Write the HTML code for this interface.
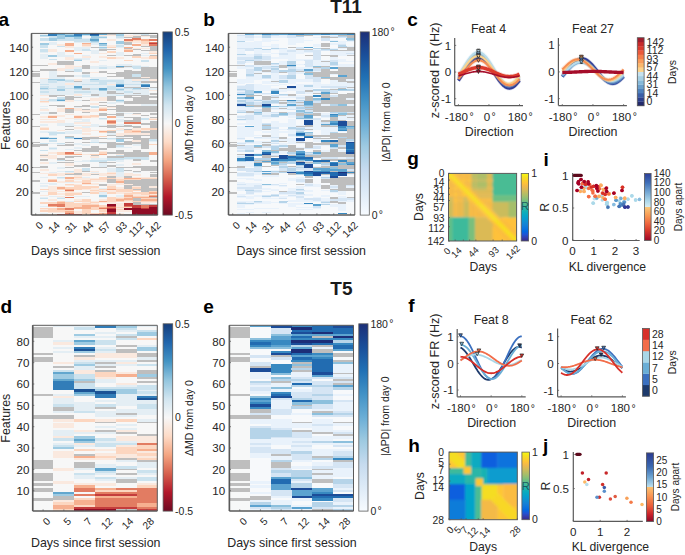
<!DOCTYPE html><html><head><meta charset="utf-8"><style>html,body{margin:0;padding:0;background:#fff;overflow:hidden}svg{display:block}text{font-family:"Liberation Sans",sans-serif}</style></head><body><svg width="685" height="555" viewBox="0 0 685 555" font-family="Liberation Sans, sans-serif">
<rect width="685" height="555" fill="#fff"/>
<text x="-1.60" y="25.60" font-size="19" text-anchor="start" font-weight="bold" fill="#000">a</text>
<text x="203.20" y="25.60" font-size="19" text-anchor="start" font-weight="bold" fill="#000">b</text>
<text x="407.20" y="26.30" font-size="19" text-anchor="start" font-weight="bold" fill="#000">c</text>
<text x="346.00" y="13.10" font-size="19" text-anchor="middle" font-weight="bold" fill="#1a1a1a">T11</text>
<text x="0.40" y="313.20" font-size="19" text-anchor="start" font-weight="bold" fill="#000">d</text>
<text x="203.20" y="313.20" font-size="19" text-anchor="start" font-weight="bold" fill="#000">e</text>
<text x="408.30" y="311.80" font-size="19" text-anchor="start" font-weight="bold" fill="#000">f</text>
<text x="341.40" y="294.80" font-size="19" text-anchor="middle" font-weight="bold" fill="#1a1a1a">T5</text>
<text x="407.20" y="165.30" font-size="19" text-anchor="start" font-weight="bold" fill="#000">g</text>
<text x="408.30" y="451.60" font-size="19" text-anchor="start" font-weight="bold" fill="#000">h</text>
<text x="543.40" y="165.80" font-size="19" text-anchor="start" font-weight="bold" fill="#000">i</text>
<text x="543.00" y="451.60" font-size="19" text-anchor="start" font-weight="bold" fill="#000">j</text>
<defs><clipPath id="hmc1"><rect x="31.5" y="33.4" width="126.2" height="181.6"/></clipPath><filter id="hmf1" x="-2%" y="-2%" width="104%" height="104%"><feGaussianBlur stdDeviation="0.25 0.45"/></filter></defs>
<g clip-path="url(#hmc1)"><g filter="url(#hmf1)" shape-rendering="crispEdges">
<path fill="#f7f8f8" d="M31.5 33.4h8.66v31.52h-8.66zM31.5 65.87h8.66v5.06h-8.66zM31.5 71.88h8.66v1.45h-8.66zM31.5 76.7h8.66v5.06h-8.66zM31.5 82.71h8.66v31.52h-8.66zM31.5 115.18h8.66v11.07h-8.66zM31.5 127.21h8.66v14.68h-8.66zM31.5 142.84h8.66v1.45h-8.66zM31.5 146.45h8.66v20.7h-8.66zM31.5 168.1h8.66v3.86h-8.66zM31.5 172.91h8.66v7.47h-8.66zM31.5 181.33h8.66v11.07h-8.66zM31.5 193.35h8.66v21.9h-8.66z"/>
<path fill="#bebebe" d="M31.5 64.67h8.66v1.45h-8.66zM31.5 70.68h8.66v1.45h-8.66zM31.5 73.09h8.66v3.86h-8.66zM31.5 81.51h8.66v1.45h-8.66zM31.5 113.98h8.66v1.45h-8.66zM31.5 126h8.66v1.45h-8.66zM31.5 141.64h8.66v1.45h-8.66zM31.5 144.04h8.66v2.66h-8.66zM31.5 166.89h8.66v1.45h-8.66zM31.5 171.7h8.66v1.45h-8.66zM31.5 180.12h8.66v1.45h-8.66zM31.5 192.15h8.66v1.45h-8.66zM39.91 64.67h8.66v1.45h-8.66zM39.91 68.28h8.66v2.66h-8.66zM39.91 144.04h8.66v2.66h-8.66zM39.91 154.87h8.66v1.45h-8.66zM39.91 158.48h8.66v2.66h-8.66zM39.91 165.69h8.66v2.66h-8.66zM48.33 68.28h8.66v2.66h-8.66zM48.33 94.74h8.66v2.66h-8.66zM48.33 104.36h8.66v1.45h-8.66zM48.33 111.57h8.66v2.66h-8.66zM56.74 61.06h8.66v3.86h-8.66zM56.74 74.29h8.66v2.66h-8.66zM56.74 94.74h8.66v1.45h-8.66zM56.74 104.36h8.66v2.66h-8.66zM56.74 145.25h8.66v1.45h-8.66zM56.74 157.27h8.66v2.66h-8.66zM56.74 162.08h8.66v1.45h-8.66zM65.15 61.06h8.66v3.86h-8.66zM65.15 70.68h8.66v1.45h-8.66zM65.15 74.29h8.66v2.66h-8.66zM65.15 95.94h8.66v3.86h-8.66zM65.15 109.17h8.66v3.86h-8.66zM65.15 126h8.66v1.45h-8.66zM65.15 128.41h8.66v1.45h-8.66zM65.15 135.63h8.66v1.45h-8.66zM65.15 141.64h8.66v1.45h-8.66zM65.15 144.04h8.66v2.66h-8.66zM65.15 156.07h8.66v2.66h-8.66zM65.15 159.68h8.66v1.45h-8.66zM65.15 162.08h8.66v1.45h-8.66zM65.15 166.89h8.66v1.45h-8.66zM65.15 174.11h8.66v1.45h-8.66zM73.57 80.3h8.66v1.45h-8.66zM73.57 97.14h8.66v1.45h-8.66zM73.57 105.56h8.66v1.45h-8.66zM73.57 150.06h8.66v1.45h-8.66zM73.57 156.07h8.66v1.45h-8.66zM73.57 164.49h8.66v2.66h-8.66zM73.57 172.91h8.66v2.66h-8.66zM81.98 64.67h8.66v5.06h-8.66zM81.98 71.88h8.66v2.66h-8.66zM81.98 87.52h8.66v2.66h-8.66zM81.98 99.55h8.66v1.45h-8.66zM81.98 104.36h8.66v2.66h-8.66zM81.98 109.17h8.66v1.45h-8.66zM81.98 111.57h8.66v1.45h-8.66zM81.98 136.83h8.66v3.86h-8.66zM81.98 141.64h8.66v1.45h-8.66zM81.98 147.65h8.66v5.06h-8.66zM81.98 163.29h8.66v3.86h-8.66zM81.98 170.5h8.66v1.45h-8.66zM81.98 192.15h8.66v1.45h-8.66zM90.39 46.63h8.66v1.45h-8.66zM90.39 93.53h8.66v2.66h-8.66zM90.39 136.83h8.66v2.66h-8.66zM90.39 145.25h8.66v7.47h-8.66zM90.39 154.87h8.66v1.45h-8.66zM90.39 166.89h8.66v1.45h-8.66zM90.39 174.11h8.66v1.45h-8.66zM98.81 49.03h8.66v2.66h-8.66zM98.81 70.68h8.66v2.66h-8.66zM98.81 101.95h8.66v1.45h-8.66zM98.81 104.36h8.66v1.45h-8.66zM98.81 112.77h8.66v3.86h-8.66zM98.81 126h8.66v1.45h-8.66zM98.81 138.03h8.66v1.45h-8.66zM98.81 141.64h8.66v1.45h-8.66zM98.81 147.65h8.66v2.66h-8.66zM98.81 162.08h8.66v1.45h-8.66zM98.81 166.89h8.66v1.45h-8.66zM98.81 183.73h8.66v2.66h-8.66zM107.22 33.4h8.66v1.45h-8.66zM107.22 49.03h8.66v1.45h-8.66zM107.22 55.05h8.66v1.45h-8.66zM107.22 68.28h8.66v1.45h-8.66zM107.22 73.09h8.66v1.45h-8.66zM107.22 75.49h8.66v1.45h-8.66zM107.22 91.13h8.66v2.66h-8.66zM107.22 95.94h8.66v5.06h-8.66zM107.22 105.56h8.66v1.45h-8.66zM107.22 109.17h8.66v1.45h-8.66zM107.22 113.98h8.66v1.45h-8.66zM107.22 124.8h8.66v3.86h-8.66zM107.22 130.81h8.66v2.66h-8.66zM107.22 134.42h8.66v1.45h-8.66zM107.22 141.64h8.66v6.26h-8.66zM107.22 151.26h8.66v2.66h-8.66zM107.22 156.07h8.66v2.66h-8.66zM107.22 162.08h8.66v1.45h-8.66zM107.22 164.49h8.66v2.66h-8.66zM107.22 175.31h8.66v2.66h-8.66zM107.22 178.92h8.66v3.86h-8.66zM115.63 67.07h8.66v1.45h-8.66zM115.63 71.88h8.66v5.06h-8.66zM115.63 92.33h8.66v1.45h-8.66zM115.63 104.36h8.66v7.47h-8.66zM115.63 112.77h8.66v3.86h-8.66zM115.63 126h8.66v1.45h-8.66zM115.63 135.63h8.66v1.45h-8.66zM115.63 138.03h8.66v1.45h-8.66zM115.63 142.84h8.66v2.66h-8.66zM115.63 150.06h8.66v3.86h-8.66zM115.63 156.07h8.66v2.66h-8.66zM115.63 166.89h8.66v1.45h-8.66zM124.05 37.01h8.66v1.45h-8.66zM124.05 41.82h8.66v3.86h-8.66zM124.05 47.83h8.66v1.45h-8.66zM124.05 55.05h8.66v1.45h-8.66zM124.05 65.87h8.66v1.45h-8.66zM124.05 69.48h8.66v9.87h-8.66zM124.05 86.32h8.66v1.45h-8.66zM124.05 94.74h8.66v3.86h-8.66zM124.05 100.75h8.66v3.86h-8.66zM124.05 105.56h8.66v6.26h-8.66zM124.05 116.38h8.66v1.45h-8.66zM124.05 119.99h8.66v2.66h-8.66zM124.05 124.8h8.66v2.66h-8.66zM124.05 128.41h8.66v1.45h-8.66zM124.05 134.42h8.66v2.66h-8.66zM124.05 138.03h8.66v1.45h-8.66zM124.05 140.44h8.66v5.06h-8.66zM124.05 151.26h8.66v6.26h-8.66zM124.05 163.29h8.66v1.45h-8.66zM124.05 166.89h8.66v1.45h-8.66zM124.05 169.3h8.66v1.45h-8.66zM124.05 175.31h8.66v2.66h-8.66zM124.05 180.12h8.66v3.86h-8.66zM124.05 184.93h8.66v3.86h-8.66zM124.05 213.8h8.66v1.45h-8.66zM132.46 35.81h8.66v2.66h-8.66zM132.46 49.03h8.66v1.45h-8.66zM132.46 53.85h8.66v2.66h-8.66zM132.46 70.68h8.66v3.86h-8.66zM132.46 76.7h8.66v2.66h-8.66zM132.46 86.32h8.66v1.45h-8.66zM132.46 92.33h8.66v1.45h-8.66zM132.46 94.74h8.66v1.45h-8.66zM132.46 97.14h8.66v7.47h-8.66zM132.46 105.56h8.66v6.26h-8.66zM132.46 112.77h8.66v1.45h-8.66zM132.46 116.38h8.66v6.26h-8.66zM132.46 126h8.66v2.66h-8.66zM132.46 134.42h8.66v6.26h-8.66zM132.46 141.64h8.66v2.66h-8.66zM132.46 150.06h8.66v7.47h-8.66zM132.46 158.48h8.66v2.66h-8.66zM132.46 165.69h8.66v2.66h-8.66zM132.46 170.5h8.66v1.45h-8.66zM132.46 180.12h8.66v6.26h-8.66zM132.46 188.54h8.66v1.45h-8.66zM132.46 198.16h8.66v2.66h-8.66zM132.46 201.77h8.66v3.86h-8.66zM140.87 34.6h8.66v1.45h-8.66zM140.87 45.43h8.66v1.45h-8.66zM140.87 50.24h8.66v1.45h-8.66zM140.87 67.07h8.66v9.87h-8.66zM140.87 77.9h8.66v1.45h-8.66zM140.87 80.3h8.66v2.66h-8.66zM140.87 87.52h8.66v1.45h-8.66zM140.87 94.74h8.66v9.87h-8.66zM140.87 105.56h8.66v6.26h-8.66zM140.87 115.18h8.66v1.45h-8.66zM140.87 122.4h8.66v2.66h-8.66zM140.87 130.81h8.66v2.66h-8.66zM140.87 134.42h8.66v1.45h-8.66zM140.87 138.03h8.66v11.07h-8.66zM140.87 151.26h8.66v6.26h-8.66zM140.87 163.29h8.66v1.45h-8.66zM140.87 165.69h8.66v5.06h-8.66zM140.87 178.92h8.66v13.48h-8.66zM140.87 204.18h8.66v1.45h-8.66zM149.29 34.6h8.66v3.86h-8.66zM149.29 45.43h8.66v6.26h-8.66zM149.29 55.05h8.66v1.45h-8.66zM149.29 67.07h8.66v12.28h-8.66zM149.29 80.3h8.66v2.66h-8.66zM149.29 86.32h8.66v1.45h-8.66zM149.29 92.33h8.66v2.66h-8.66zM149.29 95.94h8.66v2.66h-8.66zM149.29 99.55h8.66v5.06h-8.66zM149.29 105.56h8.66v6.26h-8.66zM149.29 112.77h8.66v2.66h-8.66zM149.29 116.38h8.66v1.45h-8.66zM149.29 121.19h8.66v7.47h-8.66zM149.29 129.61h8.66v9.87h-8.66zM149.29 159.68h8.66v2.66h-8.66zM149.29 165.69h8.66v5.06h-8.66zM149.29 171.7h8.66v1.45h-8.66zM149.29 174.11h8.66v2.66h-8.66zM149.29 178.92h8.66v7.47h-8.66zM149.29 187.34h8.66v3.86h-8.66zM149.29 196.96h8.66v1.45h-8.66zM149.29 204.18h8.66v1.45h-8.66z"/>
<path fill="#e4eef4" d="M39.91 33.4h8.66v1.45h-8.66zM39.91 51.44h8.66v1.45h-8.66zM39.91 53.85h8.66v5.06h-8.66zM39.91 79.1h8.66v5.06h-8.66zM39.91 85.11h8.66v1.45h-8.66zM39.91 89.92h8.66v1.45h-8.66zM39.91 92.33h8.66v2.66h-8.66zM39.91 99.55h8.66v1.45h-8.66zM39.91 105.56h8.66v1.45h-8.66zM39.91 107.96h8.66v1.45h-8.66zM39.91 111.57h8.66v2.66h-8.66zM39.91 123.6h8.66v2.66h-8.66zM39.91 130.81h8.66v2.66h-8.66zM39.91 176.52h8.66v1.45h-8.66zM39.91 182.53h8.66v1.45h-8.66zM39.91 184.93h8.66v2.66h-8.66zM39.91 190.95h8.66v1.45h-8.66zM39.91 196.96h8.66v1.45h-8.66zM39.91 205.38h8.66v1.45h-8.66zM39.91 212.59h8.66v1.45h-8.66zM48.33 41.82h8.66v3.86h-8.66zM48.33 70.68h8.66v8.67h-8.66zM48.33 82.71h8.66v5.06h-8.66zM48.33 88.72h8.66v6.26h-8.66zM48.33 100.75h8.66v1.45h-8.66zM48.33 130.81h8.66v1.45h-8.66zM48.33 134.42h8.66v1.45h-8.66zM48.33 136.83h8.66v1.45h-8.66zM48.33 139.23h8.66v1.45h-8.66zM48.33 142.84h8.66v1.45h-8.66zM48.33 146.45h8.66v1.45h-8.66zM48.33 148.85h8.66v1.45h-8.66zM48.33 162.08h8.66v2.66h-8.66zM48.33 171.7h8.66v1.45h-8.66zM48.33 182.53h8.66v2.66h-8.66zM48.33 195.76h8.66v1.45h-8.66zM56.74 51.44h8.66v6.26h-8.66zM56.74 76.7h8.66v2.66h-8.66zM56.74 80.3h8.66v6.26h-8.66zM56.74 91.13h8.66v3.86h-8.66zM56.74 100.75h8.66v1.45h-8.66zM56.74 122.4h8.66v3.86h-8.66zM56.74 144.04h8.66v1.45h-8.66zM56.74 166.89h8.66v2.66h-8.66zM56.74 170.5h8.66v1.45h-8.66zM56.74 177.72h8.66v1.45h-8.66zM56.74 196.96h8.66v1.45h-8.66zM65.15 55.05h8.66v2.66h-8.66zM65.15 68.28h8.66v2.66h-8.66zM65.15 79.1h8.66v1.45h-8.66zM65.15 81.51h8.66v1.45h-8.66zM65.15 85.11h8.66v2.66h-8.66zM65.15 88.72h8.66v6.26h-8.66zM65.15 122.4h8.66v3.86h-8.66zM65.15 130.81h8.66v3.86h-8.66zM65.15 148.85h8.66v1.45h-8.66zM65.15 171.7h8.66v1.45h-8.66zM65.15 181.33h8.66v1.45h-8.66zM65.15 200.57h8.66v1.45h-8.66zM73.57 41.82h8.66v1.45h-8.66zM73.57 46.63h8.66v5.06h-8.66zM73.57 57.45h8.66v1.45h-8.66zM73.57 67.07h8.66v2.66h-8.66zM73.57 74.29h8.66v2.66h-8.66zM73.57 81.51h8.66v5.06h-8.66zM73.57 89.92h8.66v1.45h-8.66zM73.57 92.33h8.66v1.45h-8.66zM73.57 95.94h8.66v1.45h-8.66zM73.57 99.55h8.66v1.45h-8.66zM73.57 106.76h8.66v1.45h-8.66zM73.57 118.79h8.66v1.45h-8.66zM73.57 121.19h8.66v1.45h-8.66zM73.57 124.8h8.66v1.45h-8.66zM73.57 129.61h8.66v5.06h-8.66zM73.57 136.83h8.66v1.45h-8.66zM73.57 139.23h8.66v1.45h-8.66zM73.57 142.84h8.66v2.66h-8.66zM73.57 146.45h8.66v2.66h-8.66zM73.57 160.88h8.66v1.45h-8.66zM73.57 195.76h8.66v1.45h-8.66zM81.98 38.21h8.66v1.45h-8.66zM81.98 41.82h8.66v1.45h-8.66zM81.98 46.63h8.66v2.66h-8.66zM81.98 55.05h8.66v1.45h-8.66zM81.98 57.45h8.66v2.66h-8.66zM81.98 74.29h8.66v1.45h-8.66zM81.98 76.7h8.66v1.45h-8.66zM81.98 79.1h8.66v5.06h-8.66zM81.98 85.11h8.66v2.66h-8.66zM81.98 89.92h8.66v1.45h-8.66zM81.98 92.33h8.66v2.66h-8.66zM81.98 95.94h8.66v1.45h-8.66zM81.98 118.79h8.66v3.86h-8.66zM81.98 126h8.66v2.66h-8.66zM81.98 144.04h8.66v2.66h-8.66zM81.98 159.68h8.66v2.66h-8.66zM81.98 176.52h8.66v1.45h-8.66zM81.98 195.76h8.66v1.45h-8.66zM90.39 43.02h8.66v2.66h-8.66zM90.39 50.24h8.66v3.86h-8.66zM90.39 65.87h8.66v3.86h-8.66zM90.39 76.7h8.66v2.66h-8.66zM90.39 81.51h8.66v2.66h-8.66zM90.39 85.11h8.66v2.66h-8.66zM90.39 89.92h8.66v3.86h-8.66zM90.39 95.94h8.66v1.45h-8.66zM90.39 123.6h8.66v3.86h-8.66zM90.39 139.23h8.66v2.66h-8.66zM90.39 157.27h8.66v2.66h-8.66zM90.39 171.7h8.66v1.45h-8.66zM98.81 38.21h8.66v1.45h-8.66zM98.81 45.43h8.66v1.45h-8.66zM98.81 59.86h8.66v1.45h-8.66zM98.81 64.67h8.66v2.66h-8.66zM98.81 76.7h8.66v3.86h-8.66zM98.81 85.11h8.66v2.66h-8.66zM98.81 91.13h8.66v6.26h-8.66zM98.81 118.79h8.66v1.45h-8.66zM98.81 124.8h8.66v1.45h-8.66zM98.81 142.84h8.66v1.45h-8.66zM98.81 157.27h8.66v2.66h-8.66zM98.81 163.29h8.66v3.86h-8.66zM98.81 187.34h8.66v1.45h-8.66zM98.81 192.15h8.66v2.66h-8.66zM98.81 196.96h8.66v1.45h-8.66zM107.22 65.87h8.66v2.66h-8.66zM107.22 79.1h8.66v1.45h-8.66zM107.22 81.51h8.66v2.66h-8.66zM107.22 85.11h8.66v1.45h-8.66zM107.22 89.92h8.66v1.45h-8.66zM107.22 93.53h8.66v2.66h-8.66zM107.22 101.95h8.66v2.66h-8.66zM107.22 133.22h8.66v1.45h-8.66zM107.22 139.23h8.66v1.45h-8.66zM107.22 168.1h8.66v3.86h-8.66zM115.63 38.21h8.66v1.45h-8.66zM115.63 44.22h8.66v1.45h-8.66zM115.63 46.63h8.66v1.45h-8.66zM115.63 51.44h8.66v5.06h-8.66zM115.63 63.47h8.66v2.66h-8.66zM115.63 79.1h8.66v1.45h-8.66zM115.63 86.32h8.66v1.45h-8.66zM115.63 91.13h8.66v1.45h-8.66zM115.63 93.53h8.66v1.45h-8.66zM115.63 98.34h8.66v1.45h-8.66zM115.63 101.95h8.66v1.45h-8.66zM115.63 111.57h8.66v1.45h-8.66zM115.63 116.38h8.66v1.45h-8.66zM115.63 118.79h8.66v3.86h-8.66zM115.63 123.6h8.66v2.66h-8.66zM115.63 129.61h8.66v1.45h-8.66zM115.63 136.83h8.66v1.45h-8.66zM115.63 146.45h8.66v1.45h-8.66zM115.63 159.68h8.66v2.66h-8.66zM115.63 163.29h8.66v2.66h-8.66zM115.63 171.7h8.66v5.06h-8.66zM115.63 194.55h8.66v2.66h-8.66zM124.05 63.47h8.66v2.66h-8.66zM124.05 67.07h8.66v1.45h-8.66zM124.05 79.1h8.66v5.06h-8.66zM124.05 85.11h8.66v1.45h-8.66zM124.05 88.72h8.66v2.66h-8.66zM124.05 92.33h8.66v2.66h-8.66zM124.05 112.77h8.66v1.45h-8.66zM124.05 146.45h8.66v1.45h-8.66zM124.05 158.48h8.66v1.45h-8.66zM132.46 33.4h8.66v1.45h-8.66zM132.46 64.67h8.66v1.45h-8.66zM132.46 68.28h8.66v1.45h-8.66zM132.46 81.51h8.66v2.66h-8.66zM132.46 85.11h8.66v1.45h-8.66zM132.46 89.92h8.66v2.66h-8.66zM132.46 93.53h8.66v1.45h-8.66zM132.46 144.04h8.66v2.66h-8.66zM132.46 171.7h8.66v1.45h-8.66zM140.87 52.64h8.66v1.45h-8.66zM140.87 55.05h8.66v1.45h-8.66zM140.87 65.87h8.66v1.45h-8.66zM140.87 79.1h8.66v1.45h-8.66zM140.87 82.71h8.66v1.45h-8.66zM140.87 86.32h8.66v1.45h-8.66zM140.87 88.72h8.66v6.26h-8.66zM140.87 104.36h8.66v1.45h-8.66zM149.29 87.52h8.66v2.66h-8.66zM149.29 104.36h8.66v1.45h-8.66zM149.29 140.44h8.66v1.45h-8.66z"/>
<path fill="#9fcbe2" d="M39.91 34.6h8.66v1.45h-8.66zM39.91 43.02h8.66v2.66h-8.66zM39.91 87.52h8.66v1.45h-8.66zM39.91 136.83h8.66v1.45h-8.66zM48.33 38.21h8.66v2.66h-8.66zM48.33 55.05h8.66v2.66h-8.66zM48.33 79.1h8.66v1.45h-8.66zM56.74 34.6h8.66v5.06h-8.66zM56.74 79.1h8.66v1.45h-8.66zM56.74 88.72h8.66v2.66h-8.66zM56.74 98.34h8.66v1.45h-8.66zM65.15 33.4h8.66v1.45h-8.66zM65.15 136.83h8.66v1.45h-8.66zM73.57 37.01h8.66v2.66h-8.66zM73.57 59.86h8.66v1.45h-8.66zM73.57 87.52h8.66v1.45h-8.66zM90.39 35.81h8.66v3.86h-8.66zM90.39 40.62h8.66v1.45h-8.66zM90.39 79.1h8.66v1.45h-8.66zM98.81 37.01h8.66v1.45h-8.66zM98.81 44.22h8.66v1.45h-8.66zM98.81 46.63h8.66v1.45h-8.66zM98.81 89.92h8.66v1.45h-8.66zM98.81 194.55h8.66v2.66h-8.66zM115.63 33.4h8.66v2.66h-8.66zM115.63 40.62h8.66v3.86h-8.66zM115.63 88.72h8.66v1.45h-8.66zM115.63 99.55h8.66v1.45h-8.66zM115.63 139.23h8.66v2.66h-8.66zM132.46 87.52h8.66v1.45h-8.66z"/>
<path fill="#cbe2ee" d="M39.91 35.81h8.66v1.45h-8.66zM39.91 38.21h8.66v2.66h-8.66zM39.91 45.43h8.66v2.66h-8.66zM39.91 49.03h8.66v2.66h-8.66zM39.91 83.91h8.66v1.45h-8.66zM39.91 86.32h8.66v1.45h-8.66zM39.91 88.72h8.66v1.45h-8.66zM39.91 91.13h8.66v1.45h-8.66zM39.91 142.84h8.66v1.45h-8.66zM39.91 150.06h8.66v1.45h-8.66zM39.91 198.16h8.66v1.45h-8.66zM48.33 35.81h8.66v2.66h-8.66zM48.33 58.66h8.66v1.45h-8.66zM48.33 80.3h8.66v2.66h-8.66zM48.33 87.52h8.66v1.45h-8.66zM48.33 98.34h8.66v2.66h-8.66zM48.33 132.02h8.66v2.66h-8.66zM48.33 140.44h8.66v1.45h-8.66zM48.33 147.65h8.66v1.45h-8.66zM56.74 39.41h8.66v1.45h-8.66zM56.74 45.43h8.66v1.45h-8.66zM56.74 86.32h8.66v2.66h-8.66zM56.74 97.14h8.66v1.45h-8.66zM56.74 132.02h8.66v2.66h-8.66zM56.74 142.84h8.66v1.45h-8.66zM56.74 159.68h8.66v1.45h-8.66zM56.74 176.52h8.66v1.45h-8.66zM56.74 198.16h8.66v1.45h-8.66zM65.15 37.01h8.66v3.86h-8.66zM65.15 80.3h8.66v1.45h-8.66zM65.15 87.52h8.66v1.45h-8.66zM65.15 138.03h8.66v1.45h-8.66zM65.15 170.5h8.66v1.45h-8.66zM73.57 39.41h8.66v2.66h-8.66zM73.57 58.66h8.66v1.45h-8.66zM73.57 69.48h8.66v2.66h-8.66zM73.57 88.72h8.66v1.45h-8.66zM73.57 91.13h8.66v1.45h-8.66zM81.98 34.6h8.66v1.45h-8.66zM81.98 39.41h8.66v2.66h-8.66zM81.98 49.03h8.66v2.66h-8.66zM81.98 75.49h8.66v1.45h-8.66zM81.98 83.91h8.66v1.45h-8.66zM81.98 91.13h8.66v1.45h-8.66zM81.98 168.1h8.66v2.66h-8.66zM90.39 41.82h8.66v1.45h-8.66zM90.39 80.3h8.66v1.45h-8.66zM90.39 83.91h8.66v1.45h-8.66zM90.39 87.52h8.66v2.66h-8.66zM90.39 105.56h8.66v2.66h-8.66zM90.39 141.64h8.66v1.45h-8.66zM90.39 159.68h8.66v2.66h-8.66zM98.81 35.81h8.66v1.45h-8.66zM98.81 47.83h8.66v1.45h-8.66zM98.81 67.07h8.66v2.66h-8.66zM98.81 80.3h8.66v5.06h-8.66zM98.81 117.59h8.66v1.45h-8.66zM98.81 159.68h8.66v2.66h-8.66zM107.22 80.3h8.66v1.45h-8.66zM107.22 86.32h8.66v3.86h-8.66zM107.22 138.03h8.66v1.45h-8.66zM107.22 158.48h8.66v2.66h-8.66zM115.63 35.81h8.66v2.66h-8.66zM115.63 45.43h8.66v1.45h-8.66zM115.63 80.3h8.66v3.86h-8.66zM115.63 87.52h8.66v1.45h-8.66zM115.63 89.92h8.66v1.45h-8.66zM115.63 94.74h8.66v1.45h-8.66zM115.63 100.75h8.66v1.45h-8.66zM115.63 145.25h8.66v1.45h-8.66zM115.63 154.87h8.66v1.45h-8.66zM115.63 158.48h8.66v1.45h-8.66zM115.63 168.1h8.66v3.86h-8.66zM124.05 83.91h8.66v1.45h-8.66zM124.05 87.52h8.66v1.45h-8.66zM124.05 91.13h8.66v1.45h-8.66zM124.05 157.27h8.66v1.45h-8.66zM132.46 65.87h8.66v2.66h-8.66zM132.46 74.29h8.66v2.66h-8.66zM132.46 80.3h8.66v1.45h-8.66zM132.46 83.91h8.66v1.45h-8.66zM132.46 88.72h8.66v1.45h-8.66zM132.46 157.27h8.66v1.45h-8.66zM140.87 33.4h8.66v1.45h-8.66zM140.87 59.86h8.66v2.66h-8.66zM140.87 117.59h8.66v2.66h-8.66zM140.87 157.27h8.66v2.66h-8.66zM149.29 139.23h8.66v1.45h-8.66z"/>
<path fill="#f7f7f7" d="M39.91 37.01h8.66v1.45h-8.66zM39.91 40.62h8.66v2.66h-8.66zM39.91 47.83h8.66v1.45h-8.66zM39.91 52.64h8.66v1.45h-8.66zM39.91 58.66h8.66v6.26h-8.66zM39.91 65.87h8.66v2.66h-8.66zM39.91 70.68h8.66v7.47h-8.66zM39.91 95.94h8.66v2.66h-8.66zM39.91 103.15h8.66v2.66h-8.66zM39.91 106.76h8.66v1.45h-8.66zM39.91 110.37h8.66v1.45h-8.66zM39.91 113.98h8.66v2.66h-8.66zM39.91 117.59h8.66v1.45h-8.66zM39.91 119.99h8.66v1.45h-8.66zM39.91 122.4h8.66v1.45h-8.66zM39.91 126h8.66v1.45h-8.66zM39.91 129.61h8.66v1.45h-8.66zM39.91 133.22h8.66v3.86h-8.66zM39.91 139.23h8.66v3.86h-8.66zM39.91 146.45h8.66v3.86h-8.66zM39.91 151.26h8.66v2.66h-8.66zM39.91 157.27h8.66v1.45h-8.66zM39.91 160.88h8.66v1.45h-8.66zM39.91 163.29h8.66v2.66h-8.66zM39.91 168.1h8.66v1.45h-8.66zM39.91 170.5h8.66v2.66h-8.66zM39.91 174.11h8.66v2.66h-8.66zM39.91 177.72h8.66v5.06h-8.66zM39.91 183.73h8.66v1.45h-8.66zM39.91 187.34h8.66v1.45h-8.66zM39.91 189.74h8.66v1.45h-8.66zM39.91 192.15h8.66v2.66h-8.66zM39.91 195.76h8.66v1.45h-8.66zM39.91 199.37h8.66v2.66h-8.66zM39.91 204.18h8.66v1.45h-8.66zM39.91 206.58h8.66v1.45h-8.66zM39.91 211.39h8.66v1.45h-8.66zM48.33 40.62h8.66v1.45h-8.66zM48.33 45.43h8.66v3.86h-8.66zM48.33 51.44h8.66v3.86h-8.66zM48.33 57.45h8.66v1.45h-8.66zM48.33 59.86h8.66v3.86h-8.66zM48.33 64.67h8.66v3.86h-8.66zM48.33 97.14h8.66v1.45h-8.66zM48.33 101.95h8.66v2.66h-8.66zM48.33 105.56h8.66v6.26h-8.66zM48.33 113.98h8.66v1.45h-8.66zM48.33 117.59h8.66v1.45h-8.66zM48.33 119.99h8.66v1.45h-8.66zM48.33 122.4h8.66v8.67h-8.66zM48.33 135.63h8.66v1.45h-8.66zM48.33 141.64h8.66v1.45h-8.66zM48.33 144.04h8.66v2.66h-8.66zM48.33 150.06h8.66v2.66h-8.66zM48.33 153.66h8.66v1.45h-8.66zM48.33 158.48h8.66v3.86h-8.66zM48.33 164.49h8.66v7.47h-8.66zM48.33 175.31h8.66v3.86h-8.66zM48.33 181.33h8.66v1.45h-8.66zM48.33 184.93h8.66v1.45h-8.66zM48.33 194.55h8.66v1.45h-8.66zM48.33 196.96h8.66v2.66h-8.66zM48.33 200.57h8.66v1.45h-8.66zM48.33 206.58h8.66v1.45h-8.66zM48.33 212.59h8.66v1.45h-8.66zM56.74 40.62h8.66v3.86h-8.66zM56.74 46.63h8.66v5.06h-8.66zM56.74 57.45h8.66v3.86h-8.66zM56.74 64.67h8.66v3.86h-8.66zM56.74 70.68h8.66v3.86h-8.66zM56.74 95.94h8.66v1.45h-8.66zM56.74 101.95h8.66v2.66h-8.66zM56.74 106.76h8.66v1.45h-8.66zM56.74 111.57h8.66v3.86h-8.66zM56.74 116.38h8.66v3.86h-8.66zM56.74 126h8.66v3.86h-8.66zM56.74 130.81h8.66v1.45h-8.66zM56.74 134.42h8.66v8.67h-8.66zM56.74 146.45h8.66v6.26h-8.66zM56.74 154.87h8.66v2.66h-8.66zM56.74 160.88h8.66v1.45h-8.66zM56.74 163.29h8.66v3.86h-8.66zM56.74 169.3h8.66v1.45h-8.66zM56.74 171.7h8.66v1.45h-8.66zM56.74 175.31h8.66v1.45h-8.66zM56.74 178.92h8.66v2.66h-8.66zM56.74 182.53h8.66v3.86h-8.66zM56.74 189.74h8.66v1.45h-8.66zM56.74 192.15h8.66v1.45h-8.66zM56.74 194.55h8.66v1.45h-8.66zM56.74 199.37h8.66v1.45h-8.66zM56.74 212.59h8.66v1.45h-8.66zM65.15 40.62h8.66v2.66h-8.66zM65.15 47.83h8.66v2.66h-8.66zM65.15 51.44h8.66v3.86h-8.66zM65.15 59.86h8.66v1.45h-8.66zM65.15 71.88h8.66v2.66h-8.66zM65.15 76.7h8.66v2.66h-8.66zM65.15 94.74h8.66v1.45h-8.66zM65.15 101.95h8.66v6.26h-8.66zM65.15 112.77h8.66v1.45h-8.66zM65.15 115.18h8.66v2.66h-8.66zM65.15 118.79h8.66v3.86h-8.66zM65.15 127.21h8.66v1.45h-8.66zM65.15 129.61h8.66v1.45h-8.66zM65.15 134.42h8.66v1.45h-8.66zM65.15 139.23h8.66v2.66h-8.66zM65.15 142.84h8.66v1.45h-8.66zM65.15 146.45h8.66v2.66h-8.66zM65.15 150.06h8.66v2.66h-8.66zM65.15 154.87h8.66v1.45h-8.66zM65.15 158.48h8.66v1.45h-8.66zM65.15 160.88h8.66v1.45h-8.66zM65.15 165.69h8.66v1.45h-8.66zM65.15 168.1h8.66v2.66h-8.66zM65.15 175.31h8.66v1.45h-8.66zM65.15 182.53h8.66v1.45h-8.66zM65.15 186.14h8.66v1.45h-8.66zM65.15 195.76h8.66v1.45h-8.66zM65.15 198.16h8.66v2.66h-8.66zM73.57 43.02h8.66v3.86h-8.66zM73.57 51.44h8.66v1.45h-8.66zM73.57 53.85h8.66v3.86h-8.66zM73.57 61.06h8.66v5.06h-8.66zM73.57 71.88h8.66v2.66h-8.66zM73.57 76.7h8.66v2.66h-8.66zM73.57 98.34h8.66v1.45h-8.66zM73.57 100.75h8.66v5.06h-8.66zM73.57 110.37h8.66v5.06h-8.66zM73.57 119.99h8.66v1.45h-8.66zM73.57 123.6h8.66v1.45h-8.66zM73.57 126h8.66v1.45h-8.66zM73.57 128.41h8.66v1.45h-8.66zM73.57 134.42h8.66v2.66h-8.66zM73.57 140.44h8.66v2.66h-8.66zM73.57 145.25h8.66v1.45h-8.66zM73.57 148.85h8.66v1.45h-8.66zM73.57 151.26h8.66v1.45h-8.66zM73.57 154.87h8.66v1.45h-8.66zM73.57 157.27h8.66v3.86h-8.66zM73.57 162.08h8.66v2.66h-8.66zM73.57 166.89h8.66v2.66h-8.66zM73.57 180.12h8.66v1.45h-8.66zM73.57 182.53h8.66v1.45h-8.66zM73.57 189.74h8.66v2.66h-8.66zM73.57 194.55h8.66v1.45h-8.66zM73.57 196.96h8.66v2.66h-8.66zM73.57 201.77h8.66v1.45h-8.66zM73.57 208.99h8.66v2.66h-8.66zM81.98 35.81h8.66v2.66h-8.66zM81.98 51.44h8.66v3.86h-8.66zM81.98 59.86h8.66v5.06h-8.66zM81.98 69.48h8.66v2.66h-8.66zM81.98 77.9h8.66v1.45h-8.66zM81.98 94.74h8.66v1.45h-8.66zM81.98 97.14h8.66v2.66h-8.66zM81.98 100.75h8.66v3.86h-8.66zM81.98 106.76h8.66v2.66h-8.66zM81.98 112.77h8.66v2.66h-8.66zM81.98 117.59h8.66v1.45h-8.66zM81.98 123.6h8.66v1.45h-8.66zM81.98 132.02h8.66v1.45h-8.66zM81.98 134.42h8.66v2.66h-8.66zM81.98 140.44h8.66v1.45h-8.66zM81.98 142.84h8.66v1.45h-8.66zM81.98 146.45h8.66v1.45h-8.66zM81.98 152.46h8.66v1.45h-8.66zM81.98 154.87h8.66v5.06h-8.66zM81.98 162.08h8.66v1.45h-8.66zM81.98 166.89h8.66v1.45h-8.66zM81.98 171.7h8.66v1.45h-8.66zM81.98 175.31h8.66v1.45h-8.66zM81.98 184.93h8.66v1.45h-8.66zM81.98 189.74h8.66v2.66h-8.66zM81.98 193.35h8.66v2.66h-8.66zM81.98 196.96h8.66v2.66h-8.66zM90.39 45.43h8.66v1.45h-8.66zM90.39 47.83h8.66v2.66h-8.66zM90.39 53.85h8.66v7.47h-8.66zM90.39 62.26h8.66v3.86h-8.66zM90.39 69.48h8.66v2.66h-8.66zM90.39 73.09h8.66v3.86h-8.66zM90.39 97.14h8.66v1.45h-8.66zM90.39 100.75h8.66v2.66h-8.66zM90.39 104.36h8.66v1.45h-8.66zM90.39 107.96h8.66v1.45h-8.66zM90.39 111.57h8.66v3.86h-8.66zM90.39 117.59h8.66v6.26h-8.66zM90.39 127.21h8.66v2.66h-8.66zM90.39 130.81h8.66v5.06h-8.66zM90.39 142.84h8.66v2.66h-8.66zM90.39 152.46h8.66v1.45h-8.66zM90.39 162.08h8.66v5.06h-8.66zM90.39 168.1h8.66v2.66h-8.66zM90.39 175.31h8.66v2.66h-8.66zM90.39 181.33h8.66v1.45h-8.66zM90.39 184.93h8.66v1.45h-8.66zM90.39 193.35h8.66v7.47h-8.66zM90.39 210.19h8.66v2.66h-8.66zM98.81 39.41h8.66v3.86h-8.66zM98.81 51.44h8.66v1.45h-8.66zM98.81 53.85h8.66v2.66h-8.66zM98.81 57.45h8.66v2.66h-8.66zM98.81 61.06h8.66v3.86h-8.66zM98.81 69.48h8.66v1.45h-8.66zM98.81 73.09h8.66v3.86h-8.66zM98.81 100.75h8.66v1.45h-8.66zM98.81 103.15h8.66v1.45h-8.66zM98.81 105.56h8.66v1.45h-8.66zM98.81 110.37h8.66v2.66h-8.66zM98.81 116.38h8.66v1.45h-8.66zM98.81 119.99h8.66v5.06h-8.66zM98.81 127.21h8.66v2.66h-8.66zM98.81 133.22h8.66v2.66h-8.66zM98.81 136.83h8.66v1.45h-8.66zM98.81 139.23h8.66v2.66h-8.66zM98.81 144.04h8.66v3.86h-8.66zM98.81 150.06h8.66v1.45h-8.66zM98.81 154.87h8.66v2.66h-8.66zM98.81 168.1h8.66v5.06h-8.66zM98.81 175.31h8.66v1.45h-8.66zM98.81 181.33h8.66v2.66h-8.66zM98.81 186.14h8.66v1.45h-8.66zM98.81 198.16h8.66v1.45h-8.66zM98.81 202.97h8.66v2.66h-8.66zM107.22 35.81h8.66v3.86h-8.66zM107.22 40.62h8.66v5.06h-8.66zM107.22 47.83h8.66v1.45h-8.66zM107.22 50.24h8.66v1.45h-8.66zM107.22 52.64h8.66v2.66h-8.66zM107.22 56.25h8.66v1.45h-8.66zM107.22 58.66h8.66v7.47h-8.66zM107.22 69.48h8.66v3.86h-8.66zM107.22 74.29h8.66v1.45h-8.66zM107.22 76.7h8.66v2.66h-8.66zM107.22 100.75h8.66v1.45h-8.66zM107.22 104.36h8.66v1.45h-8.66zM107.22 107.96h8.66v1.45h-8.66zM107.22 110.37h8.66v3.86h-8.66zM107.22 115.18h8.66v1.45h-8.66zM107.22 117.59h8.66v2.66h-8.66zM107.22 128.41h8.66v1.45h-8.66zM107.22 135.63h8.66v2.66h-8.66zM107.22 140.44h8.66v1.45h-8.66zM107.22 147.65h8.66v3.86h-8.66zM107.22 153.66h8.66v2.66h-8.66zM107.22 160.88h8.66v1.45h-8.66zM107.22 163.29h8.66v1.45h-8.66zM107.22 166.89h8.66v1.45h-8.66zM107.22 182.53h8.66v1.45h-8.66zM107.22 193.35h8.66v3.86h-8.66zM115.63 39.41h8.66v1.45h-8.66zM115.63 47.83h8.66v3.86h-8.66zM115.63 56.25h8.66v1.45h-8.66zM115.63 58.66h8.66v5.06h-8.66zM115.63 68.28h8.66v3.86h-8.66zM115.63 76.7h8.66v2.66h-8.66zM115.63 95.94h8.66v2.66h-8.66zM115.63 103.15h8.66v1.45h-8.66zM115.63 117.59h8.66v1.45h-8.66zM115.63 122.4h8.66v1.45h-8.66zM115.63 127.21h8.66v1.45h-8.66zM115.63 130.81h8.66v2.66h-8.66zM115.63 141.64h8.66v1.45h-8.66zM115.63 147.65h8.66v2.66h-8.66zM115.63 162.08h8.66v1.45h-8.66zM115.63 165.69h8.66v1.45h-8.66zM115.63 184.93h8.66v2.66h-8.66zM115.63 193.35h8.66v1.45h-8.66zM115.63 201.77h8.66v1.45h-8.66zM115.63 211.39h8.66v1.45h-8.66zM124.05 33.4h8.66v1.45h-8.66zM124.05 38.21h8.66v1.45h-8.66zM124.05 45.43h8.66v1.45h-8.66zM124.05 51.44h8.66v3.86h-8.66zM124.05 56.25h8.66v3.86h-8.66zM124.05 61.06h8.66v2.66h-8.66zM124.05 68.28h8.66v1.45h-8.66zM124.05 98.34h8.66v2.66h-8.66zM124.05 104.36h8.66v1.45h-8.66zM124.05 111.57h8.66v1.45h-8.66zM124.05 113.98h8.66v2.66h-8.66zM124.05 117.59h8.66v2.66h-8.66zM124.05 123.6h8.66v1.45h-8.66zM124.05 127.21h8.66v1.45h-8.66zM124.05 136.83h8.66v1.45h-8.66zM124.05 139.23h8.66v1.45h-8.66zM124.05 145.25h8.66v1.45h-8.66zM124.05 147.65h8.66v3.86h-8.66zM124.05 159.68h8.66v3.86h-8.66zM124.05 164.49h8.66v2.66h-8.66zM124.05 168.1h8.66v1.45h-8.66zM124.05 170.5h8.66v2.66h-8.66zM124.05 211.39h8.66v2.66h-8.66zM132.46 43.02h8.66v1.45h-8.66zM132.46 45.43h8.66v2.66h-8.66zM132.46 50.24h8.66v3.86h-8.66zM132.46 57.45h8.66v7.47h-8.66zM132.46 69.48h8.66v1.45h-8.66zM132.46 95.94h8.66v1.45h-8.66zM132.46 104.36h8.66v1.45h-8.66zM132.46 111.57h8.66v1.45h-8.66zM132.46 115.18h8.66v1.45h-8.66zM132.46 123.6h8.66v2.66h-8.66zM132.46 146.45h8.66v3.86h-8.66zM132.46 160.88h8.66v2.66h-8.66zM132.46 164.49h8.66v1.45h-8.66zM132.46 168.1h8.66v2.66h-8.66zM132.46 172.91h8.66v1.45h-8.66zM132.46 175.31h8.66v1.45h-8.66zM132.46 190.95h8.66v1.45h-8.66zM140.87 37.01h8.66v2.66h-8.66zM140.87 46.63h8.66v1.45h-8.66zM140.87 49.03h8.66v1.45h-8.66zM140.87 51.44h8.66v1.45h-8.66zM140.87 53.85h8.66v1.45h-8.66zM140.87 56.25h8.66v1.45h-8.66zM140.87 58.66h8.66v1.45h-8.66zM140.87 62.26h8.66v3.86h-8.66zM140.87 111.57h8.66v3.86h-8.66zM140.87 116.38h8.66v1.45h-8.66zM140.87 119.99h8.66v2.66h-8.66zM140.87 124.8h8.66v3.86h-8.66zM140.87 135.63h8.66v2.66h-8.66zM140.87 148.85h8.66v2.66h-8.66zM140.87 159.68h8.66v3.86h-8.66zM140.87 164.49h8.66v1.45h-8.66zM140.87 170.5h8.66v6.26h-8.66zM149.29 33.4h8.66v1.45h-8.66zM149.29 38.21h8.66v1.45h-8.66zM149.29 40.62h8.66v1.45h-8.66zM149.29 53.85h8.66v1.45h-8.66zM149.29 58.66h8.66v8.67h-8.66zM149.29 82.71h8.66v3.86h-8.66zM149.29 91.13h8.66v1.45h-8.66zM149.29 94.74h8.66v1.45h-8.66zM149.29 98.34h8.66v1.45h-8.66zM149.29 111.57h8.66v1.45h-8.66zM149.29 115.18h8.66v1.45h-8.66zM149.29 119.99h8.66v1.45h-8.66zM149.29 141.64h8.66v2.66h-8.66zM149.29 145.25h8.66v7.47h-8.66zM149.29 154.87h8.66v5.06h-8.66zM149.29 162.08h8.66v3.86h-8.66zM149.29 170.5h8.66v1.45h-8.66zM149.29 172.91h8.66v1.45h-8.66zM149.29 202.97h8.66v1.45h-8.66z"/>
<path fill="#fae9df" d="M39.91 77.9h8.66v1.45h-8.66zM39.91 94.74h8.66v1.45h-8.66zM39.91 98.34h8.66v1.45h-8.66zM39.91 101.95h8.66v1.45h-8.66zM39.91 109.17h8.66v1.45h-8.66zM39.91 116.38h8.66v1.45h-8.66zM39.91 118.79h8.66v1.45h-8.66zM39.91 121.19h8.66v1.45h-8.66zM39.91 127.21h8.66v1.45h-8.66zM39.91 153.66h8.66v1.45h-8.66zM39.91 156.07h8.66v1.45h-8.66zM39.91 162.08h8.66v1.45h-8.66zM39.91 169.3h8.66v1.45h-8.66zM39.91 172.91h8.66v1.45h-8.66zM39.91 194.55h8.66v1.45h-8.66zM39.91 208.99h8.66v1.45h-8.66zM48.33 49.03h8.66v2.66h-8.66zM48.33 63.47h8.66v1.45h-8.66zM48.33 115.18h8.66v1.45h-8.66zM48.33 118.79h8.66v1.45h-8.66zM48.33 121.19h8.66v1.45h-8.66zM48.33 152.46h8.66v1.45h-8.66zM48.33 154.87h8.66v3.86h-8.66zM48.33 172.91h8.66v1.45h-8.66zM48.33 186.14h8.66v6.26h-8.66zM48.33 199.37h8.66v1.45h-8.66zM48.33 211.39h8.66v1.45h-8.66zM56.74 44.22h8.66v1.45h-8.66zM56.74 68.28h8.66v2.66h-8.66zM56.74 107.96h8.66v3.86h-8.66zM56.74 115.18h8.66v1.45h-8.66zM56.74 119.99h8.66v2.66h-8.66zM56.74 129.61h8.66v1.45h-8.66zM56.74 172.91h8.66v2.66h-8.66zM56.74 181.33h8.66v1.45h-8.66zM56.74 186.14h8.66v1.45h-8.66zM56.74 190.95h8.66v1.45h-8.66zM56.74 193.35h8.66v1.45h-8.66zM56.74 195.76h8.66v1.45h-8.66zM56.74 206.58h8.66v1.45h-8.66zM56.74 211.39h8.66v1.45h-8.66zM65.15 45.43h8.66v2.66h-8.66zM65.15 57.45h8.66v2.66h-8.66zM65.15 64.67h8.66v3.86h-8.66zM65.15 82.71h8.66v2.66h-8.66zM65.15 99.55h8.66v2.66h-8.66zM65.15 113.98h8.66v1.45h-8.66zM65.15 117.59h8.66v1.45h-8.66zM65.15 163.29h8.66v2.66h-8.66zM65.15 178.92h8.66v1.45h-8.66zM65.15 184.93h8.66v1.45h-8.66zM65.15 192.15h8.66v1.45h-8.66zM73.57 65.87h8.66v1.45h-8.66zM73.57 79.1h8.66v1.45h-8.66zM73.57 93.53h8.66v2.66h-8.66zM73.57 107.96h8.66v2.66h-8.66zM73.57 115.18h8.66v1.45h-8.66zM73.57 117.59h8.66v1.45h-8.66zM73.57 122.4h8.66v1.45h-8.66zM73.57 127.21h8.66v1.45h-8.66zM73.57 152.46h8.66v1.45h-8.66zM73.57 169.3h8.66v3.86h-8.66zM73.57 175.31h8.66v1.45h-8.66zM73.57 177.72h8.66v2.66h-8.66zM73.57 181.33h8.66v1.45h-8.66zM73.57 183.73h8.66v1.45h-8.66zM73.57 192.15h8.66v1.45h-8.66zM73.57 199.37h8.66v1.45h-8.66zM73.57 211.39h8.66v2.66h-8.66zM81.98 45.43h8.66v1.45h-8.66zM81.98 56.25h8.66v1.45h-8.66zM81.98 110.37h8.66v1.45h-8.66zM81.98 115.18h8.66v1.45h-8.66zM81.98 122.4h8.66v1.45h-8.66zM81.98 124.8h8.66v1.45h-8.66zM81.98 128.41h8.66v3.86h-8.66zM81.98 133.22h8.66v1.45h-8.66zM81.98 153.66h8.66v1.45h-8.66zM81.98 172.91h8.66v2.66h-8.66zM81.98 177.72h8.66v2.66h-8.66zM81.98 183.73h8.66v1.45h-8.66zM81.98 188.54h8.66v1.45h-8.66zM81.98 201.77h8.66v1.45h-8.66zM90.39 61.06h8.66v1.45h-8.66zM90.39 71.88h8.66v1.45h-8.66zM90.39 98.34h8.66v2.66h-8.66zM90.39 103.15h8.66v1.45h-8.66zM90.39 109.17h8.66v2.66h-8.66zM90.39 116.38h8.66v1.45h-8.66zM90.39 129.61h8.66v1.45h-8.66zM90.39 135.63h8.66v1.45h-8.66zM90.39 156.07h8.66v1.45h-8.66zM90.39 170.5h8.66v1.45h-8.66zM90.39 172.91h8.66v1.45h-8.66zM90.39 177.72h8.66v1.45h-8.66zM90.39 180.12h8.66v1.45h-8.66zM90.39 182.53h8.66v2.66h-8.66zM90.39 187.34h8.66v2.66h-8.66zM90.39 190.95h8.66v1.45h-8.66zM90.39 200.57h8.66v1.45h-8.66zM90.39 202.97h8.66v1.45h-8.66zM98.81 34.6h8.66v1.45h-8.66zM98.81 52.64h8.66v1.45h-8.66zM98.81 56.25h8.66v1.45h-8.66zM98.81 97.14h8.66v3.86h-8.66zM98.81 106.76h8.66v1.45h-8.66zM98.81 129.61h8.66v1.45h-8.66zM98.81 151.26h8.66v1.45h-8.66zM98.81 172.91h8.66v2.66h-8.66zM98.81 180.12h8.66v1.45h-8.66zM98.81 189.74h8.66v1.45h-8.66zM98.81 199.37h8.66v1.45h-8.66zM98.81 201.77h8.66v1.45h-8.66zM98.81 211.39h8.66v1.45h-8.66zM107.22 34.6h8.66v1.45h-8.66zM107.22 39.41h8.66v1.45h-8.66zM107.22 45.43h8.66v1.45h-8.66zM107.22 83.91h8.66v1.45h-8.66zM107.22 106.76h8.66v1.45h-8.66zM107.22 123.6h8.66v1.45h-8.66zM107.22 171.7h8.66v1.45h-8.66zM107.22 174.11h8.66v1.45h-8.66zM107.22 183.73h8.66v2.66h-8.66zM107.22 189.74h8.66v2.66h-8.66zM107.22 201.77h8.66v2.66h-8.66zM115.63 57.45h8.66v1.45h-8.66zM115.63 128.41h8.66v1.45h-8.66zM115.63 133.22h8.66v2.66h-8.66zM115.63 153.66h8.66v1.45h-8.66zM115.63 176.52h8.66v2.66h-8.66zM115.63 182.53h8.66v2.66h-8.66zM115.63 187.34h8.66v1.45h-8.66zM115.63 192.15h8.66v1.45h-8.66zM115.63 196.96h8.66v1.45h-8.66zM115.63 202.97h8.66v3.86h-8.66zM115.63 207.78h8.66v1.45h-8.66zM115.63 210.19h8.66v1.45h-8.66zM115.63 212.59h8.66v1.45h-8.66zM124.05 34.6h8.66v2.66h-8.66zM124.05 133.22h8.66v1.45h-8.66zM124.05 172.91h8.66v2.66h-8.66zM124.05 183.73h8.66v1.45h-8.66zM124.05 192.15h8.66v1.45h-8.66zM124.05 200.57h8.66v2.66h-8.66zM124.05 210.19h8.66v1.45h-8.66zM132.46 34.6h8.66v1.45h-8.66zM132.46 40.62h8.66v2.66h-8.66zM132.46 47.83h8.66v1.45h-8.66zM132.46 79.1h8.66v1.45h-8.66zM132.46 113.98h8.66v1.45h-8.66zM132.46 128.41h8.66v1.45h-8.66zM132.46 133.22h8.66v1.45h-8.66zM132.46 140.44h8.66v1.45h-8.66zM132.46 163.29h8.66v1.45h-8.66zM132.46 174.11h8.66v1.45h-8.66zM132.46 176.52h8.66v1.45h-8.66zM132.46 186.14h8.66v1.45h-8.66zM132.46 193.35h8.66v2.66h-8.66zM140.87 35.81h8.66v1.45h-8.66zM140.87 44.22h8.66v1.45h-8.66zM140.87 47.83h8.66v1.45h-8.66zM140.87 57.45h8.66v1.45h-8.66zM140.87 76.7h8.66v1.45h-8.66zM140.87 129.61h8.66v1.45h-8.66zM140.87 133.22h8.66v1.45h-8.66zM140.87 176.52h8.66v1.45h-8.66zM140.87 194.55h8.66v1.45h-8.66zM140.87 201.77h8.66v2.66h-8.66zM149.29 51.44h8.66v1.45h-8.66zM149.29 79.1h8.66v1.45h-8.66zM149.29 89.92h8.66v1.45h-8.66zM149.29 117.59h8.66v1.45h-8.66zM149.29 176.52h8.66v1.45h-8.66zM149.29 186.14h8.66v1.45h-8.66zM149.29 193.35h8.66v1.45h-8.66zM149.29 201.77h8.66v1.45h-8.66z"/>
<path fill="#fcd6c0" d="M39.91 100.75h8.66v1.45h-8.66zM39.91 128.41h8.66v1.45h-8.66zM39.91 188.54h8.66v1.45h-8.66zM39.91 201.77h8.66v2.66h-8.66zM39.91 207.78h8.66v1.45h-8.66zM39.91 210.19h8.66v1.45h-8.66zM39.91 213.8h8.66v1.45h-8.66zM48.33 174.11h8.66v1.45h-8.66zM48.33 178.92h8.66v1.45h-8.66zM48.33 192.15h8.66v2.66h-8.66zM48.33 201.77h8.66v2.66h-8.66zM48.33 207.78h8.66v3.86h-8.66zM48.33 213.8h8.66v1.45h-8.66zM56.74 152.46h8.66v2.66h-8.66zM56.74 188.54h8.66v1.45h-8.66zM56.74 200.57h8.66v1.45h-8.66zM56.74 210.19h8.66v1.45h-8.66zM65.15 172.91h8.66v1.45h-8.66zM65.15 180.12h8.66v1.45h-8.66zM65.15 183.73h8.66v1.45h-8.66zM65.15 187.34h8.66v1.45h-8.66zM65.15 190.95h8.66v1.45h-8.66zM65.15 193.35h8.66v2.66h-8.66zM65.15 201.77h8.66v6.26h-8.66zM65.15 210.19h8.66v1.45h-8.66zM73.57 176.52h8.66v1.45h-8.66zM73.57 184.93h8.66v5.06h-8.66zM73.57 193.35h8.66v1.45h-8.66zM73.57 200.57h8.66v1.45h-8.66zM73.57 202.97h8.66v3.86h-8.66zM81.98 44.22h8.66v1.45h-8.66zM81.98 116.38h8.66v1.45h-8.66zM81.98 180.12h8.66v2.66h-8.66zM81.98 186.14h8.66v2.66h-8.66zM81.98 199.37h8.66v2.66h-8.66zM81.98 202.97h8.66v2.66h-8.66zM81.98 208.99h8.66v6.26h-8.66zM90.39 115.18h8.66v1.45h-8.66zM90.39 153.66h8.66v1.45h-8.66zM90.39 178.92h8.66v1.45h-8.66zM90.39 186.14h8.66v1.45h-8.66zM90.39 189.74h8.66v1.45h-8.66zM90.39 192.15h8.66v1.45h-8.66zM90.39 201.77h8.66v1.45h-8.66zM90.39 204.18h8.66v1.45h-8.66zM90.39 206.58h8.66v3.86h-8.66zM90.39 212.59h8.66v1.45h-8.66zM98.81 107.96h8.66v1.45h-8.66zM98.81 132.02h8.66v1.45h-8.66zM98.81 135.63h8.66v1.45h-8.66zM98.81 152.46h8.66v1.45h-8.66zM98.81 176.52h8.66v3.86h-8.66zM98.81 188.54h8.66v1.45h-8.66zM98.81 190.95h8.66v1.45h-8.66zM98.81 205.38h8.66v1.45h-8.66zM98.81 208.99h8.66v2.66h-8.66zM107.22 46.63h8.66v1.45h-8.66zM107.22 51.44h8.66v1.45h-8.66zM107.22 57.45h8.66v1.45h-8.66zM107.22 129.61h8.66v1.45h-8.66zM107.22 172.91h8.66v1.45h-8.66zM107.22 177.72h8.66v1.45h-8.66zM107.22 186.14h8.66v2.66h-8.66zM107.22 192.15h8.66v1.45h-8.66zM107.22 196.96h8.66v5.06h-8.66zM115.63 178.92h8.66v2.66h-8.66zM115.63 188.54h8.66v3.86h-8.66zM115.63 198.16h8.66v1.45h-8.66zM115.63 200.57h8.66v1.45h-8.66zM115.63 206.58h8.66v1.45h-8.66zM115.63 208.99h8.66v1.45h-8.66zM115.63 213.8h8.66v1.45h-8.66zM124.05 40.62h8.66v1.45h-8.66zM124.05 49.03h8.66v1.45h-8.66zM124.05 59.86h8.66v1.45h-8.66zM124.05 129.61h8.66v3.86h-8.66zM124.05 178.92h8.66v1.45h-8.66zM124.05 188.54h8.66v3.86h-8.66zM124.05 193.35h8.66v1.45h-8.66zM124.05 196.96h8.66v1.45h-8.66zM124.05 199.37h8.66v1.45h-8.66zM124.05 206.58h8.66v1.45h-8.66zM132.46 39.41h8.66v1.45h-8.66zM132.46 56.25h8.66v1.45h-8.66zM132.46 129.61h8.66v1.45h-8.66zM132.46 132.02h8.66v1.45h-8.66zM132.46 178.92h8.66v1.45h-8.66zM132.46 187.34h8.66v1.45h-8.66zM132.46 189.74h8.66v1.45h-8.66zM132.46 192.15h8.66v1.45h-8.66zM132.46 195.76h8.66v1.45h-8.66zM132.46 200.57h8.66v1.45h-8.66zM140.87 40.62h8.66v3.86h-8.66zM140.87 128.41h8.66v1.45h-8.66zM140.87 177.72h8.66v1.45h-8.66zM140.87 192.15h8.66v2.66h-8.66zM140.87 195.76h8.66v1.45h-8.66zM140.87 198.16h8.66v1.45h-8.66zM140.87 200.57h8.66v1.45h-8.66zM149.29 52.64h8.66v1.45h-8.66zM149.29 56.25h8.66v2.66h-8.66zM149.29 118.79h8.66v1.45h-8.66zM149.29 128.41h8.66v1.45h-8.66zM149.29 144.04h8.66v1.45h-8.66zM149.29 177.72h8.66v1.45h-8.66zM149.29 190.95h8.66v1.45h-8.66zM149.29 198.16h8.66v1.45h-8.66zM149.29 200.57h8.66v1.45h-8.66z"/>
<path fill="#327db8" d="M39.91 138.03h8.66v1.45h-8.66zM48.33 33.4h8.66v2.66h-8.66zM73.57 33.4h8.66v2.66h-8.66zM73.57 138.03h8.66v1.45h-8.66zM90.39 34.6h8.66v1.45h-8.66zM115.63 85.11h8.66v1.45h-8.66zM140.87 85.11h8.66v1.45h-8.66z"/>
<path fill="#f6b090" d="M48.33 116.38h8.66v1.45h-8.66zM48.33 180.12h8.66v1.45h-8.66zM48.33 205.38h8.66v1.45h-8.66zM56.74 187.34h8.66v1.45h-8.66zM56.74 201.77h8.66v2.66h-8.66zM56.74 207.78h8.66v2.66h-8.66zM65.15 43.02h8.66v2.66h-8.66zM65.15 50.24h8.66v1.45h-8.66zM65.15 107.96h8.66v1.45h-8.66zM65.15 153.66h8.66v1.45h-8.66zM65.15 176.52h8.66v2.66h-8.66zM65.15 188.54h8.66v1.45h-8.66zM65.15 211.39h8.66v1.45h-8.66zM73.57 52.64h8.66v1.45h-8.66zM73.57 116.38h8.66v1.45h-8.66zM73.57 153.66h8.66v1.45h-8.66zM73.57 206.58h8.66v2.66h-8.66zM81.98 43.02h8.66v1.45h-8.66zM81.98 182.53h8.66v1.45h-8.66zM81.98 205.38h8.66v3.86h-8.66zM90.39 205.38h8.66v1.45h-8.66zM98.81 109.17h8.66v1.45h-8.66zM98.81 130.81h8.66v1.45h-8.66zM98.81 153.66h8.66v1.45h-8.66zM98.81 200.57h8.66v1.45h-8.66zM98.81 206.58h8.66v1.45h-8.66zM98.81 212.59h8.66v1.45h-8.66zM107.22 116.38h8.66v1.45h-8.66zM107.22 119.99h8.66v1.45h-8.66zM107.22 122.4h8.66v1.45h-8.66zM107.22 188.54h8.66v1.45h-8.66zM115.63 181.33h8.66v1.45h-8.66zM115.63 199.37h8.66v1.45h-8.66zM124.05 46.63h8.66v1.45h-8.66zM124.05 50.24h8.66v1.45h-8.66zM124.05 177.72h8.66v1.45h-8.66zM124.05 194.55h8.66v2.66h-8.66zM124.05 198.16h8.66v1.45h-8.66zM132.46 44.22h8.66v1.45h-8.66zM132.46 130.81h8.66v1.45h-8.66zM132.46 177.72h8.66v1.45h-8.66zM132.46 196.96h8.66v1.45h-8.66zM140.87 39.41h8.66v1.45h-8.66zM140.87 196.96h8.66v1.45h-8.66zM140.87 199.37h8.66v1.45h-8.66zM149.29 152.46h8.66v2.66h-8.66zM149.29 192.15h8.66v1.45h-8.66zM149.29 194.55h8.66v1.45h-8.66zM149.29 199.37h8.66v1.45h-8.66z"/>
<path fill="#63a7ce" d="M48.33 138.03h8.66v1.45h-8.66zM56.74 33.4h8.66v1.45h-8.66zM56.74 99.55h8.66v1.45h-8.66zM65.15 34.6h8.66v2.66h-8.66zM73.57 35.81h8.66v1.45h-8.66zM73.57 86.32h8.66v1.45h-8.66zM81.98 33.4h8.66v1.45h-8.66zM90.39 39.41h8.66v1.45h-8.66zM98.81 33.4h8.66v1.45h-8.66zM98.81 43.02h8.66v1.45h-8.66zM98.81 87.52h8.66v2.66h-8.66zM115.63 65.87h8.66v1.45h-8.66zM115.63 83.91h8.66v1.45h-8.66zM140.87 83.91h8.66v1.45h-8.66z"/>
<path fill="#e27c62" d="M48.33 204.18h8.66v1.45h-8.66zM56.74 204.18h8.66v2.66h-8.66zM65.15 152.46h8.66v1.45h-8.66zM65.15 189.74h8.66v1.45h-8.66zM65.15 196.96h8.66v1.45h-8.66zM65.15 207.78h8.66v2.66h-8.66zM65.15 212.59h8.66v1.45h-8.66zM98.81 207.78h8.66v1.45h-8.66zM98.81 213.8h8.66v1.45h-8.66zM107.22 121.19h8.66v1.45h-8.66zM107.22 206.58h8.66v1.45h-8.66zM124.05 39.41h8.66v1.45h-8.66zM124.05 122.4h8.66v1.45h-8.66zM124.05 205.38h8.66v1.45h-8.66zM132.46 38.21h8.66v1.45h-8.66zM132.46 122.4h8.66v1.45h-8.66zM140.87 205.38h8.66v2.66h-8.66zM149.29 39.41h8.66v1.45h-8.66zM149.29 41.82h8.66v1.45h-8.66zM149.29 44.22h8.66v1.45h-8.66zM149.29 195.76h8.66v1.45h-8.66z"/>
<path fill="#c43c3c" d="M56.74 213.8h8.66v1.45h-8.66zM65.15 213.8h8.66v1.45h-8.66zM73.57 213.8h8.66v1.45h-8.66zM90.39 213.8h8.66v1.45h-8.66zM107.22 205.38h8.66v1.45h-8.66zM107.22 207.78h8.66v1.45h-8.66zM107.22 211.39h8.66v2.66h-8.66zM124.05 202.97h8.66v2.66h-8.66zM132.46 205.38h8.66v2.66h-8.66zM140.87 207.78h8.66v1.45h-8.66zM149.29 43.02h8.66v1.45h-8.66zM149.29 205.38h8.66v1.45h-8.66z"/>
<path fill="#1c5395" d="M90.39 33.4h8.66v1.45h-8.66z"/>
<path fill="#901126" d="M107.22 204.18h8.66v1.45h-8.66zM107.22 208.99h8.66v2.66h-8.66zM107.22 213.8h8.66v1.45h-8.66zM124.05 207.78h8.66v2.66h-8.66zM132.46 207.78h8.66v7.47h-8.66zM140.87 208.99h8.66v6.26h-8.66zM149.29 206.58h8.66v8.67h-8.66z"/>
</g></g>
<path d="M31.50 33.40 H157.70 V215.00 H31.50 Z" fill="none" stroke="#5a5a5a" stroke-width="1"/>
<line x1="31.50" y1="33.40" x2="31.50" y2="215.00" stroke="#5a5a5a" stroke-width="1.6"/>
<line x1="31.50" y1="215.00" x2="157.70" y2="215.00" stroke="#5a5a5a" stroke-width="1.2"/>
<line x1="31.50" y1="191.55" x2="33.10" y2="191.55" stroke="#5a5a5a" stroke-width="0.8"/>
<text x="28.60" y="195.85" font-size="11.6" text-anchor="end" font-weight="normal" fill="#262626">20</text>
<line x1="31.50" y1="167.50" x2="33.10" y2="167.50" stroke="#5a5a5a" stroke-width="0.8"/>
<text x="28.60" y="171.80" font-size="11.6" text-anchor="end" font-weight="normal" fill="#262626">40</text>
<line x1="31.50" y1="143.44" x2="33.10" y2="143.44" stroke="#5a5a5a" stroke-width="0.8"/>
<text x="28.60" y="147.74" font-size="11.6" text-anchor="end" font-weight="normal" fill="#262626">60</text>
<line x1="31.50" y1="119.39" x2="33.10" y2="119.39" stroke="#5a5a5a" stroke-width="0.8"/>
<text x="28.60" y="123.69" font-size="11.6" text-anchor="end" font-weight="normal" fill="#262626">80</text>
<line x1="31.50" y1="95.34" x2="33.10" y2="95.34" stroke="#5a5a5a" stroke-width="0.8"/>
<text x="28.60" y="99.64" font-size="11.6" text-anchor="end" font-weight="normal" fill="#262626">100</text>
<line x1="31.50" y1="71.28" x2="33.10" y2="71.28" stroke="#5a5a5a" stroke-width="0.8"/>
<text x="28.60" y="75.58" font-size="11.6" text-anchor="end" font-weight="normal" fill="#262626">120</text>
<line x1="31.50" y1="47.23" x2="33.10" y2="47.23" stroke="#5a5a5a" stroke-width="0.8"/>
<text x="28.60" y="51.53" font-size="11.6" text-anchor="end" font-weight="normal" fill="#262626">140</text>
<line x1="35.71" y1="215.00" x2="35.71" y2="213.40" stroke="#5a5a5a" stroke-width="0.8"/>
<text x="43.71" y="226.00" font-size="10.3" text-anchor="end" font-weight="normal" fill="#262626" transform="rotate(-45 43.71 226.00)">0</text>
<line x1="52.53" y1="215.00" x2="52.53" y2="213.40" stroke="#5a5a5a" stroke-width="0.8"/>
<text x="60.53" y="226.00" font-size="10.3" text-anchor="end" font-weight="normal" fill="#262626" transform="rotate(-45 60.53 226.00)">14</text>
<line x1="69.36" y1="215.00" x2="69.36" y2="213.40" stroke="#5a5a5a" stroke-width="0.8"/>
<text x="77.36" y="226.00" font-size="10.3" text-anchor="end" font-weight="normal" fill="#262626" transform="rotate(-45 77.36 226.00)">31</text>
<line x1="86.19" y1="215.00" x2="86.19" y2="213.40" stroke="#5a5a5a" stroke-width="0.8"/>
<text x="94.19" y="226.00" font-size="10.3" text-anchor="end" font-weight="normal" fill="#262626" transform="rotate(-45 94.19 226.00)">44</text>
<line x1="103.01" y1="215.00" x2="103.01" y2="213.40" stroke="#5a5a5a" stroke-width="0.8"/>
<text x="111.01" y="226.00" font-size="10.3" text-anchor="end" font-weight="normal" fill="#262626" transform="rotate(-45 111.01 226.00)">57</text>
<line x1="119.84" y1="215.00" x2="119.84" y2="213.40" stroke="#5a5a5a" stroke-width="0.8"/>
<text x="127.84" y="226.00" font-size="10.3" text-anchor="end" font-weight="normal" fill="#262626" transform="rotate(-45 127.84 226.00)">93</text>
<line x1="136.67" y1="215.00" x2="136.67" y2="213.40" stroke="#5a5a5a" stroke-width="0.8"/>
<text x="144.67" y="226.00" font-size="10.3" text-anchor="end" font-weight="normal" fill="#262626" transform="rotate(-45 144.67 226.00)">112</text>
<line x1="153.49" y1="215.00" x2="153.49" y2="213.40" stroke="#5a5a5a" stroke-width="0.8"/>
<text x="161.49" y="226.00" font-size="10.3" text-anchor="end" font-weight="normal" fill="#262626" transform="rotate(-45 161.49 226.00)">142</text>
<defs><linearGradient id="g_rdbu" x1="0" y1="1" x2="0" y2="0"><stop offset="0" stop-color="#6d0a22"/><stop offset="0.1" stop-color="#b2182b"/><stop offset="0.2" stop-color="#d6604d"/><stop offset="0.3" stop-color="#f4a582"/><stop offset="0.4" stop-color="#fddbc7"/><stop offset="0.5" stop-color="#f7f7f7"/><stop offset="0.6" stop-color="#d1e5f0"/><stop offset="0.7" stop-color="#92c5de"/><stop offset="0.8" stop-color="#4393c3"/><stop offset="0.9" stop-color="#2166ac"/><stop offset="1.0" stop-color="#163f7d"/></linearGradient></defs>
<rect x="162.90" y="31.90" width="9.40" height="183.20" fill="url(#g_rdbu)"/>
<rect x="162.90" y="31.90" width="9.40" height="183.20" fill="none" stroke="#5a5a5a" stroke-width="0.8"/>
<text x="174.80" y="35.70" font-size="10.5" text-anchor="start" font-weight="normal" fill="#262626">0.5</text>
<text x="174.80" y="127.20" font-size="10.5" text-anchor="start" font-weight="normal" fill="#262626">0</text>
<text x="174.80" y="218.70" font-size="10.5" text-anchor="start" font-weight="normal" fill="#262626">-0.5</text>
<text x="192.60" y="124.20" font-size="10.5" text-anchor="middle" font-weight="normal" fill="#262626" transform="rotate(-90 192.60 124.20)">ΔMD from day 0</text>
<text x="10.20" y="125.60" font-size="12.4" text-anchor="middle" font-weight="normal" fill="#262626" transform="rotate(-90 10.20 125.60)">Features</text>
<text x="95.70" y="254.70" font-size="12.4" text-anchor="middle" font-weight="normal" fill="#262626">Days since first session</text>
<defs><clipPath id="hmc2"><rect x="228.5" y="33.4" width="126.3" height="181.6"/></clipPath><filter id="hmf2" x="-2%" y="-2%" width="104%" height="104%"><feGaussianBlur stdDeviation="0.25 0.45"/></filter></defs>
<g clip-path="url(#hmc2)"><g filter="url(#hmf2)" shape-rendering="crispEdges">
<path fill="#f7f8f8" d="M228.5 33.4h8.67v31.52h-8.67zM228.5 65.87h8.67v5.06h-8.67zM228.5 71.88h8.67v1.45h-8.67zM228.5 76.7h8.67v5.06h-8.67zM228.5 82.71h8.67v31.52h-8.67zM228.5 115.18h8.67v11.07h-8.67zM228.5 127.21h8.67v14.68h-8.67zM228.5 142.84h8.67v1.45h-8.67zM228.5 146.45h8.67v20.7h-8.67zM228.5 168.1h8.67v3.86h-8.67zM228.5 172.91h8.67v7.47h-8.67zM228.5 181.33h8.67v11.07h-8.67zM228.5 193.35h8.67v21.9h-8.67z"/>
<path fill="#bebebe" d="M228.5 64.67h8.67v1.45h-8.67zM228.5 70.68h8.67v1.45h-8.67zM228.5 73.09h8.67v3.86h-8.67zM228.5 81.51h8.67v1.45h-8.67zM228.5 113.98h8.67v1.45h-8.67zM228.5 126h8.67v1.45h-8.67zM228.5 141.64h8.67v1.45h-8.67zM228.5 144.04h8.67v2.66h-8.67zM228.5 166.89h8.67v1.45h-8.67zM228.5 171.7h8.67v1.45h-8.67zM228.5 180.12h8.67v1.45h-8.67zM228.5 192.15h8.67v1.45h-8.67zM236.92 64.67h8.67v1.45h-8.67zM236.92 68.28h8.67v1.45h-8.67zM236.92 145.25h8.67v1.45h-8.67zM236.92 153.66h8.67v1.45h-8.67zM236.92 157.27h8.67v1.45h-8.67zM236.92 165.69h8.67v2.66h-8.67zM245.34 68.28h8.67v1.45h-8.67zM245.34 94.74h8.67v2.66h-8.67zM245.34 104.36h8.67v1.45h-8.67zM245.34 110.37h8.67v2.66h-8.67zM253.76 61.06h8.67v3.86h-8.67zM253.76 73.09h8.67v1.45h-8.67zM253.76 94.74h8.67v1.45h-8.67zM253.76 104.36h8.67v2.66h-8.67zM253.76 146.45h8.67v1.45h-8.67zM253.76 157.27h8.67v1.45h-8.67zM253.76 159.68h8.67v1.45h-8.67zM253.76 162.08h8.67v1.45h-8.67zM262.18 61.06h8.67v3.86h-8.67zM262.18 69.48h8.67v2.66h-8.67zM262.18 74.29h8.67v1.45h-8.67zM262.18 95.94h8.67v3.86h-8.67zM262.18 107.96h8.67v3.86h-8.67zM262.18 124.8h8.67v1.45h-8.67zM262.18 128.41h8.67v1.45h-8.67zM262.18 134.42h8.67v2.66h-8.67zM262.18 141.64h8.67v1.45h-8.67zM262.18 144.04h8.67v2.66h-8.67zM262.18 154.87h8.67v3.86h-8.67zM262.18 159.68h8.67v1.45h-8.67zM262.18 162.08h8.67v1.45h-8.67zM262.18 165.69h8.67v1.45h-8.67zM262.18 174.11h8.67v1.45h-8.67zM270.6 80.3h8.67v1.45h-8.67zM270.6 97.14h8.67v1.45h-8.67zM270.6 150.06h8.67v1.45h-8.67zM270.6 156.07h8.67v1.45h-8.67zM270.6 164.49h8.67v1.45h-8.67zM270.6 172.91h8.67v2.66h-8.67zM279.02 64.67h8.67v3.86h-8.67zM279.02 71.88h8.67v1.45h-8.67zM279.02 87.52h8.67v1.45h-8.67zM279.02 99.55h8.67v1.45h-8.67zM279.02 101.95h8.67v2.66h-8.67zM279.02 107.96h8.67v1.45h-8.67zM279.02 111.57h8.67v1.45h-8.67zM279.02 136.83h8.67v2.66h-8.67zM279.02 140.44h8.67v1.45h-8.67zM279.02 147.65h8.67v3.86h-8.67zM279.02 162.08h8.67v1.45h-8.67zM279.02 170.5h8.67v1.45h-8.67zM279.02 190.95h8.67v1.45h-8.67zM287.44 46.63h8.67v1.45h-8.67zM287.44 93.53h8.67v2.66h-8.67zM287.44 145.25h8.67v7.47h-8.67zM287.44 154.87h8.67v1.45h-8.67zM287.44 165.69h8.67v1.45h-8.67zM287.44 172.91h8.67v2.66h-8.67zM295.86 34.6h8.67v1.45h-8.67zM295.86 49.03h8.67v1.45h-8.67zM295.86 70.68h8.67v1.45h-8.67zM295.86 101.95h8.67v1.45h-8.67zM295.86 104.36h8.67v1.45h-8.67zM295.86 112.77h8.67v3.86h-8.67zM295.86 126h8.67v1.45h-8.67zM295.86 141.64h8.67v1.45h-8.67zM295.86 147.65h8.67v2.66h-8.67zM295.86 160.88h8.67v1.45h-8.67zM295.86 183.73h8.67v1.45h-8.67zM304.28 34.6h8.67v1.45h-8.67zM304.28 49.03h8.67v1.45h-8.67zM304.28 55.05h8.67v1.45h-8.67zM304.28 68.28h8.67v1.45h-8.67zM304.28 71.88h8.67v1.45h-8.67zM304.28 74.29h8.67v1.45h-8.67zM304.28 89.92h8.67v2.66h-8.67zM304.28 95.94h8.67v5.06h-8.67zM304.28 106.76h8.67v1.45h-8.67zM304.28 109.17h8.67v1.45h-8.67zM304.28 113.98h8.67v1.45h-8.67zM304.28 124.8h8.67v2.66h-8.67zM304.28 128.41h8.67v1.45h-8.67zM304.28 134.42h8.67v1.45h-8.67zM304.28 141.64h8.67v6.26h-8.67zM304.28 154.87h8.67v2.66h-8.67zM304.28 162.08h8.67v1.45h-8.67zM304.28 175.31h8.67v2.66h-8.67zM304.28 178.92h8.67v3.86h-8.67zM312.7 67.07h8.67v1.45h-8.67zM312.7 71.88h8.67v5.06h-8.67zM312.7 92.33h8.67v1.45h-8.67zM312.7 103.15h8.67v8.67h-8.67zM312.7 112.77h8.67v3.86h-8.67zM312.7 134.42h8.67v2.66h-8.67zM312.7 138.03h8.67v1.45h-8.67zM312.7 142.84h8.67v2.66h-8.67zM312.7 150.06h8.67v2.66h-8.67zM312.7 154.87h8.67v3.86h-8.67zM312.7 166.89h8.67v1.45h-8.67zM321.12 35.81h8.67v2.66h-8.67zM321.12 43.02h8.67v3.86h-8.67zM321.12 47.83h8.67v1.45h-8.67zM321.12 55.05h8.67v1.45h-8.67zM321.12 61.06h8.67v1.45h-8.67zM321.12 65.87h8.67v1.45h-8.67zM321.12 68.28h8.67v8.67h-8.67zM321.12 77.9h8.67v1.45h-8.67zM321.12 93.53h8.67v5.06h-8.67zM321.12 99.55h8.67v5.06h-8.67zM321.12 105.56h8.67v6.26h-8.67zM321.12 119.99h8.67v2.66h-8.67zM321.12 124.8h8.67v2.66h-8.67zM321.12 134.42h8.67v2.66h-8.67zM321.12 138.03h8.67v1.45h-8.67zM321.12 141.64h8.67v3.86h-8.67zM321.12 151.26h8.67v6.26h-8.67zM321.12 158.48h8.67v1.45h-8.67zM321.12 162.08h8.67v1.45h-8.67zM321.12 165.69h8.67v2.66h-8.67zM321.12 174.11h8.67v1.45h-8.67zM321.12 178.92h8.67v3.86h-8.67zM321.12 184.93h8.67v3.86h-8.67zM321.12 213.8h8.67v1.45h-8.67zM329.54 37.01h8.67v1.45h-8.67zM329.54 50.24h8.67v1.45h-8.67zM329.54 55.05h8.67v2.66h-8.67zM329.54 70.68h8.67v3.86h-8.67zM329.54 76.7h8.67v3.86h-8.67zM329.54 88.72h8.67v1.45h-8.67zM329.54 92.33h8.67v1.45h-8.67zM329.54 97.14h8.67v7.47h-8.67zM329.54 105.56h8.67v6.26h-8.67zM329.54 116.38h8.67v5.06h-8.67zM329.54 126h8.67v1.45h-8.67zM329.54 133.22h8.67v6.26h-8.67zM329.54 141.64h8.67v2.66h-8.67zM329.54 148.85h8.67v8.67h-8.67zM329.54 158.48h8.67v2.66h-8.67zM329.54 165.69h8.67v1.45h-8.67zM329.54 170.5h8.67v1.45h-8.67zM329.54 177.72h8.67v7.47h-8.67zM329.54 188.54h8.67v1.45h-8.67zM329.54 196.96h8.67v2.66h-8.67zM329.54 200.57h8.67v2.66h-8.67zM337.96 34.6h8.67v1.45h-8.67zM337.96 46.63h8.67v1.45h-8.67zM337.96 50.24h8.67v1.45h-8.67zM337.96 67.07h8.67v8.67h-8.67zM337.96 76.7h8.67v5.06h-8.67zM337.96 87.52h8.67v1.45h-8.67zM337.96 93.53h8.67v11.07h-8.67zM337.96 105.56h8.67v6.26h-8.67zM337.96 115.18h8.67v1.45h-8.67zM337.96 119.99h8.67v1.45h-8.67zM337.96 133.22h8.67v3.86h-8.67zM337.96 138.03h8.67v7.47h-8.67zM337.96 146.45h8.67v2.66h-8.67zM337.96 151.26h8.67v6.26h-8.67zM337.96 158.48h8.67v1.45h-8.67zM337.96 162.08h8.67v1.45h-8.67zM337.96 164.49h8.67v5.06h-8.67zM337.96 176.52h8.67v14.68h-8.67zM337.96 201.77h8.67v2.66h-8.67zM346.38 34.6h8.67v3.86h-8.67zM346.38 46.63h8.67v5.06h-8.67zM346.38 55.05h8.67v1.45h-8.67zM346.38 67.07h8.67v12.28h-8.67zM346.38 80.3h8.67v2.66h-8.67zM346.38 86.32h8.67v1.45h-8.67zM346.38 92.33h8.67v6.26h-8.67zM346.38 99.55h8.67v5.06h-8.67zM346.38 105.56h8.67v6.26h-8.67zM346.38 112.77h8.67v2.66h-8.67zM346.38 116.38h8.67v1.45h-8.67zM346.38 121.19h8.67v5.06h-8.67zM346.38 128.41h8.67v11.07h-8.67zM346.38 153.66h8.67v3.86h-8.67zM346.38 158.48h8.67v3.86h-8.67zM346.38 164.49h8.67v5.06h-8.67zM346.38 170.5h8.67v1.45h-8.67zM346.38 172.91h8.67v1.45h-8.67zM346.38 176.52h8.67v8.67h-8.67zM346.38 187.34h8.67v3.86h-8.67zM346.38 196.96h8.67v1.45h-8.67z"/>
<path fill="#e9f2fb" d="M236.92 33.4h8.67v1.45h-8.67zM236.92 35.81h8.67v5.06h-8.67zM236.92 41.82h8.67v6.26h-8.67zM236.92 49.03h8.67v5.06h-8.67zM236.92 55.05h8.67v2.66h-8.67zM236.92 59.86h8.67v1.45h-8.67zM236.92 63.47h8.67v1.45h-8.67zM236.92 65.87h8.67v2.66h-8.67zM236.92 79.1h8.67v5.06h-8.67zM236.92 85.11h8.67v1.45h-8.67zM236.92 91.13h8.67v1.45h-8.67zM236.92 95.94h8.67v1.45h-8.67zM236.92 98.34h8.67v1.45h-8.67zM236.92 106.76h8.67v3.86h-8.67zM236.92 115.18h8.67v1.45h-8.67zM236.92 117.59h8.67v1.45h-8.67zM236.92 119.99h8.67v1.45h-8.67zM236.92 122.4h8.67v2.66h-8.67zM236.92 126h8.67v12.28h-8.67zM236.92 139.23h8.67v1.45h-8.67zM236.92 141.64h8.67v1.45h-8.67zM236.92 144.04h8.67v1.45h-8.67zM236.92 148.85h8.67v1.45h-8.67zM236.92 151.26h8.67v1.45h-8.67zM236.92 154.87h8.67v1.45h-8.67zM236.92 162.08h8.67v3.86h-8.67zM236.92 171.7h8.67v1.45h-8.67zM236.92 175.31h8.67v1.45h-8.67zM236.92 177.72h8.67v1.45h-8.67zM236.92 181.33h8.67v2.66h-8.67zM236.92 184.93h8.67v2.66h-8.67zM236.92 188.54h8.67v2.66h-8.67zM236.92 193.35h8.67v2.66h-8.67zM236.92 196.96h8.67v1.45h-8.67zM236.92 200.57h8.67v1.45h-8.67zM236.92 204.18h8.67v3.86h-8.67zM236.92 208.99h8.67v1.45h-8.67zM236.92 212.59h8.67v1.45h-8.67zM245.34 38.21h8.67v2.66h-8.67zM245.34 41.82h8.67v6.26h-8.67zM245.34 53.85h8.67v3.86h-8.67zM245.34 61.06h8.67v2.66h-8.67zM245.34 67.07h8.67v1.45h-8.67zM245.34 76.7h8.67v6.26h-8.67zM245.34 106.76h8.67v3.86h-8.67zM245.34 112.77h8.67v2.66h-8.67zM245.34 119.99h8.67v5.06h-8.67zM245.34 127.21h8.67v9.87h-8.67zM245.34 142.84h8.67v1.45h-8.67zM245.34 151.26h8.67v1.45h-8.67zM245.34 162.08h8.67v5.06h-8.67zM245.34 171.7h8.67v1.45h-8.67zM245.34 175.31h8.67v1.45h-8.67zM245.34 177.72h8.67v2.66h-8.67zM245.34 182.53h8.67v5.06h-8.67zM245.34 193.35h8.67v1.45h-8.67zM245.34 195.76h8.67v3.86h-8.67zM245.34 200.57h8.67v2.66h-8.67zM245.34 204.18h8.67v1.45h-8.67zM245.34 208.99h8.67v1.45h-8.67zM245.34 211.39h8.67v1.45h-8.67zM245.34 213.8h8.67v1.45h-8.67zM253.76 35.81h8.67v2.66h-8.67zM253.76 40.62h8.67v7.47h-8.67zM253.76 49.03h8.67v5.06h-8.67zM253.76 64.67h8.67v2.66h-8.67zM253.76 70.68h8.67v2.66h-8.67zM253.76 74.29h8.67v6.26h-8.67zM253.76 83.91h8.67v7.47h-8.67zM253.76 98.34h8.67v1.45h-8.67zM253.76 100.75h8.67v1.45h-8.67zM253.76 106.76h8.67v1.45h-8.67zM253.76 115.18h8.67v15.88h-8.67zM253.76 134.42h8.67v1.45h-8.67zM253.76 138.03h8.67v1.45h-8.67zM253.76 140.44h8.67v3.86h-8.67zM253.76 147.65h8.67v2.66h-8.67zM253.76 152.46h8.67v1.45h-8.67zM253.76 171.7h8.67v3.86h-8.67zM253.76 178.92h8.67v2.66h-8.67zM253.76 182.53h8.67v2.66h-8.67zM253.76 188.54h8.67v1.45h-8.67zM253.76 192.15h8.67v1.45h-8.67zM253.76 194.55h8.67v2.66h-8.67zM253.76 202.97h8.67v1.45h-8.67zM253.76 207.78h8.67v1.45h-8.67zM262.18 38.21h8.67v3.86h-8.67zM262.18 45.43h8.67v1.45h-8.67zM262.18 50.24h8.67v2.66h-8.67zM262.18 53.85h8.67v2.66h-8.67zM262.18 59.86h8.67v1.45h-8.67zM262.18 64.67h8.67v1.45h-8.67zM262.18 68.28h8.67v1.45h-8.67zM262.18 71.88h8.67v1.45h-8.67zM262.18 80.3h8.67v3.86h-8.67zM262.18 85.11h8.67v6.26h-8.67zM262.18 93.53h8.67v1.45h-8.67zM262.18 111.57h8.67v3.86h-8.67zM262.18 116.38h8.67v2.66h-8.67zM262.18 130.81h8.67v2.66h-8.67zM262.18 136.83h8.67v2.66h-8.67zM262.18 140.44h8.67v1.45h-8.67zM262.18 142.84h8.67v1.45h-8.67zM262.18 171.7h8.67v1.45h-8.67zM262.18 175.31h8.67v1.45h-8.67zM262.18 184.93h8.67v1.45h-8.67zM262.18 187.34h8.67v2.66h-8.67zM262.18 190.95h8.67v1.45h-8.67zM262.18 196.96h8.67v2.66h-8.67zM262.18 200.57h8.67v3.86h-8.67zM262.18 207.78h8.67v1.45h-8.67zM262.18 211.39h8.67v1.45h-8.67zM270.6 35.81h8.67v2.66h-8.67zM270.6 39.41h8.67v1.45h-8.67zM270.6 44.22h8.67v3.86h-8.67zM270.6 49.03h8.67v1.45h-8.67zM270.6 52.64h8.67v1.45h-8.67zM270.6 56.25h8.67v2.66h-8.67zM270.6 64.67h8.67v1.45h-8.67zM270.6 73.09h8.67v7.47h-8.67zM270.6 81.51h8.67v2.66h-8.67zM270.6 85.11h8.67v1.45h-8.67zM270.6 87.52h8.67v1.45h-8.67zM270.6 98.34h8.67v1.45h-8.67zM270.6 106.76h8.67v1.45h-8.67zM270.6 109.17h8.67v1.45h-8.67zM270.6 112.77h8.67v1.45h-8.67zM270.6 116.38h8.67v1.45h-8.67zM270.6 121.19h8.67v6.26h-8.67zM270.6 128.41h8.67v8.67h-8.67zM270.6 138.03h8.67v2.66h-8.67zM270.6 141.64h8.67v1.45h-8.67zM270.6 153.66h8.67v1.45h-8.67zM270.6 166.89h8.67v1.45h-8.67zM270.6 169.3h8.67v1.45h-8.67zM270.6 175.31h8.67v1.45h-8.67zM270.6 184.93h8.67v1.45h-8.67zM270.6 188.54h8.67v2.66h-8.67zM270.6 198.16h8.67v1.45h-8.67zM270.6 201.77h8.67v1.45h-8.67zM270.6 207.78h8.67v1.45h-8.67zM279.02 34.6h8.67v3.86h-8.67zM279.02 49.03h8.67v3.86h-8.67zM279.02 55.05h8.67v3.86h-8.67zM279.02 61.06h8.67v3.86h-8.67zM279.02 74.29h8.67v1.45h-8.67zM279.02 79.1h8.67v1.45h-8.67zM279.02 83.91h8.67v1.45h-8.67zM279.02 88.72h8.67v3.86h-8.67zM279.02 97.14h8.67v1.45h-8.67zM279.02 100.75h8.67v1.45h-8.67zM279.02 104.36h8.67v1.45h-8.67zM279.02 106.76h8.67v1.45h-8.67zM279.02 109.17h8.67v1.45h-8.67zM279.02 122.4h8.67v5.06h-8.67zM279.02 128.41h8.67v1.45h-8.67zM279.02 130.81h8.67v2.66h-8.67zM279.02 139.23h8.67v1.45h-8.67zM279.02 142.84h8.67v2.66h-8.67zM279.02 146.45h8.67v1.45h-8.67zM279.02 151.26h8.67v2.66h-8.67zM279.02 182.53h8.67v1.45h-8.67zM279.02 186.14h8.67v1.45h-8.67zM279.02 193.35h8.67v1.45h-8.67zM279.02 195.76h8.67v2.66h-8.67zM279.02 202.97h8.67v1.45h-8.67zM287.44 38.21h8.67v7.47h-8.67zM287.44 49.03h8.67v1.45h-8.67zM287.44 51.44h8.67v9.87h-8.67zM287.44 79.1h8.67v5.06h-8.67zM287.44 88.72h8.67v2.66h-8.67zM287.44 95.94h8.67v2.66h-8.67zM287.44 106.76h8.67v2.66h-8.67zM287.44 115.18h8.67v2.66h-8.67zM287.44 118.79h8.67v8.67h-8.67zM287.44 129.61h8.67v5.06h-8.67zM287.44 135.63h8.67v1.45h-8.67zM287.44 138.03h8.67v6.26h-8.67zM287.44 163.29h8.67v1.45h-8.67zM287.44 177.72h8.67v3.86h-8.67zM287.44 187.34h8.67v3.86h-8.67zM287.44 193.35h8.67v1.45h-8.67zM287.44 195.76h8.67v1.45h-8.67zM287.44 199.37h8.67v2.66h-8.67zM287.44 202.97h8.67v3.86h-8.67zM295.86 37.01h8.67v6.26h-8.67zM295.86 50.24h8.67v3.86h-8.67zM295.86 58.66h8.67v2.66h-8.67zM295.86 63.47h8.67v1.45h-8.67zM295.86 67.07h8.67v2.66h-8.67zM295.86 71.88h8.67v2.66h-8.67zM295.86 79.1h8.67v2.66h-8.67zM295.86 83.91h8.67v7.47h-8.67zM295.86 94.74h8.67v2.66h-8.67zM295.86 98.34h8.67v1.45h-8.67zM295.86 118.79h8.67v1.45h-8.67zM295.86 124.8h8.67v1.45h-8.67zM295.86 142.84h8.67v1.45h-8.67zM295.86 146.45h8.67v1.45h-8.67zM295.86 169.3h8.67v1.45h-8.67zM295.86 176.52h8.67v2.66h-8.67zM295.86 181.33h8.67v1.45h-8.67zM295.86 186.14h8.67v2.66h-8.67zM295.86 190.95h8.67v1.45h-8.67zM295.86 194.55h8.67v1.45h-8.67zM295.86 198.16h8.67v3.86h-8.67zM295.86 202.97h8.67v2.66h-8.67zM295.86 206.58h8.67v1.45h-8.67zM295.86 208.99h8.67v1.45h-8.67zM304.28 39.41h8.67v1.45h-8.67zM304.28 51.44h8.67v1.45h-8.67zM304.28 58.66h8.67v1.45h-8.67zM304.28 67.07h8.67v1.45h-8.67zM304.28 79.1h8.67v2.66h-8.67zM304.28 83.91h8.67v1.45h-8.67zM304.28 86.32h8.67v3.86h-8.67zM304.28 92.33h8.67v1.45h-8.67zM304.28 94.74h8.67v1.45h-8.67zM304.28 127.21h8.67v1.45h-8.67zM304.28 129.61h8.67v1.45h-8.67zM304.28 182.53h8.67v1.45h-8.67zM304.28 186.14h8.67v1.45h-8.67zM304.28 189.74h8.67v2.66h-8.67zM304.28 193.35h8.67v2.66h-8.67zM304.28 199.37h8.67v2.66h-8.67zM304.28 204.18h8.67v1.45h-8.67zM304.28 206.58h8.67v1.45h-8.67zM304.28 208.99h8.67v1.45h-8.67zM312.7 34.6h8.67v1.45h-8.67zM312.7 37.01h8.67v1.45h-8.67zM312.7 44.22h8.67v2.66h-8.67zM312.7 49.03h8.67v1.45h-8.67zM312.7 59.86h8.67v6.26h-8.67zM312.7 70.68h8.67v1.45h-8.67zM312.7 81.51h8.67v6.26h-8.67zM312.7 91.13h8.67v1.45h-8.67zM312.7 111.57h8.67v1.45h-8.67zM312.7 119.99h8.67v9.87h-8.67zM312.7 139.23h8.67v2.66h-8.67zM312.7 145.25h8.67v1.45h-8.67zM312.7 165.69h8.67v1.45h-8.67zM312.7 175.31h8.67v1.45h-8.67zM312.7 183.73h8.67v3.86h-8.67zM312.7 196.96h8.67v1.45h-8.67zM312.7 200.57h8.67v1.45h-8.67zM312.7 207.78h8.67v1.45h-8.67zM321.12 34.6h8.67v1.45h-8.67zM321.12 59.86h8.67v1.45h-8.67zM321.12 62.26h8.67v3.86h-8.67zM321.12 83.91h8.67v2.66h-8.67zM321.12 104.36h8.67v1.45h-8.67zM321.12 112.77h8.67v2.66h-8.67zM321.12 116.38h8.67v1.45h-8.67zM321.12 127.21h8.67v7.47h-8.67zM321.12 139.23h8.67v1.45h-8.67zM321.12 145.25h8.67v1.45h-8.67zM321.12 150.06h8.67v1.45h-8.67zM321.12 175.31h8.67v1.45h-8.67zM321.12 189.74h8.67v1.45h-8.67zM321.12 194.55h8.67v2.66h-8.67zM321.12 198.16h8.67v2.66h-8.67zM321.12 202.97h8.67v1.45h-8.67zM329.54 34.6h8.67v1.45h-8.67zM329.54 39.41h8.67v1.45h-8.67zM329.54 43.02h8.67v2.66h-8.67zM329.54 47.83h8.67v1.45h-8.67zM329.54 51.44h8.67v3.86h-8.67zM329.54 57.45h8.67v2.66h-8.67zM329.54 74.29h8.67v1.45h-8.67zM329.54 80.3h8.67v6.26h-8.67zM329.54 87.52h8.67v1.45h-8.67zM329.54 127.21h8.67v5.06h-8.67zM329.54 184.93h8.67v1.45h-8.67zM329.54 187.34h8.67v1.45h-8.67zM329.54 192.15h8.67v1.45h-8.67zM329.54 204.18h8.67v2.66h-8.67zM337.96 40.62h8.67v3.86h-8.67zM337.96 47.83h8.67v1.45h-8.67zM337.96 51.44h8.67v5.06h-8.67zM337.96 58.66h8.67v3.86h-8.67zM337.96 63.47h8.67v3.86h-8.67zM337.96 81.51h8.67v5.06h-8.67zM337.96 116.38h8.67v3.86h-8.67zM337.96 130.81h8.67v1.45h-8.67zM337.96 150.06h8.67v1.45h-8.67zM337.96 157.27h8.67v1.45h-8.67zM337.96 190.95h8.67v3.86h-8.67zM337.96 195.76h8.67v2.66h-8.67zM337.96 200.57h8.67v1.45h-8.67zM337.96 204.18h8.67v7.47h-8.67zM346.38 40.62h8.67v1.45h-8.67zM346.38 45.43h8.67v1.45h-8.67zM346.38 51.44h8.67v1.45h-8.67zM346.38 53.85h8.67v1.45h-8.67zM346.38 61.06h8.67v1.45h-8.67zM346.38 63.47h8.67v3.86h-8.67zM346.38 79.1h8.67v1.45h-8.67zM346.38 82.71h8.67v3.86h-8.67zM346.38 87.52h8.67v1.45h-8.67zM346.38 98.34h8.67v1.45h-8.67zM346.38 104.36h8.67v1.45h-8.67zM346.38 115.18h8.67v1.45h-8.67zM346.38 117.59h8.67v2.66h-8.67zM346.38 174.11h8.67v1.45h-8.67zM346.38 186.14h8.67v1.45h-8.67zM346.38 199.37h8.67v2.66h-8.67z"/>
<path fill="#d5e5f4" d="M236.92 34.6h8.67v1.45h-8.67zM236.92 47.83h8.67v1.45h-8.67zM236.92 57.45h8.67v2.66h-8.67zM236.92 61.06h8.67v2.66h-8.67zM236.92 86.32h8.67v2.66h-8.67zM236.92 89.92h8.67v1.45h-8.67zM236.92 92.33h8.67v1.45h-8.67zM236.92 94.74h8.67v1.45h-8.67zM236.92 101.95h8.67v1.45h-8.67zM236.92 105.56h8.67v1.45h-8.67zM236.92 110.37h8.67v1.45h-8.67zM236.92 116.38h8.67v1.45h-8.67zM236.92 138.03h8.67v1.45h-8.67zM236.92 142.84h8.67v1.45h-8.67zM236.92 146.45h8.67v2.66h-8.67zM236.92 150.06h8.67v1.45h-8.67zM236.92 156.07h8.67v1.45h-8.67zM236.92 168.1h8.67v2.66h-8.67zM236.92 172.91h8.67v2.66h-8.67zM236.92 183.73h8.67v1.45h-8.67zM236.92 187.34h8.67v1.45h-8.67zM236.92 195.76h8.67v1.45h-8.67zM236.92 201.77h8.67v1.45h-8.67zM245.34 34.6h8.67v3.86h-8.67zM245.34 47.83h8.67v3.86h-8.67zM245.34 57.45h8.67v2.66h-8.67zM245.34 64.67h8.67v2.66h-8.67zM245.34 69.48h8.67v5.06h-8.67zM245.34 75.49h8.67v1.45h-8.67zM245.34 83.91h8.67v6.26h-8.67zM245.34 98.34h8.67v3.86h-8.67zM245.34 115.18h8.67v5.06h-8.67zM245.34 141.64h8.67v1.45h-8.67zM245.34 145.25h8.67v5.06h-8.67zM245.34 160.88h8.67v1.45h-8.67zM245.34 168.1h8.67v3.86h-8.67zM245.34 172.91h8.67v2.66h-8.67zM245.34 187.34h8.67v2.66h-8.67zM245.34 190.95h8.67v2.66h-8.67zM253.76 53.85h8.67v2.66h-8.67zM253.76 58.66h8.67v2.66h-8.67zM253.76 92.33h8.67v1.45h-8.67zM253.76 101.95h8.67v2.66h-8.67zM253.76 109.17h8.67v2.66h-8.67zM253.76 136.83h8.67v1.45h-8.67zM253.76 166.89h8.67v3.86h-8.67zM253.76 184.93h8.67v3.86h-8.67zM253.76 189.74h8.67v2.66h-8.67zM253.76 201.77h8.67v1.45h-8.67zM262.18 56.25h8.67v3.86h-8.67zM262.18 65.87h8.67v2.66h-8.67zM262.18 77.9h8.67v1.45h-8.67zM262.18 92.33h8.67v1.45h-8.67zM262.18 99.55h8.67v1.45h-8.67zM262.18 115.18h8.67v1.45h-8.67zM262.18 122.4h8.67v1.45h-8.67zM262.18 146.45h8.67v1.45h-8.67zM262.18 194.55h8.67v1.45h-8.67zM270.6 34.6h8.67v1.45h-8.67zM270.6 63.47h8.67v1.45h-8.67zM270.6 67.07h8.67v1.45h-8.67zM270.6 69.48h8.67v3.86h-8.67zM270.6 88.72h8.67v1.45h-8.67zM270.6 94.74h8.67v2.66h-8.67zM270.6 103.15h8.67v1.45h-8.67zM270.6 107.96h8.67v1.45h-8.67zM270.6 111.57h8.67v1.45h-8.67zM270.6 127.21h8.67v1.45h-8.67zM270.6 136.83h8.67v1.45h-8.67zM270.6 142.84h8.67v1.45h-8.67zM270.6 145.25h8.67v1.45h-8.67zM270.6 152.46h8.67v1.45h-8.67zM270.6 154.87h8.67v1.45h-8.67zM270.6 171.7h8.67v1.45h-8.67zM270.6 183.73h8.67v1.45h-8.67zM270.6 193.35h8.67v1.45h-8.67zM270.6 195.76h8.67v1.45h-8.67zM279.02 47.83h8.67v1.45h-8.67zM279.02 52.64h8.67v2.66h-8.67zM279.02 75.49h8.67v3.86h-8.67zM279.02 94.74h8.67v1.45h-8.67zM279.02 164.49h8.67v1.45h-8.67zM279.02 168.1h8.67v2.66h-8.67zM279.02 184.93h8.67v1.45h-8.67zM279.02 192.15h8.67v1.45h-8.67zM279.02 198.16h8.67v1.45h-8.67zM287.44 34.6h8.67v3.86h-8.67zM287.44 50.24h8.67v1.45h-8.67zM287.44 67.07h8.67v2.66h-8.67zM287.44 71.88h8.67v3.86h-8.67zM287.44 87.52h8.67v1.45h-8.67zM287.44 103.15h8.67v1.45h-8.67zM287.44 105.56h8.67v1.45h-8.67zM287.44 109.17h8.67v1.45h-8.67zM287.44 111.57h8.67v3.86h-8.67zM287.44 128.41h8.67v1.45h-8.67zM287.44 134.42h8.67v1.45h-8.67zM287.44 153.66h8.67v1.45h-8.67zM287.44 166.89h8.67v1.45h-8.67zM287.44 190.95h8.67v2.66h-8.67zM287.44 194.55h8.67v1.45h-8.67zM295.86 46.63h8.67v2.66h-8.67zM295.86 69.48h8.67v1.45h-8.67zM295.86 91.13h8.67v2.66h-8.67zM295.86 97.14h8.67v1.45h-8.67zM295.86 100.75h8.67v1.45h-8.67zM295.86 103.15h8.67v1.45h-8.67zM295.86 105.56h8.67v1.45h-8.67zM295.86 109.17h8.67v1.45h-8.67zM295.86 127.21h8.67v1.45h-8.67zM295.86 129.61h8.67v1.45h-8.67zM295.86 135.63h8.67v1.45h-8.67zM295.86 140.44h8.67v1.45h-8.67zM295.86 150.06h8.67v1.45h-8.67zM295.86 165.69h8.67v1.45h-8.67zM295.86 168.1h8.67v1.45h-8.67zM295.86 178.92h8.67v2.66h-8.67zM295.86 189.74h8.67v1.45h-8.67zM295.86 193.35h8.67v1.45h-8.67zM295.86 195.76h8.67v2.66h-8.67zM304.28 50.24h8.67v1.45h-8.67zM304.28 59.86h8.67v7.47h-8.67zM304.28 75.49h8.67v3.86h-8.67zM304.28 110.37h8.67v1.45h-8.67zM304.28 118.79h8.67v1.45h-8.67zM304.28 147.65h8.67v1.45h-8.67zM304.28 152.46h8.67v1.45h-8.67zM304.28 160.88h8.67v1.45h-8.67zM304.28 168.1h8.67v2.66h-8.67zM304.28 183.73h8.67v2.66h-8.67zM304.28 198.16h8.67v1.45h-8.67zM312.7 50.24h8.67v9.87h-8.67zM312.7 68.28h8.67v2.66h-8.67zM312.7 76.7h8.67v5.06h-8.67zM312.7 100.75h8.67v2.66h-8.67zM312.7 117.59h8.67v2.66h-8.67zM312.7 136.83h8.67v1.45h-8.67zM312.7 146.45h8.67v2.66h-8.67zM312.7 198.16h8.67v2.66h-8.67zM312.7 205.38h8.67v2.66h-8.67zM321.12 38.21h8.67v2.66h-8.67zM321.12 50.24h8.67v1.45h-8.67zM321.12 86.32h8.67v1.45h-8.67zM321.12 115.18h8.67v1.45h-8.67zM321.12 122.4h8.67v1.45h-8.67zM321.12 157.27h8.67v1.45h-8.67zM321.12 164.49h8.67v1.45h-8.67zM321.12 177.72h8.67v1.45h-8.67zM321.12 200.57h8.67v1.45h-8.67zM329.54 35.81h8.67v1.45h-8.67zM329.54 59.86h8.67v2.66h-8.67zM329.54 64.67h8.67v1.45h-8.67zM329.54 86.32h8.67v1.45h-8.67zM329.54 89.92h8.67v2.66h-8.67zM329.54 94.74h8.67v2.66h-8.67zM329.54 112.77h8.67v1.45h-8.67zM329.54 147.65h8.67v1.45h-8.67zM329.54 157.27h8.67v1.45h-8.67zM329.54 186.14h8.67v1.45h-8.67zM329.54 199.37h8.67v1.45h-8.67zM337.96 37.01h8.67v1.45h-8.67zM337.96 44.22h8.67v1.45h-8.67zM337.96 86.32h8.67v1.45h-8.67zM337.96 145.25h8.67v1.45h-8.67zM337.96 198.16h8.67v2.66h-8.67zM346.38 52.64h8.67v1.45h-8.67zM346.38 111.57h8.67v1.45h-8.67zM346.38 140.44h8.67v1.45h-8.67zM346.38 157.27h8.67v1.45h-8.67zM346.38 169.3h8.67v1.45h-8.67zM346.38 184.93h8.67v1.45h-8.67zM346.38 198.16h8.67v1.45h-8.67z"/>
<path fill="#b6d4e9" d="M236.92 40.62h8.67v1.45h-8.67zM236.92 53.85h8.67v1.45h-8.67zM236.92 88.72h8.67v1.45h-8.67zM236.92 99.55h8.67v2.66h-8.67zM236.92 103.15h8.67v1.45h-8.67zM236.92 111.57h8.67v1.45h-8.67zM236.92 118.79h8.67v1.45h-8.67zM236.92 160.88h8.67v1.45h-8.67zM236.92 202.97h8.67v1.45h-8.67zM245.34 59.86h8.67v1.45h-8.67zM245.34 74.29h8.67v1.45h-8.67zM245.34 89.92h8.67v3.86h-8.67zM245.34 101.95h8.67v2.66h-8.67zM245.34 150.06h8.67v1.45h-8.67zM245.34 189.74h8.67v1.45h-8.67zM245.34 202.97h8.67v1.45h-8.67zM253.76 47.83h8.67v1.45h-8.67zM253.76 56.25h8.67v2.66h-8.67zM253.76 67.07h8.67v3.86h-8.67zM253.76 99.55h8.67v1.45h-8.67zM253.76 112.77h8.67v2.66h-8.67zM253.76 158.48h8.67v1.45h-8.67zM253.76 160.88h8.67v1.45h-8.67zM253.76 165.69h8.67v1.45h-8.67zM253.76 170.5h8.67v1.45h-8.67zM253.76 200.57h8.67v1.45h-8.67zM262.18 34.6h8.67v3.86h-8.67zM262.18 49.03h8.67v1.45h-8.67zM262.18 75.49h8.67v2.66h-8.67zM262.18 100.75h8.67v3.86h-8.67zM262.18 123.6h8.67v1.45h-8.67zM262.18 126h8.67v2.66h-8.67zM262.18 158.48h8.67v1.45h-8.67zM262.18 195.76h8.67v1.45h-8.67zM270.6 47.83h8.67v1.45h-8.67zM270.6 62.26h8.67v1.45h-8.67zM270.6 65.87h8.67v1.45h-8.67zM270.6 68.28h8.67v1.45h-8.67zM270.6 89.92h8.67v1.45h-8.67zM270.6 99.55h8.67v3.86h-8.67zM270.6 113.98h8.67v2.66h-8.67zM270.6 140.44h8.67v1.45h-8.67zM270.6 146.45h8.67v3.86h-8.67zM270.6 170.5h8.67v1.45h-8.67zM270.6 194.55h8.67v1.45h-8.67zM279.02 69.48h8.67v2.66h-8.67zM279.02 80.3h8.67v2.66h-8.67zM279.02 93.53h8.67v1.45h-8.67zM279.02 105.56h8.67v1.45h-8.67zM279.02 115.18h8.67v1.45h-8.67zM279.02 145.25h8.67v1.45h-8.67zM279.02 163.29h8.67v1.45h-8.67zM279.02 165.69h8.67v2.66h-8.67zM279.02 171.7h8.67v1.45h-8.67zM279.02 200.57h8.67v2.66h-8.67zM287.44 61.06h8.67v3.86h-8.67zM287.44 65.87h8.67v1.45h-8.67zM287.44 69.48h8.67v2.66h-8.67zM287.44 75.49h8.67v3.86h-8.67zM287.44 100.75h8.67v2.66h-8.67zM287.44 127.21h8.67v1.45h-8.67zM287.44 152.46h8.67v1.45h-8.67zM287.44 160.88h8.67v2.66h-8.67zM287.44 168.1h8.67v3.86h-8.67zM295.86 35.81h8.67v1.45h-8.67zM295.86 99.55h8.67v1.45h-8.67zM295.86 106.76h8.67v2.66h-8.67zM295.86 111.57h8.67v1.45h-8.67zM295.86 116.38h8.67v1.45h-8.67zM295.86 128.41h8.67v1.45h-8.67zM295.86 130.81h8.67v1.45h-8.67zM295.86 164.49h8.67v1.45h-8.67zM295.86 166.89h8.67v1.45h-8.67zM295.86 174.11h8.67v1.45h-8.67zM295.86 188.54h8.67v1.45h-8.67zM295.86 192.15h8.67v1.45h-8.67zM304.28 70.68h8.67v1.45h-8.67zM304.28 85.11h8.67v1.45h-8.67zM304.28 105.56h8.67v1.45h-8.67zM304.28 107.96h8.67v1.45h-8.67zM304.28 112.77h8.67v1.45h-8.67zM304.28 133.22h8.67v1.45h-8.67zM304.28 151.26h8.67v1.45h-8.67zM304.28 153.66h8.67v1.45h-8.67zM304.28 163.29h8.67v1.45h-8.67zM312.7 47.83h8.67v1.45h-8.67zM312.7 88.72h8.67v2.66h-8.67zM312.7 99.55h8.67v1.45h-8.67zM312.7 153.66h8.67v1.45h-8.67zM312.7 163.29h8.67v1.45h-8.67zM321.12 49.03h8.67v1.45h-8.67zM321.12 67.07h8.67v1.45h-8.67zM321.12 88.72h8.67v3.86h-8.67zM321.12 163.29h8.67v1.45h-8.67zM321.12 176.52h8.67v1.45h-8.67zM321.12 201.77h8.67v1.45h-8.67zM321.12 204.18h8.67v1.45h-8.67zM329.54 49.03h8.67v1.45h-8.67zM329.54 62.26h8.67v2.66h-8.67zM329.54 68.28h8.67v1.45h-8.67zM329.54 104.36h8.67v1.45h-8.67zM329.54 111.57h8.67v1.45h-8.67zM329.54 124.8h8.67v1.45h-8.67zM329.54 132.02h8.67v1.45h-8.67zM329.54 146.45h8.67v1.45h-8.67zM329.54 189.74h8.67v2.66h-8.67zM337.96 35.81h8.67v1.45h-8.67zM337.96 45.43h8.67v1.45h-8.67zM337.96 89.92h8.67v1.45h-8.67zM337.96 111.57h8.67v1.45h-8.67zM337.96 136.83h8.67v1.45h-8.67zM346.38 39.41h8.67v1.45h-8.67zM346.38 88.72h8.67v2.66h-8.67zM346.38 139.23h8.67v1.45h-8.67z"/>
<path fill="#f7f9fb" d="M236.92 69.48h8.67v9.87h-8.67zM236.92 83.91h8.67v1.45h-8.67zM236.92 112.77h8.67v2.66h-8.67zM236.92 121.19h8.67v1.45h-8.67zM236.92 124.8h8.67v1.45h-8.67zM236.92 140.44h8.67v1.45h-8.67zM236.92 152.46h8.67v1.45h-8.67zM236.92 170.5h8.67v1.45h-8.67zM236.92 176.52h8.67v1.45h-8.67zM236.92 178.92h8.67v2.66h-8.67zM236.92 190.95h8.67v2.66h-8.67zM236.92 198.16h8.67v2.66h-8.67zM236.92 207.78h8.67v1.45h-8.67zM236.92 210.19h8.67v2.66h-8.67zM236.92 213.8h8.67v1.45h-8.67zM245.34 40.62h8.67v1.45h-8.67zM245.34 51.44h8.67v2.66h-8.67zM245.34 63.47h8.67v1.45h-8.67zM245.34 82.71h8.67v1.45h-8.67zM245.34 124.8h8.67v1.45h-8.67zM245.34 136.83h8.67v3.86h-8.67zM245.34 144.04h8.67v1.45h-8.67zM245.34 152.46h8.67v1.45h-8.67zM245.34 166.89h8.67v1.45h-8.67zM245.34 176.52h8.67v1.45h-8.67zM245.34 180.12h8.67v2.66h-8.67zM245.34 194.55h8.67v1.45h-8.67zM245.34 199.37h8.67v1.45h-8.67zM245.34 205.38h8.67v3.86h-8.67zM245.34 210.19h8.67v1.45h-8.67zM245.34 212.59h8.67v1.45h-8.67zM253.76 34.6h8.67v1.45h-8.67zM253.76 38.21h8.67v2.66h-8.67zM253.76 80.3h8.67v3.86h-8.67zM253.76 93.53h8.67v1.45h-8.67zM253.76 95.94h8.67v2.66h-8.67zM253.76 107.96h8.67v1.45h-8.67zM253.76 130.81h8.67v3.86h-8.67zM253.76 135.63h8.67v1.45h-8.67zM253.76 139.23h8.67v1.45h-8.67zM253.76 144.04h8.67v1.45h-8.67zM253.76 150.06h8.67v2.66h-8.67zM253.76 156.07h8.67v1.45h-8.67zM253.76 175.31h8.67v3.86h-8.67zM253.76 181.33h8.67v1.45h-8.67zM253.76 193.35h8.67v1.45h-8.67zM253.76 196.96h8.67v3.86h-8.67zM253.76 204.18h8.67v3.86h-8.67zM253.76 208.99h8.67v6.26h-8.67zM262.18 41.82h8.67v3.86h-8.67zM262.18 46.63h8.67v2.66h-8.67zM262.18 52.64h8.67v1.45h-8.67zM262.18 73.09h8.67v1.45h-8.67zM262.18 79.1h8.67v1.45h-8.67zM262.18 83.91h8.67v1.45h-8.67zM262.18 91.13h8.67v1.45h-8.67zM262.18 94.74h8.67v1.45h-8.67zM262.18 118.79h8.67v3.86h-8.67zM262.18 129.61h8.67v1.45h-8.67zM262.18 133.22h8.67v1.45h-8.67zM262.18 139.23h8.67v1.45h-8.67zM262.18 147.65h8.67v2.66h-8.67zM262.18 163.29h8.67v2.66h-8.67zM262.18 166.89h8.67v3.86h-8.67zM262.18 176.52h8.67v7.47h-8.67zM262.18 186.14h8.67v1.45h-8.67zM262.18 189.74h8.67v1.45h-8.67zM262.18 192.15h8.67v2.66h-8.67zM262.18 199.37h8.67v1.45h-8.67zM262.18 204.18h8.67v3.86h-8.67zM262.18 208.99h8.67v2.66h-8.67zM262.18 212.59h8.67v2.66h-8.67zM270.6 38.21h8.67v1.45h-8.67zM270.6 40.62h8.67v3.86h-8.67zM270.6 50.24h8.67v2.66h-8.67zM270.6 53.85h8.67v2.66h-8.67zM270.6 58.66h8.67v3.86h-8.67zM270.6 83.91h8.67v1.45h-8.67zM270.6 86.32h8.67v1.45h-8.67zM270.6 93.53h8.67v1.45h-8.67zM270.6 104.36h8.67v1.45h-8.67zM270.6 110.37h8.67v1.45h-8.67zM270.6 117.59h8.67v3.86h-8.67zM270.6 144.04h8.67v1.45h-8.67zM270.6 157.27h8.67v1.45h-8.67zM270.6 165.69h8.67v1.45h-8.67zM270.6 168.1h8.67v1.45h-8.67zM270.6 176.52h8.67v7.47h-8.67zM270.6 186.14h8.67v2.66h-8.67zM270.6 190.95h8.67v2.66h-8.67zM270.6 196.96h8.67v1.45h-8.67zM270.6 199.37h8.67v2.66h-8.67zM270.6 202.97h8.67v5.06h-8.67zM270.6 208.99h8.67v6.26h-8.67zM279.02 38.21h8.67v9.87h-8.67zM279.02 58.66h8.67v2.66h-8.67zM279.02 68.28h8.67v1.45h-8.67zM279.02 73.09h8.67v1.45h-8.67zM279.02 82.71h8.67v1.45h-8.67zM279.02 85.11h8.67v2.66h-8.67zM279.02 92.33h8.67v1.45h-8.67zM279.02 95.94h8.67v1.45h-8.67zM279.02 98.34h8.67v1.45h-8.67zM279.02 110.37h8.67v1.45h-8.67zM279.02 116.38h8.67v6.26h-8.67zM279.02 127.21h8.67v1.45h-8.67zM279.02 129.61h8.67v1.45h-8.67zM279.02 133.22h8.67v3.86h-8.67zM279.02 141.64h8.67v1.45h-8.67zM279.02 153.66h8.67v1.45h-8.67zM279.02 172.91h8.67v9.87h-8.67zM279.02 183.73h8.67v1.45h-8.67zM279.02 187.34h8.67v3.86h-8.67zM279.02 194.55h8.67v1.45h-8.67zM279.02 199.37h8.67v1.45h-8.67zM279.02 204.18h8.67v11.07h-8.67zM287.44 45.43h8.67v1.45h-8.67zM287.44 47.83h8.67v1.45h-8.67zM287.44 83.91h8.67v2.66h-8.67zM287.44 91.13h8.67v2.66h-8.67zM287.44 98.34h8.67v1.45h-8.67zM287.44 110.37h8.67v1.45h-8.67zM287.44 117.59h8.67v1.45h-8.67zM287.44 136.83h8.67v1.45h-8.67zM287.44 144.04h8.67v1.45h-8.67zM287.44 164.49h8.67v1.45h-8.67zM287.44 175.31h8.67v2.66h-8.67zM287.44 181.33h8.67v6.26h-8.67zM287.44 196.96h8.67v2.66h-8.67zM287.44 201.77h8.67v1.45h-8.67zM287.44 206.58h8.67v8.67h-8.67zM295.86 43.02h8.67v3.86h-8.67zM295.86 53.85h8.67v5.06h-8.67zM295.86 61.06h8.67v2.66h-8.67zM295.86 64.67h8.67v2.66h-8.67zM295.86 74.29h8.67v5.06h-8.67zM295.86 81.51h8.67v2.66h-8.67zM295.86 93.53h8.67v1.45h-8.67zM295.86 119.99h8.67v5.06h-8.67zM295.86 136.83h8.67v1.45h-8.67zM295.86 144.04h8.67v2.66h-8.67zM295.86 175.31h8.67v1.45h-8.67zM295.86 182.53h8.67v1.45h-8.67zM295.86 184.93h8.67v1.45h-8.67zM295.86 201.77h8.67v1.45h-8.67zM295.86 205.38h8.67v1.45h-8.67zM295.86 207.78h8.67v1.45h-8.67zM295.86 210.19h8.67v5.06h-8.67zM304.28 35.81h8.67v3.86h-8.67zM304.28 40.62h8.67v6.26h-8.67zM304.28 47.83h8.67v1.45h-8.67zM304.28 52.64h8.67v2.66h-8.67zM304.28 56.25h8.67v2.66h-8.67zM304.28 81.51h8.67v2.66h-8.67zM304.28 93.53h8.67v1.45h-8.67zM304.28 130.81h8.67v1.45h-8.67zM304.28 138.03h8.67v3.86h-8.67zM304.28 148.85h8.67v2.66h-8.67zM304.28 177.72h8.67v1.45h-8.67zM304.28 187.34h8.67v2.66h-8.67zM304.28 192.15h8.67v1.45h-8.67zM304.28 195.76h8.67v2.66h-8.67zM304.28 201.77h8.67v1.45h-8.67zM304.28 205.38h8.67v1.45h-8.67zM304.28 207.78h8.67v1.45h-8.67zM304.28 210.19h8.67v5.06h-8.67zM312.7 35.81h8.67v1.45h-8.67zM312.7 38.21h8.67v6.26h-8.67zM312.7 46.63h8.67v1.45h-8.67zM312.7 87.52h8.67v1.45h-8.67zM312.7 93.53h8.67v1.45h-8.67zM312.7 97.14h8.67v1.45h-8.67zM312.7 116.38h8.67v1.45h-8.67zM312.7 129.61h8.67v5.06h-8.67zM312.7 141.64h8.67v1.45h-8.67zM312.7 148.85h8.67v1.45h-8.67zM312.7 158.48h8.67v1.45h-8.67zM312.7 164.49h8.67v1.45h-8.67zM312.7 176.52h8.67v7.47h-8.67zM312.7 187.34h8.67v9.87h-8.67zM312.7 201.77h8.67v2.66h-8.67zM312.7 208.99h8.67v6.26h-8.67zM321.12 40.62h8.67v2.66h-8.67zM321.12 46.63h8.67v1.45h-8.67zM321.12 51.44h8.67v3.86h-8.67zM321.12 56.25h8.67v3.86h-8.67zM321.12 79.1h8.67v5.06h-8.67zM321.12 87.52h8.67v1.45h-8.67zM321.12 111.57h8.67v1.45h-8.67zM321.12 117.59h8.67v2.66h-8.67zM321.12 136.83h8.67v1.45h-8.67zM321.12 146.45h8.67v3.86h-8.67zM321.12 182.53h8.67v2.66h-8.67zM321.12 188.54h8.67v1.45h-8.67zM321.12 190.95h8.67v3.86h-8.67zM321.12 196.96h8.67v1.45h-8.67zM321.12 205.38h8.67v8.67h-8.67zM329.54 38.21h8.67v1.45h-8.67zM329.54 41.82h8.67v1.45h-8.67zM329.54 45.43h8.67v2.66h-8.67zM329.54 65.87h8.67v1.45h-8.67zM329.54 69.48h8.67v1.45h-8.67zM329.54 75.49h8.67v1.45h-8.67zM329.54 93.53h8.67v1.45h-8.67zM329.54 139.23h8.67v1.45h-8.67zM329.54 160.88h8.67v1.45h-8.67zM329.54 193.35h8.67v3.86h-8.67zM329.54 202.97h8.67v1.45h-8.67zM329.54 206.58h8.67v8.67h-8.67zM337.96 38.21h8.67v2.66h-8.67zM337.96 49.03h8.67v1.45h-8.67zM337.96 56.25h8.67v2.66h-8.67zM337.96 62.26h8.67v1.45h-8.67zM337.96 91.13h8.67v2.66h-8.67zM337.96 132.02h8.67v1.45h-8.67zM337.96 148.85h8.67v1.45h-8.67zM337.96 175.31h8.67v1.45h-8.67zM337.96 194.55h8.67v1.45h-8.67zM337.96 211.39h8.67v1.45h-8.67zM337.96 213.8h8.67v1.45h-8.67zM346.38 41.82h8.67v3.86h-8.67zM346.38 56.25h8.67v5.06h-8.67zM346.38 62.26h8.67v1.45h-8.67zM346.38 91.13h8.67v1.45h-8.67zM346.38 119.99h8.67v1.45h-8.67zM346.38 175.31h8.67v1.45h-8.67zM346.38 190.95h8.67v6.26h-8.67zM346.38 201.77h8.67v13.48h-8.67z"/>
<path fill="#3989c1" d="M236.92 93.53h8.67v1.45h-8.67zM236.92 158.48h8.67v2.66h-8.67zM253.76 163.29h8.67v2.66h-8.67zM262.18 33.4h8.67v1.45h-8.67zM262.18 105.56h8.67v1.45h-8.67zM262.18 151.26h8.67v1.45h-8.67zM270.6 91.13h8.67v2.66h-8.67zM279.02 158.48h8.67v2.66h-8.67zM287.44 33.4h8.67v1.45h-8.67zM287.44 64.67h8.67v1.45h-8.67zM287.44 99.55h8.67v1.45h-8.67zM287.44 157.27h8.67v3.86h-8.67zM295.86 33.4h8.67v1.45h-8.67zM295.86 134.42h8.67v1.45h-8.67zM295.86 152.46h8.67v1.45h-8.67zM295.86 156.07h8.67v1.45h-8.67zM295.86 158.48h8.67v1.45h-8.67zM295.86 171.7h8.67v2.66h-8.67zM304.28 135.63h8.67v1.45h-8.67zM304.28 158.48h8.67v2.66h-8.67zM304.28 174.11h8.67v1.45h-8.67zM304.28 202.97h8.67v1.45h-8.67zM312.7 94.74h8.67v2.66h-8.67zM312.7 170.5h8.67v1.45h-8.67zM321.12 33.4h8.67v1.45h-8.67zM321.12 98.34h8.67v1.45h-8.67zM321.12 140.44h8.67v1.45h-8.67zM321.12 170.5h8.67v1.45h-8.67zM329.54 113.98h8.67v1.45h-8.67zM329.54 122.4h8.67v2.66h-8.67zM329.54 162.08h8.67v1.45h-8.67zM337.96 126h8.67v2.66h-8.67zM337.96 129.61h8.67v1.45h-8.67zM337.96 159.68h8.67v2.66h-8.67zM337.96 212.59h8.67v1.45h-8.67zM346.38 33.4h8.67v1.45h-8.67zM346.38 145.25h8.67v1.45h-8.67zM346.38 148.85h8.67v1.45h-8.67zM346.38 163.29h8.67v1.45h-8.67zM346.38 171.7h8.67v1.45h-8.67z"/>
<path fill="#8cc0dd" d="M236.92 97.14h8.67v1.45h-8.67zM245.34 93.53h8.67v1.45h-8.67zM245.34 105.56h8.67v1.45h-8.67zM245.34 140.44h8.67v1.45h-8.67zM245.34 156.07h8.67v1.45h-8.67zM253.76 33.4h8.67v1.45h-8.67zM253.76 111.57h8.67v1.45h-8.67zM253.76 145.25h8.67v1.45h-8.67zM262.18 106.76h8.67v1.45h-8.67zM262.18 150.06h8.67v1.45h-8.67zM262.18 183.73h8.67v1.45h-8.67zM270.6 105.56h8.67v1.45h-8.67zM270.6 151.26h8.67v1.45h-8.67zM270.6 160.88h8.67v1.45h-8.67zM270.6 163.29h8.67v1.45h-8.67zM279.02 112.77h8.67v2.66h-8.67zM279.02 160.88h8.67v1.45h-8.67zM295.86 110.37h8.67v1.45h-8.67zM295.86 117.59h8.67v1.45h-8.67zM295.86 132.02h8.67v1.45h-8.67zM295.86 159.68h8.67v1.45h-8.67zM295.86 170.5h8.67v1.45h-8.67zM304.28 73.09h8.67v1.45h-8.67zM304.28 104.36h8.67v1.45h-8.67zM304.28 111.57h8.67v1.45h-8.67zM304.28 117.59h8.67v1.45h-8.67zM304.28 132.02h8.67v1.45h-8.67zM312.7 65.87h8.67v1.45h-8.67zM312.7 98.34h8.67v1.45h-8.67zM312.7 162.08h8.67v1.45h-8.67zM312.7 169.3h8.67v1.45h-8.67zM321.12 76.7h8.67v1.45h-8.67zM329.54 40.62h8.67v1.45h-8.67zM329.54 166.89h8.67v2.66h-8.67zM337.96 88.72h8.67v1.45h-8.67zM337.96 104.36h8.67v1.45h-8.67zM337.96 112.77h8.67v2.66h-8.67zM337.96 163.29h8.67v1.45h-8.67zM346.38 38.21h8.67v1.45h-8.67zM346.38 127.21h8.67v1.45h-8.67z"/>
<path fill="#1a4e99" d="M236.92 104.36h8.67v1.45h-8.67zM245.34 153.66h8.67v2.66h-8.67zM262.18 104.36h8.67v1.45h-8.67zM262.18 153.66h8.67v1.45h-8.67zM279.02 154.87h8.67v3.86h-8.67zM287.44 86.32h8.67v1.45h-8.67zM287.44 171.7h8.67v1.45h-8.67zM295.86 138.03h8.67v2.66h-8.67zM295.86 162.08h8.67v1.45h-8.67zM304.28 119.99h8.67v5.06h-8.67zM304.28 164.49h8.67v3.86h-8.67zM304.28 170.5h8.67v1.45h-8.67zM312.7 171.7h8.67v3.86h-8.67zM321.12 171.7h8.67v1.45h-8.67zM329.54 175.31h8.67v2.66h-8.67zM337.96 121.19h8.67v5.06h-8.67zM337.96 172.91h8.67v2.66h-8.67zM346.38 141.64h8.67v1.45h-8.67zM346.38 151.26h8.67v2.66h-8.67z"/>
<path fill="#5ba3d0" d="M245.34 33.4h8.67v1.45h-8.67zM245.34 97.14h8.67v1.45h-8.67zM245.34 126h8.67v1.45h-8.67zM253.76 91.13h8.67v1.45h-8.67zM253.76 153.66h8.67v2.66h-8.67zM262.18 160.88h8.67v1.45h-8.67zM262.18 170.5h8.67v1.45h-8.67zM262.18 172.91h8.67v1.45h-8.67zM270.6 33.4h8.67v1.45h-8.67zM270.6 162.08h8.67v1.45h-8.67zM279.02 33.4h8.67v1.45h-8.67zM287.44 104.36h8.67v1.45h-8.67zM295.86 151.26h8.67v1.45h-8.67zM295.86 154.87h8.67v1.45h-8.67zM304.28 33.4h8.67v1.45h-8.67zM304.28 46.63h8.67v1.45h-8.67zM304.28 69.48h8.67v1.45h-8.67zM304.28 100.75h8.67v3.86h-8.67zM304.28 115.18h8.67v2.66h-8.67zM312.7 33.4h8.67v1.45h-8.67zM312.7 152.46h8.67v1.45h-8.67zM312.7 168.1h8.67v1.45h-8.67zM312.7 204.18h8.67v1.45h-8.67zM321.12 92.33h8.67v1.45h-8.67zM321.12 123.6h8.67v1.45h-8.67zM321.12 168.1h8.67v2.66h-8.67zM329.54 33.4h8.67v1.45h-8.67zM329.54 67.07h8.67v1.45h-8.67zM329.54 115.18h8.67v1.45h-8.67zM329.54 121.19h8.67v1.45h-8.67zM329.54 144.04h8.67v2.66h-8.67zM329.54 169.3h8.67v1.45h-8.67zM337.96 33.4h8.67v1.45h-8.67zM337.96 75.49h8.67v1.45h-8.67zM337.96 128.41h8.67v1.45h-8.67zM337.96 169.3h8.67v2.66h-8.67zM346.38 126h8.67v1.45h-8.67zM346.38 162.08h8.67v1.45h-8.67z"/>
<path fill="#206cb1" d="M245.34 157.27h8.67v3.86h-8.67zM262.18 152.46h8.67v1.45h-8.67zM270.6 158.48h8.67v2.66h-8.67zM287.44 156.07h8.67v1.45h-8.67zM295.86 133.22h8.67v1.45h-8.67zM295.86 153.66h8.67v1.45h-8.67zM295.86 157.27h8.67v1.45h-8.67zM295.86 163.29h8.67v1.45h-8.67zM304.28 136.83h8.67v1.45h-8.67zM304.28 157.27h8.67v1.45h-8.67zM304.28 171.7h8.67v2.66h-8.67zM312.7 159.68h8.67v2.66h-8.67zM321.12 159.68h8.67v2.66h-8.67zM321.12 172.91h8.67v1.45h-8.67zM329.54 140.44h8.67v1.45h-8.67zM329.54 163.29h8.67v2.66h-8.67zM329.54 171.7h8.67v3.86h-8.67zM346.38 142.84h8.67v2.66h-8.67zM346.38 146.45h8.67v2.66h-8.67zM346.38 150.06h8.67v1.45h-8.67z"/>
<path fill="#1c2f78" d="M337.96 171.7h8.67v1.45h-8.67z"/>
</g></g>
<path d="M228.50 33.40 H354.80 V215.00 H228.50 Z" fill="none" stroke="#5a5a5a" stroke-width="1"/>
<line x1="228.50" y1="33.40" x2="228.50" y2="215.00" stroke="#5a5a5a" stroke-width="1.6"/>
<line x1="228.50" y1="215.00" x2="354.80" y2="215.00" stroke="#5a5a5a" stroke-width="1.2"/>
<line x1="228.50" y1="191.55" x2="230.10" y2="191.55" stroke="#5a5a5a" stroke-width="0.8"/>
<text x="224.30" y="195.85" font-size="11.6" text-anchor="end" font-weight="normal" fill="#262626">20</text>
<line x1="228.50" y1="167.50" x2="230.10" y2="167.50" stroke="#5a5a5a" stroke-width="0.8"/>
<text x="224.30" y="171.80" font-size="11.6" text-anchor="end" font-weight="normal" fill="#262626">40</text>
<line x1="228.50" y1="143.44" x2="230.10" y2="143.44" stroke="#5a5a5a" stroke-width="0.8"/>
<text x="224.30" y="147.74" font-size="11.6" text-anchor="end" font-weight="normal" fill="#262626">60</text>
<line x1="228.50" y1="119.39" x2="230.10" y2="119.39" stroke="#5a5a5a" stroke-width="0.8"/>
<text x="224.30" y="123.69" font-size="11.6" text-anchor="end" font-weight="normal" fill="#262626">80</text>
<line x1="228.50" y1="95.34" x2="230.10" y2="95.34" stroke="#5a5a5a" stroke-width="0.8"/>
<text x="224.30" y="99.64" font-size="11.6" text-anchor="end" font-weight="normal" fill="#262626">100</text>
<line x1="228.50" y1="71.28" x2="230.10" y2="71.28" stroke="#5a5a5a" stroke-width="0.8"/>
<text x="224.30" y="75.58" font-size="11.6" text-anchor="end" font-weight="normal" fill="#262626">120</text>
<line x1="228.50" y1="47.23" x2="230.10" y2="47.23" stroke="#5a5a5a" stroke-width="0.8"/>
<text x="224.30" y="51.53" font-size="11.6" text-anchor="end" font-weight="normal" fill="#262626">140</text>
<line x1="232.71" y1="215.00" x2="232.71" y2="213.40" stroke="#5a5a5a" stroke-width="0.8"/>
<text x="240.71" y="226.00" font-size="10.3" text-anchor="end" font-weight="normal" fill="#262626" transform="rotate(-45 240.71 226.00)">0</text>
<line x1="249.55" y1="215.00" x2="249.55" y2="213.40" stroke="#5a5a5a" stroke-width="0.8"/>
<text x="257.55" y="226.00" font-size="10.3" text-anchor="end" font-weight="normal" fill="#262626" transform="rotate(-45 257.55 226.00)">14</text>
<line x1="266.39" y1="215.00" x2="266.39" y2="213.40" stroke="#5a5a5a" stroke-width="0.8"/>
<text x="274.39" y="226.00" font-size="10.3" text-anchor="end" font-weight="normal" fill="#262626" transform="rotate(-45 274.39 226.00)">31</text>
<line x1="283.23" y1="215.00" x2="283.23" y2="213.40" stroke="#5a5a5a" stroke-width="0.8"/>
<text x="291.23" y="226.00" font-size="10.3" text-anchor="end" font-weight="normal" fill="#262626" transform="rotate(-45 291.23 226.00)">44</text>
<line x1="300.07" y1="215.00" x2="300.07" y2="213.40" stroke="#5a5a5a" stroke-width="0.8"/>
<text x="308.07" y="226.00" font-size="10.3" text-anchor="end" font-weight="normal" fill="#262626" transform="rotate(-45 308.07 226.00)">57</text>
<line x1="316.91" y1="215.00" x2="316.91" y2="213.40" stroke="#5a5a5a" stroke-width="0.8"/>
<text x="324.91" y="226.00" font-size="10.3" text-anchor="end" font-weight="normal" fill="#262626" transform="rotate(-45 324.91 226.00)">93</text>
<line x1="333.75" y1="215.00" x2="333.75" y2="213.40" stroke="#5a5a5a" stroke-width="0.8"/>
<text x="341.75" y="226.00" font-size="10.3" text-anchor="end" font-weight="normal" fill="#262626" transform="rotate(-45 341.75 226.00)">112</text>
<line x1="350.59" y1="215.00" x2="350.59" y2="213.40" stroke="#5a5a5a" stroke-width="0.8"/>
<text x="358.59" y="226.00" font-size="10.3" text-anchor="end" font-weight="normal" fill="#262626" transform="rotate(-45 358.59 226.00)">142</text>
<defs><linearGradient id="g_blues" x1="0" y1="1" x2="0" y2="0"><stop offset="0" stop-color="#f7fbff"/><stop offset="0.125" stop-color="#deebf7"/><stop offset="0.25" stop-color="#c6dbef"/><stop offset="0.375" stop-color="#9ecae1"/><stop offset="0.5" stop-color="#6baed6"/><stop offset="0.625" stop-color="#4292c6"/><stop offset="0.75" stop-color="#2171b5"/><stop offset="0.875" stop-color="#1a4f9a"/><stop offset="1.0" stop-color="#1c2f78"/></linearGradient></defs>
<rect x="360.20" y="31.90" width="9.10" height="183.20" fill="url(#g_blues)"/>
<rect x="360.20" y="31.90" width="9.10" height="183.20" fill="none" stroke="#5a5a5a" stroke-width="0.8"/>
<text x="371.70" y="35.70" font-size="10.5" text-anchor="start" font-weight="normal" fill="#262626">180<tspan dx="1.3" dy="-0.6">°</tspan></text>
<text x="371.70" y="218.70" font-size="10.5" text-anchor="start" font-weight="normal" fill="#262626">0<tspan dx="1.3" dy="-0.6">°</tspan></text>
<text x="390.00" y="122.20" font-size="10.5" text-anchor="middle" font-weight="normal" fill="#262626" transform="rotate(-90 390.00 122.20)">|ΔPD| from day 0</text>
<text x="301.20" y="254.70" font-size="12.4" text-anchor="middle" font-weight="normal" fill="#262626">Days since first session</text>
<defs><clipPath id="hmc3"><rect x="32.7" y="325.3" width="124.6" height="185.7"/></clipPath><filter id="hmf3" x="-2%" y="-2%" width="104%" height="104%"><feGaussianBlur stdDeviation="0.25 0.45"/></filter></defs>
<g clip-path="url(#hmc3)"><g filter="url(#hmf3)" shape-rendering="crispEdges">
<path fill="#f7f8f8" d="M32.7 325.3h21.02v2.38h-21.02zM32.7 338.11h21.02v15.19h-21.02zM32.7 355.18h21.02v2.38h-21.02zM32.7 361.59h21.02v32.27h-21.02zM32.7 395.74h21.02v19.46h-21.02zM32.7 419.22h21.02v40.81h-21.02zM32.7 468.31h21.02v4.52h-21.02zM32.7 481.12h21.02v2.38h-21.02zM32.7 485.39h21.02v2.38h-21.02zM32.7 491.79h21.02v6.65h-21.02zM32.7 500.33h21.02v10.92h-21.02z"/>
<path fill="#bebebe" d="M32.7 327.43h21.02v10.92h-21.02zM32.7 353.05h21.02v2.38h-21.02zM32.7 357.32h21.02v4.52h-21.02zM32.7 393.6h21.02v2.38h-21.02zM32.7 414.95h21.02v4.52h-21.02zM32.7 459.77h21.02v8.79h-21.02zM32.7 472.58h21.02v8.79h-21.02zM32.7 483.25h21.02v2.38h-21.02zM32.7 487.52h21.02v4.52h-21.02zM32.7 498.19h21.02v2.38h-21.02zM53.47 365.86h21.02v2.38h-21.02zM53.47 406.41h21.02v4.52h-21.02zM53.47 414.95h21.02v4.52h-21.02zM53.47 496.06h21.02v4.52h-21.02zM74.23 355.18h21.02v2.38h-21.02zM74.23 380.8h21.02v2.38h-21.02zM74.23 453.37h21.02v2.38h-21.02zM74.23 461.91h21.02v6.65h-21.02zM95 361.59h21.02v2.38h-21.02zM95 365.86h21.02v2.38h-21.02zM95 370.12h21.02v2.38h-21.02zM95 406.41h21.02v2.38h-21.02zM95 421.35h21.02v2.38h-21.02zM95 429.89h21.02v2.38h-21.02zM115.77 335.97h21.02v2.38h-21.02zM115.77 344.51h21.02v2.38h-21.02zM115.77 348.78h21.02v4.52h-21.02zM115.77 412.81h21.02v2.38h-21.02zM115.77 432.02h21.02v2.38h-21.02zM115.77 457.64h21.02v2.38h-21.02zM115.77 468.31h21.02v2.38h-21.02zM115.77 472.58h21.02v2.38h-21.02zM115.77 478.98h21.02v4.52h-21.02zM115.77 508.87h21.02v2.38h-21.02zM136.53 353.05h21.02v4.52h-21.02zM136.53 359.45h21.02v2.38h-21.02zM136.53 370.12h21.02v4.52h-21.02zM136.53 376.53h21.02v2.38h-21.02zM136.53 380.8h21.02v2.38h-21.02zM136.53 421.35h21.02v2.38h-21.02zM136.53 434.16h21.02v2.38h-21.02zM136.53 459.77h21.02v2.38h-21.02z"/>
<path fill="#e4eef4" d="M53.47 325.3h21.02v2.38h-21.02zM53.47 340.24h21.02v2.38h-21.02zM53.47 346.64h21.02v2.38h-21.02zM53.47 350.91h21.02v2.38h-21.02zM53.47 393.6h21.02v2.38h-21.02zM53.47 397.87h21.02v6.65h-21.02zM53.47 410.68h21.02v2.38h-21.02zM53.47 429.89h21.02v6.65h-21.02zM53.47 442.7h21.02v2.38h-21.02zM74.23 325.3h21.02v2.38h-21.02zM74.23 335.97h21.02v2.38h-21.02zM74.23 359.45h21.02v2.38h-21.02zM74.23 365.86h21.02v4.52h-21.02zM74.23 402.14h21.02v8.79h-21.02zM74.23 432.02h21.02v2.38h-21.02zM74.23 444.83h21.02v2.38h-21.02zM74.23 468.31h21.02v2.38h-21.02zM74.23 474.71h21.02v4.52h-21.02zM95 331.7h21.02v2.38h-21.02zM95 335.97h21.02v2.38h-21.02zM95 346.64h21.02v2.38h-21.02zM95 350.91h21.02v2.38h-21.02zM95 359.45h21.02v2.38h-21.02zM95 363.72h21.02v2.38h-21.02zM95 378.66h21.02v4.52h-21.02zM95 400.01h21.02v2.38h-21.02zM95 410.68h21.02v6.65h-21.02zM95 425.62h21.02v2.38h-21.02zM95 432.02h21.02v2.38h-21.02zM95 440.56h21.02v2.38h-21.02zM95 464.04h21.02v4.52h-21.02zM95 472.58h21.02v2.38h-21.02zM95 478.98h21.02v2.38h-21.02zM115.77 329.57h21.02v2.38h-21.02zM115.77 359.45h21.02v2.38h-21.02zM115.77 363.72h21.02v2.38h-21.02zM115.77 385.07h21.02v2.38h-21.02zM115.77 393.6h21.02v13.06h-21.02zM115.77 408.54h21.02v4.52h-21.02zM115.77 414.95h21.02v2.38h-21.02zM115.77 423.49h21.02v2.38h-21.02zM115.77 427.76h21.02v2.38h-21.02zM115.77 440.56h21.02v2.38h-21.02zM115.77 459.77h21.02v2.38h-21.02zM115.77 476.85h21.02v2.38h-21.02zM136.53 325.3h21.02v2.38h-21.02zM136.53 344.51h21.02v2.38h-21.02zM136.53 357.32h21.02v2.38h-21.02zM136.53 389.33h21.02v2.38h-21.02zM136.53 393.6h21.02v2.38h-21.02zM136.53 400.01h21.02v4.52h-21.02zM136.53 408.54h21.02v6.65h-21.02zM136.53 419.22h21.02v2.38h-21.02zM136.53 461.91h21.02v6.65h-21.02zM136.53 472.58h21.02v2.38h-21.02z"/>
<path fill="#f7f7f7" d="M53.47 327.43h21.02v13.06h-21.02zM53.47 344.51h21.02v2.38h-21.02zM53.47 348.78h21.02v2.38h-21.02zM53.47 353.05h21.02v8.79h-21.02zM53.47 363.72h21.02v2.38h-21.02zM53.47 367.99h21.02v2.38h-21.02zM53.47 389.33h21.02v4.52h-21.02zM53.47 412.81h21.02v2.38h-21.02zM53.47 421.35h21.02v2.38h-21.02zM53.47 427.76h21.02v2.38h-21.02zM53.47 440.56h21.02v2.38h-21.02zM53.47 449.1h21.02v2.38h-21.02zM53.47 457.64h21.02v10.92h-21.02zM53.47 470.44h21.02v10.92h-21.02zM53.47 483.25h21.02v8.79h-21.02zM74.23 329.57h21.02v4.52h-21.02zM74.23 338.11h21.02v2.38h-21.02zM74.23 344.51h21.02v2.38h-21.02zM74.23 353.05h21.02v2.38h-21.02zM74.23 395.74h21.02v6.65h-21.02zM74.23 412.81h21.02v6.65h-21.02zM74.23 421.35h21.02v8.79h-21.02zM74.23 434.16h21.02v2.38h-21.02zM74.23 446.97h21.02v2.38h-21.02zM74.23 451.23h21.02v2.38h-21.02zM74.23 459.77h21.02v2.38h-21.02zM74.23 470.44h21.02v2.38h-21.02zM74.23 478.98h21.02v4.52h-21.02zM74.23 491.79h21.02v2.38h-21.02zM74.23 496.06h21.02v2.38h-21.02zM95 327.43h21.02v4.52h-21.02zM95 333.84h21.02v2.38h-21.02zM95 338.11h21.02v2.38h-21.02zM95 344.51h21.02v2.38h-21.02zM95 357.32h21.02v2.38h-21.02zM95 367.99h21.02v2.38h-21.02zM95 382.93h21.02v4.52h-21.02zM95 397.87h21.02v2.38h-21.02zM95 402.14h21.02v2.38h-21.02zM95 408.54h21.02v2.38h-21.02zM95 417.08h21.02v2.38h-21.02zM95 423.49h21.02v2.38h-21.02zM95 427.76h21.02v2.38h-21.02zM95 434.16h21.02v4.52h-21.02zM95 446.97h21.02v2.38h-21.02zM95 451.23h21.02v2.38h-21.02zM95 459.77h21.02v4.52h-21.02zM95 474.71h21.02v2.38h-21.02zM95 481.12h21.02v2.38h-21.02zM95 485.39h21.02v2.38h-21.02zM115.77 331.7h21.02v2.38h-21.02zM115.77 340.24h21.02v4.52h-21.02zM115.77 346.64h21.02v2.38h-21.02zM115.77 357.32h21.02v2.38h-21.02zM115.77 365.86h21.02v6.65h-21.02zM115.77 376.53h21.02v6.65h-21.02zM115.77 406.41h21.02v2.38h-21.02zM115.77 417.08h21.02v2.38h-21.02zM115.77 421.35h21.02v2.38h-21.02zM115.77 425.62h21.02v2.38h-21.02zM115.77 434.16h21.02v2.38h-21.02zM115.77 461.91h21.02v4.52h-21.02zM115.77 470.44h21.02v2.38h-21.02zM115.77 474.71h21.02v2.38h-21.02zM115.77 483.25h21.02v4.52h-21.02zM136.53 327.43h21.02v2.38h-21.02zM136.53 335.97h21.02v2.38h-21.02zM136.53 340.24h21.02v4.52h-21.02zM136.53 350.91h21.02v2.38h-21.02zM136.53 361.59h21.02v2.38h-21.02zM136.53 365.86h21.02v4.52h-21.02zM136.53 378.66h21.02v2.38h-21.02zM136.53 382.93h21.02v2.38h-21.02zM136.53 414.95h21.02v4.52h-21.02zM136.53 423.49h21.02v10.92h-21.02zM136.53 468.31h21.02v2.38h-21.02zM136.53 474.71h21.02v2.38h-21.02zM136.53 481.12h21.02v2.38h-21.02z"/>
<path fill="#fae9df" d="M53.47 342.38h21.02v2.38h-21.02zM53.47 361.59h21.02v2.38h-21.02zM53.47 395.74h21.02v2.38h-21.02zM53.47 419.22h21.02v2.38h-21.02zM53.47 423.49h21.02v4.52h-21.02zM53.47 436.29h21.02v2.38h-21.02zM53.47 451.23h21.02v6.65h-21.02zM53.47 468.31h21.02v2.38h-21.02zM53.47 481.12h21.02v2.38h-21.02zM53.47 500.33h21.02v2.38h-21.02zM74.23 357.32h21.02v2.38h-21.02zM74.23 370.12h21.02v4.52h-21.02zM74.23 429.89h21.02v2.38h-21.02zM74.23 442.7h21.02v2.38h-21.02zM74.23 457.64h21.02v2.38h-21.02zM74.23 483.25h21.02v2.38h-21.02zM95 353.05h21.02v4.52h-21.02zM95 376.53h21.02v2.38h-21.02zM95 419.22h21.02v2.38h-21.02zM95 449.1h21.02v2.38h-21.02zM95 453.37h21.02v2.38h-21.02zM95 457.64h21.02v2.38h-21.02zM95 483.25h21.02v2.38h-21.02zM115.77 353.05h21.02v4.52h-21.02zM115.77 361.59h21.02v2.38h-21.02zM115.77 372.26h21.02v2.38h-21.02zM115.77 382.93h21.02v2.38h-21.02zM115.77 429.89h21.02v2.38h-21.02zM115.77 436.29h21.02v4.52h-21.02zM115.77 444.83h21.02v2.38h-21.02zM115.77 453.37h21.02v4.52h-21.02zM136.53 436.29h21.02v6.65h-21.02zM136.53 451.23h21.02v2.38h-21.02zM136.53 455.5h21.02v2.38h-21.02zM136.53 483.25h21.02v2.38h-21.02z"/>
<path fill="#cbe2ee" d="M53.47 370.12h21.02v2.38h-21.02zM53.47 404.28h21.02v2.38h-21.02zM53.47 438.43h21.02v2.38h-21.02zM53.47 444.83h21.02v2.38h-21.02zM74.23 327.43h21.02v2.38h-21.02zM74.23 361.59h21.02v2.38h-21.02zM74.23 374.39h21.02v4.52h-21.02zM74.23 382.93h21.02v6.65h-21.02zM74.23 410.68h21.02v2.38h-21.02zM74.23 472.58h21.02v2.38h-21.02zM95 340.24h21.02v4.52h-21.02zM95 348.78h21.02v2.38h-21.02zM95 387.2h21.02v2.38h-21.02zM95 404.28h21.02v2.38h-21.02zM95 438.43h21.02v2.38h-21.02zM95 442.7h21.02v4.52h-21.02zM95 470.44h21.02v2.38h-21.02zM95 476.85h21.02v2.38h-21.02zM115.77 327.43h21.02v2.38h-21.02zM115.77 333.84h21.02v2.38h-21.02zM115.77 338.11h21.02v2.38h-21.02zM115.77 387.2h21.02v2.38h-21.02zM115.77 442.7h21.02v2.38h-21.02zM115.77 466.18h21.02v2.38h-21.02zM136.53 329.57h21.02v2.38h-21.02zM136.53 363.72h21.02v2.38h-21.02zM136.53 385.07h21.02v4.52h-21.02zM136.53 391.47h21.02v2.38h-21.02zM136.53 404.28h21.02v4.52h-21.02zM136.53 470.44h21.02v2.38h-21.02zM136.53 476.85h21.02v4.52h-21.02z"/>
<path fill="#63a7ce" d="M53.47 372.26h21.02v2.38h-21.02zM53.47 378.66h21.02v2.38h-21.02zM53.47 491.79h21.02v2.38h-21.02zM74.23 340.24h21.02v2.38h-21.02zM74.23 391.47h21.02v2.38h-21.02zM74.23 438.43h21.02v2.38h-21.02zM95 468.31h21.02v2.38h-21.02z"/>
<path fill="#9fcbe2" d="M53.47 374.39h21.02v4.52h-21.02zM53.47 446.97h21.02v2.38h-21.02zM53.47 493.92h21.02v2.38h-21.02zM74.23 333.84h21.02v2.38h-21.02zM74.23 342.38h21.02v2.38h-21.02zM74.23 350.91h21.02v2.38h-21.02zM74.23 363.72h21.02v2.38h-21.02zM74.23 378.66h21.02v2.38h-21.02zM74.23 393.6h21.02v2.38h-21.02zM74.23 436.29h21.02v2.38h-21.02zM74.23 440.56h21.02v2.38h-21.02zM95 389.33h21.02v2.38h-21.02zM115.77 325.3h21.02v2.38h-21.02zM115.77 389.33h21.02v4.52h-21.02zM136.53 331.7h21.02v4.52h-21.02zM136.53 346.64h21.02v4.52h-21.02zM136.53 374.39h21.02v2.38h-21.02z"/>
<path fill="#327db8" d="M53.47 380.8h21.02v8.79h-21.02zM74.23 346.64h21.02v2.38h-21.02zM95 325.3h21.02v2.38h-21.02zM95 393.6h21.02v4.52h-21.02zM136.53 395.74h21.02v2.38h-21.02z"/>
<path fill="#fcd6c0" d="M53.47 502.46h21.02v2.38h-21.02zM53.47 508.87h21.02v2.38h-21.02zM74.23 419.22h21.02v2.38h-21.02zM74.23 449.1h21.02v2.38h-21.02zM74.23 498.19h21.02v2.38h-21.02zM74.23 504.6h21.02v2.38h-21.02zM95 372.26h21.02v4.52h-21.02zM95 455.5h21.02v2.38h-21.02zM95 489.66h21.02v2.38h-21.02zM115.77 419.22h21.02v2.38h-21.02zM115.77 446.97h21.02v6.65h-21.02zM115.77 489.66h21.02v2.38h-21.02zM136.53 338.11h21.02v2.38h-21.02zM136.53 444.83h21.02v4.52h-21.02zM136.53 453.37h21.02v2.38h-21.02zM136.53 457.64h21.02v2.38h-21.02zM136.53 485.39h21.02v2.38h-21.02z"/>
<path fill="#f6b090" d="M53.47 504.6h21.02v4.52h-21.02zM74.23 455.5h21.02v2.38h-21.02zM74.23 485.39h21.02v2.38h-21.02zM74.23 500.33h21.02v4.52h-21.02zM95 487.52h21.02v2.38h-21.02zM95 496.06h21.02v2.38h-21.02zM115.77 374.39h21.02v2.38h-21.02zM115.77 496.06h21.02v2.38h-21.02zM136.53 449.1h21.02v2.38h-21.02zM136.53 502.46h21.02v4.52h-21.02z"/>
<path fill="#1c5395" d="M74.23 348.78h21.02v2.38h-21.02zM74.23 389.33h21.02v2.38h-21.02zM95 391.47h21.02v2.38h-21.02zM136.53 397.87h21.02v2.38h-21.02z"/>
<path fill="#e27c62" d="M74.23 487.52h21.02v4.52h-21.02zM74.23 493.92h21.02v2.38h-21.02zM95 491.79h21.02v2.38h-21.02zM95 498.19h21.02v8.79h-21.02zM115.77 487.52h21.02v2.38h-21.02zM115.77 491.79h21.02v2.38h-21.02zM115.77 498.19h21.02v8.79h-21.02zM136.53 442.7h21.02v2.38h-21.02zM136.53 487.52h21.02v15.19h-21.02zM136.53 506.73h21.02v2.38h-21.02z"/>
<path fill="#c43c3c" d="M74.23 506.73h21.02v2.38h-21.02zM95 493.92h21.02v2.38h-21.02zM95 506.73h21.02v2.38h-21.02zM115.77 493.92h21.02v2.38h-21.02zM115.77 506.73h21.02v2.38h-21.02zM136.53 508.87h21.02v2.38h-21.02z"/>
<path fill="#901126" d="M74.23 508.87h21.02v2.38h-21.02zM95 508.87h21.02v2.38h-21.02z"/>
</g></g>
<path d="M32.70 325.30 H157.30 V511.00 H32.70 Z" fill="none" stroke="#5a5a5a" stroke-width="1"/>
<line x1="32.70" y1="325.30" x2="32.70" y2="511.00" stroke="#5a5a5a" stroke-width="1.6"/>
<line x1="32.70" y1="511.00" x2="157.30" y2="511.00" stroke="#5a5a5a" stroke-width="1.2"/>
<line x1="32.70" y1="490.72" x2="34.30" y2="490.72" stroke="#5a5a5a" stroke-width="0.8"/>
<text x="29.40" y="495.02" font-size="11.6" text-anchor="end" font-weight="normal" fill="#262626">10</text>
<line x1="32.70" y1="469.38" x2="34.30" y2="469.38" stroke="#5a5a5a" stroke-width="0.8"/>
<text x="29.40" y="473.68" font-size="11.6" text-anchor="end" font-weight="normal" fill="#262626">20</text>
<line x1="32.70" y1="448.03" x2="34.30" y2="448.03" stroke="#5a5a5a" stroke-width="0.8"/>
<text x="29.40" y="452.33" font-size="11.6" text-anchor="end" font-weight="normal" fill="#262626">30</text>
<line x1="32.70" y1="426.69" x2="34.30" y2="426.69" stroke="#5a5a5a" stroke-width="0.8"/>
<text x="29.40" y="430.99" font-size="11.6" text-anchor="end" font-weight="normal" fill="#262626">40</text>
<line x1="32.70" y1="405.34" x2="34.30" y2="405.34" stroke="#5a5a5a" stroke-width="0.8"/>
<text x="29.40" y="409.64" font-size="11.6" text-anchor="end" font-weight="normal" fill="#262626">50</text>
<line x1="32.70" y1="384.00" x2="34.30" y2="384.00" stroke="#5a5a5a" stroke-width="0.8"/>
<text x="29.40" y="388.30" font-size="11.6" text-anchor="end" font-weight="normal" fill="#262626">60</text>
<line x1="32.70" y1="362.65" x2="34.30" y2="362.65" stroke="#5a5a5a" stroke-width="0.8"/>
<text x="29.40" y="366.95" font-size="11.6" text-anchor="end" font-weight="normal" fill="#262626">70</text>
<line x1="32.70" y1="341.31" x2="34.30" y2="341.31" stroke="#5a5a5a" stroke-width="0.8"/>
<text x="29.40" y="345.61" font-size="11.6" text-anchor="end" font-weight="normal" fill="#262626">80</text>
<line x1="43.08" y1="511.00" x2="43.08" y2="509.40" stroke="#5a5a5a" stroke-width="0.8"/>
<text x="51.08" y="522.00" font-size="10.3" text-anchor="end" font-weight="normal" fill="#262626" transform="rotate(-45 51.08 522.00)">0</text>
<line x1="63.85" y1="511.00" x2="63.85" y2="509.40" stroke="#5a5a5a" stroke-width="0.8"/>
<text x="71.85" y="522.00" font-size="10.3" text-anchor="end" font-weight="normal" fill="#262626" transform="rotate(-45 71.85 522.00)">5</text>
<line x1="84.62" y1="511.00" x2="84.62" y2="509.40" stroke="#5a5a5a" stroke-width="0.8"/>
<text x="92.62" y="522.00" font-size="10.3" text-anchor="end" font-weight="normal" fill="#262626" transform="rotate(-45 92.62 522.00)">7</text>
<line x1="105.38" y1="511.00" x2="105.38" y2="509.40" stroke="#5a5a5a" stroke-width="0.8"/>
<text x="113.38" y="522.00" font-size="10.3" text-anchor="end" font-weight="normal" fill="#262626" transform="rotate(-45 113.38 522.00)">12</text>
<line x1="126.15" y1="511.00" x2="126.15" y2="509.40" stroke="#5a5a5a" stroke-width="0.8"/>
<text x="134.15" y="522.00" font-size="10.3" text-anchor="end" font-weight="normal" fill="#262626" transform="rotate(-45 134.15 522.00)">14</text>
<line x1="146.92" y1="511.00" x2="146.92" y2="509.40" stroke="#5a5a5a" stroke-width="0.8"/>
<text x="154.92" y="522.00" font-size="10.3" text-anchor="end" font-weight="normal" fill="#262626" transform="rotate(-45 154.92 522.00)">28</text>
<defs><linearGradient id="g_rdbu2" x1="0" y1="1" x2="0" y2="0"><stop offset="0" stop-color="#6d0a22"/><stop offset="0.1" stop-color="#b2182b"/><stop offset="0.2" stop-color="#d6604d"/><stop offset="0.3" stop-color="#f4a582"/><stop offset="0.4" stop-color="#fddbc7"/><stop offset="0.5" stop-color="#f7f7f7"/><stop offset="0.6" stop-color="#d1e5f0"/><stop offset="0.7" stop-color="#92c5de"/><stop offset="0.8" stop-color="#4393c3"/><stop offset="0.9" stop-color="#2166ac"/><stop offset="1.0" stop-color="#163f7d"/></linearGradient></defs>
<rect x="163.10" y="323.80" width="9.60" height="187.30" fill="url(#g_rdbu2)"/>
<rect x="163.10" y="323.80" width="9.60" height="187.30" fill="none" stroke="#5a5a5a" stroke-width="0.8"/>
<text x="175.10" y="327.60" font-size="10.5" text-anchor="start" font-weight="normal" fill="#262626">0.5</text>
<text x="175.10" y="421.15" font-size="10.5" text-anchor="start" font-weight="normal" fill="#262626">0</text>
<text x="175.10" y="514.70" font-size="10.5" text-anchor="start" font-weight="normal" fill="#262626">-0.5</text>
<text x="192.60" y="418.15" font-size="10.5" text-anchor="middle" font-weight="normal" fill="#262626" transform="rotate(-90 192.60 418.15)">ΔMD from day 0</text>
<text x="10.20" y="418.20" font-size="12.4" text-anchor="middle" font-weight="normal" fill="#262626" transform="rotate(-90 10.20 418.20)">Features</text>
<text x="95.70" y="546.80" font-size="12.4" text-anchor="middle" font-weight="normal" fill="#262626">Days since first session</text>
<defs><clipPath id="hmc4"><rect x="229.4" y="325.3" width="124.1" height="185.7"/></clipPath><filter id="hmf4" x="-2%" y="-2%" width="104%" height="104%"><feGaussianBlur stdDeviation="0.25 0.45"/></filter></defs>
<g clip-path="url(#hmc4)"><g filter="url(#hmf4)" shape-rendering="crispEdges">
<path fill="#f7f8f8" d="M229.4 325.3h20.93v2.38h-20.93zM229.4 338.11h20.93v15.19h-20.93zM229.4 355.18h20.93v2.38h-20.93zM229.4 361.59h20.93v32.27h-20.93zM229.4 395.74h20.93v19.46h-20.93zM229.4 419.22h20.93v40.81h-20.93zM229.4 468.31h20.93v4.52h-20.93zM229.4 481.12h20.93v2.38h-20.93zM229.4 485.39h20.93v2.38h-20.93zM229.4 491.79h20.93v6.65h-20.93zM229.4 500.33h20.93v10.92h-20.93z"/>
<path fill="#bebebe" d="M229.4 327.43h20.93v10.92h-20.93zM229.4 353.05h20.93v2.38h-20.93zM229.4 357.32h20.93v4.52h-20.93zM229.4 393.6h20.93v2.38h-20.93zM229.4 414.95h20.93v4.52h-20.93zM229.4 459.77h20.93v8.79h-20.93zM229.4 472.58h20.93v8.79h-20.93zM229.4 483.25h20.93v2.38h-20.93zM229.4 487.52h20.93v4.52h-20.93zM229.4 498.19h20.93v2.38h-20.93zM250.08 365.86h20.93v2.38h-20.93zM250.08 408.54h20.93v4.52h-20.93zM250.08 414.95h20.93v4.52h-20.93zM250.08 496.06h20.93v4.52h-20.93zM270.77 355.18h20.93v2.38h-20.93zM270.77 380.8h20.93v2.38h-20.93zM270.77 453.37h20.93v2.38h-20.93zM270.77 461.91h20.93v6.65h-20.93zM291.45 361.59h20.93v2.38h-20.93zM291.45 365.86h20.93v2.38h-20.93zM291.45 370.12h20.93v2.38h-20.93zM291.45 404.28h20.93v2.38h-20.93zM291.45 421.35h20.93v2.38h-20.93zM291.45 429.89h20.93v2.38h-20.93zM312.13 335.97h20.93v2.38h-20.93zM312.13 344.51h20.93v2.38h-20.93zM312.13 348.78h20.93v4.52h-20.93zM312.13 410.68h20.93v2.38h-20.93zM312.13 432.02h20.93v2.38h-20.93zM312.13 455.5h20.93v2.38h-20.93zM312.13 468.31h20.93v2.38h-20.93zM312.13 472.58h20.93v2.38h-20.93zM312.13 478.98h20.93v4.52h-20.93zM312.13 508.87h20.93v2.38h-20.93zM332.82 353.05h20.93v4.52h-20.93zM332.82 359.45h20.93v2.38h-20.93zM332.82 372.26h20.93v2.38h-20.93zM332.82 378.66h20.93v2.38h-20.93zM332.82 382.93h20.93v2.38h-20.93zM332.82 421.35h20.93v2.38h-20.93zM332.82 434.16h20.93v2.38h-20.93zM332.82 459.77h20.93v2.38h-20.93z"/>
<path fill="#5ba3d0" d="M250.08 325.3h20.93v2.38h-20.93zM250.08 400.01h20.93v2.38h-20.93zM250.08 504.6h20.93v2.38h-20.93zM270.77 335.97h20.93v4.52h-20.93zM270.77 344.51h20.93v2.38h-20.93zM270.77 476.85h20.93v2.38h-20.93zM270.77 483.25h20.93v6.65h-20.93zM291.45 333.84h20.93v2.38h-20.93zM291.45 346.64h20.93v2.38h-20.93zM291.45 355.18h20.93v2.38h-20.93zM291.45 489.66h20.93v6.65h-20.93zM291.45 506.73h20.93v2.38h-20.93zM312.13 333.84h20.93v2.38h-20.93zM312.13 355.18h20.93v2.38h-20.93zM312.13 374.39h20.93v2.38h-20.93zM312.13 487.52h20.93v4.52h-20.93zM332.82 333.84h20.93v2.38h-20.93zM332.82 348.78h20.93v2.38h-20.93zM332.82 385.07h20.93v2.38h-20.93z"/>
<path fill="#f7f9fb" d="M250.08 327.43h20.93v10.92h-20.93zM250.08 348.78h20.93v6.65h-20.93zM250.08 357.32h20.93v4.52h-20.93zM250.08 378.66h20.93v2.38h-20.93zM250.08 393.6h20.93v2.38h-20.93zM250.08 423.49h20.93v2.38h-20.93zM250.08 457.64h20.93v23.73h-20.93zM250.08 483.25h20.93v2.38h-20.93zM250.08 487.52h20.93v4.52h-20.93zM250.08 493.92h20.93v2.38h-20.93zM270.77 348.78h20.93v2.38h-20.93zM270.77 359.45h20.93v4.52h-20.93zM270.77 374.39h20.93v2.38h-20.93zM270.77 414.95h20.93v4.52h-20.93zM270.77 444.83h20.93v4.52h-20.93zM270.77 498.19h20.93v2.38h-20.93zM291.45 387.2h20.93v2.38h-20.93zM291.45 408.54h20.93v4.52h-20.93zM291.45 414.95h20.93v6.65h-20.93zM291.45 427.76h20.93v2.38h-20.93zM291.45 461.91h20.93v4.52h-20.93zM291.45 468.31h20.93v2.38h-20.93zM291.45 500.33h20.93v4.52h-20.93zM312.13 378.66h20.93v2.38h-20.93zM312.13 417.08h20.93v2.38h-20.93zM312.13 434.16h20.93v2.38h-20.93zM312.13 444.83h20.93v4.52h-20.93zM312.13 459.77h20.93v2.38h-20.93zM312.13 483.25h20.93v4.52h-20.93zM312.13 500.33h20.93v2.38h-20.93zM332.82 350.91h20.93v2.38h-20.93zM332.82 357.32h20.93v2.38h-20.93zM332.82 389.33h20.93v4.52h-20.93zM332.82 395.74h20.93v4.52h-20.93zM332.82 417.08h20.93v4.52h-20.93zM332.82 425.62h20.93v4.52h-20.93zM332.82 438.43h20.93v2.38h-20.93zM332.82 446.97h20.93v2.38h-20.93zM332.82 476.85h20.93v2.38h-20.93zM332.82 491.79h20.93v2.38h-20.93z"/>
<path fill="#8cc0dd" d="M250.08 338.11h20.93v2.38h-20.93zM250.08 346.64h20.93v2.38h-20.93zM250.08 395.74h20.93v2.38h-20.93zM270.77 333.84h20.93v2.38h-20.93zM270.77 346.64h20.93v2.38h-20.93zM270.77 372.26h20.93v2.38h-20.93zM270.77 376.53h20.93v2.38h-20.93zM270.77 387.2h20.93v2.38h-20.93zM270.77 504.6h20.93v2.38h-20.93zM291.45 363.72h20.93v2.38h-20.93zM291.45 402.14h20.93v2.38h-20.93zM291.45 476.85h20.93v2.38h-20.93zM312.13 400.01h20.93v4.52h-20.93zM312.13 412.81h20.93v2.38h-20.93zM332.82 361.59h20.93v2.38h-20.93zM332.82 440.56h20.93v2.38h-20.93z"/>
<path fill="#3989c1" d="M250.08 340.24h20.93v2.38h-20.93zM250.08 344.51h20.93v2.38h-20.93zM250.08 397.87h20.93v2.38h-20.93zM250.08 402.14h20.93v2.38h-20.93zM250.08 406.41h20.93v2.38h-20.93zM270.77 340.24h20.93v4.52h-20.93zM270.77 350.91h20.93v2.38h-20.93zM270.77 363.72h20.93v8.79h-20.93zM270.77 391.47h20.93v2.38h-20.93zM291.45 325.3h20.93v2.38h-20.93zM291.45 338.11h20.93v2.38h-20.93zM291.45 359.45h20.93v2.38h-20.93zM312.13 338.11h20.93v2.38h-20.93zM312.13 353.05h20.93v2.38h-20.93zM312.13 357.32h20.93v2.38h-20.93zM312.13 491.79h20.93v2.38h-20.93zM312.13 498.19h20.93v2.38h-20.93zM332.82 338.11h20.93v2.38h-20.93zM332.82 342.38h20.93v2.38h-20.93zM332.82 457.64h20.93v2.38h-20.93z"/>
<path fill="#206cb1" d="M250.08 342.38h20.93v2.38h-20.93zM270.77 393.6h20.93v2.38h-20.93zM270.77 478.98h20.93v4.52h-20.93zM291.45 329.57h20.93v2.38h-20.93zM291.45 335.97h20.93v2.38h-20.93zM291.45 353.05h20.93v2.38h-20.93zM291.45 357.32h20.93v2.38h-20.93zM291.45 382.93h20.93v2.38h-20.93zM291.45 400.01h20.93v2.38h-20.93zM312.13 325.3h20.93v6.65h-20.93zM312.13 342.38h20.93v2.38h-20.93zM312.13 359.45h20.93v13.06h-20.93zM312.13 496.06h20.93v2.38h-20.93zM332.82 327.43h20.93v6.65h-20.93zM332.82 344.51h20.93v4.52h-20.93zM332.82 496.06h20.93v2.38h-20.93z"/>
<path fill="#d5e5f4" d="M250.08 355.18h20.93v2.38h-20.93zM250.08 361.59h20.93v4.52h-20.93zM250.08 382.93h20.93v2.38h-20.93zM250.08 387.2h20.93v4.52h-20.93zM250.08 412.81h20.93v2.38h-20.93zM250.08 425.62h20.93v2.38h-20.93zM250.08 442.7h20.93v2.38h-20.93zM250.08 446.97h20.93v6.65h-20.93zM250.08 506.73h20.93v2.38h-20.93zM270.77 327.43h20.93v6.65h-20.93zM270.77 357.32h20.93v2.38h-20.93zM270.77 397.87h20.93v2.38h-20.93zM270.77 408.54h20.93v6.65h-20.93zM270.77 427.76h20.93v2.38h-20.93zM270.77 436.29h20.93v2.38h-20.93zM270.77 449.1h20.93v4.52h-20.93zM270.77 468.31h20.93v2.38h-20.93zM270.77 472.58h20.93v4.52h-20.93zM270.77 489.66h20.93v6.65h-20.93zM270.77 508.87h20.93v2.38h-20.93zM291.45 376.53h20.93v2.38h-20.93zM291.45 380.8h20.93v2.38h-20.93zM291.45 391.47h20.93v6.65h-20.93zM291.45 432.02h20.93v6.65h-20.93zM291.45 440.56h20.93v2.38h-20.93zM291.45 444.83h20.93v2.38h-20.93zM291.45 453.37h20.93v6.65h-20.93zM291.45 478.98h20.93v2.38h-20.93zM312.13 376.53h20.93v2.38h-20.93zM312.13 380.8h20.93v4.52h-20.93zM312.13 387.2h20.93v6.65h-20.93zM312.13 395.74h20.93v4.52h-20.93zM312.13 404.28h20.93v4.52h-20.93zM312.13 414.95h20.93v2.38h-20.93zM312.13 423.49h20.93v2.38h-20.93zM312.13 466.18h20.93v2.38h-20.93zM312.13 506.73h20.93v2.38h-20.93zM332.82 376.53h20.93v2.38h-20.93zM332.82 380.8h20.93v2.38h-20.93zM332.82 400.01h20.93v2.38h-20.93zM332.82 410.68h20.93v2.38h-20.93zM332.82 414.95h20.93v2.38h-20.93zM332.82 432.02h20.93v2.38h-20.93zM332.82 444.83h20.93v2.38h-20.93zM332.82 451.23h20.93v4.52h-20.93zM332.82 461.91h20.93v6.65h-20.93zM332.82 483.25h20.93v4.52h-20.93zM332.82 489.66h20.93v2.38h-20.93zM332.82 498.19h20.93v4.52h-20.93z"/>
<path fill="#1a4e99" d="M250.08 367.99h20.93v4.52h-20.93zM250.08 404.28h20.93v2.38h-20.93zM270.77 325.3h20.93v2.38h-20.93zM270.77 353.05h20.93v2.38h-20.93zM270.77 395.74h20.93v2.38h-20.93zM291.45 331.7h20.93v2.38h-20.93zM291.45 342.38h20.93v2.38h-20.93zM291.45 487.52h20.93v2.38h-20.93zM291.45 496.06h20.93v2.38h-20.93zM312.13 372.26h20.93v2.38h-20.93zM312.13 493.92h20.93v2.38h-20.93zM332.82 325.3h20.93v2.38h-20.93zM332.82 493.92h20.93v2.38h-20.93z"/>
<path fill="#e9f2fb" d="M250.08 372.26h20.93v6.65h-20.93zM250.08 385.07h20.93v2.38h-20.93zM250.08 391.47h20.93v2.38h-20.93zM250.08 419.22h20.93v4.52h-20.93zM250.08 438.43h20.93v4.52h-20.93zM250.08 444.83h20.93v2.38h-20.93zM250.08 453.37h20.93v4.52h-20.93zM250.08 481.12h20.93v2.38h-20.93zM250.08 485.39h20.93v2.38h-20.93zM250.08 491.79h20.93v2.38h-20.93zM250.08 500.33h20.93v2.38h-20.93zM250.08 508.87h20.93v2.38h-20.93zM270.77 382.93h20.93v4.52h-20.93zM270.77 389.33h20.93v2.38h-20.93zM270.77 400.01h20.93v8.79h-20.93zM270.77 419.22h20.93v8.79h-20.93zM270.77 438.43h20.93v6.65h-20.93zM270.77 455.5h20.93v4.52h-20.93zM270.77 496.06h20.93v2.38h-20.93zM270.77 500.33h20.93v4.52h-20.93zM291.45 372.26h20.93v4.52h-20.93zM291.45 389.33h20.93v2.38h-20.93zM291.45 412.81h20.93v2.38h-20.93zM291.45 423.49h20.93v4.52h-20.93zM291.45 438.43h20.93v2.38h-20.93zM291.45 442.7h20.93v2.38h-20.93zM291.45 446.97h20.93v4.52h-20.93zM291.45 459.77h20.93v2.38h-20.93zM291.45 466.18h20.93v2.38h-20.93zM291.45 481.12h20.93v2.38h-20.93zM291.45 498.19h20.93v2.38h-20.93zM291.45 504.6h20.93v2.38h-20.93zM291.45 508.87h20.93v2.38h-20.93zM312.13 346.64h20.93v2.38h-20.93zM312.13 408.54h20.93v2.38h-20.93zM312.13 419.22h20.93v4.52h-20.93zM312.13 425.62h20.93v6.65h-20.93zM312.13 436.29h20.93v4.52h-20.93zM312.13 442.7h20.93v2.38h-20.93zM312.13 449.1h20.93v6.65h-20.93zM312.13 461.91h20.93v4.52h-20.93zM312.13 470.44h20.93v2.38h-20.93zM312.13 474.71h20.93v4.52h-20.93zM332.82 363.72h20.93v8.79h-20.93zM332.82 374.39h20.93v2.38h-20.93zM332.82 393.6h20.93v2.38h-20.93zM332.82 402.14h20.93v8.79h-20.93zM332.82 423.49h20.93v2.38h-20.93zM332.82 429.89h20.93v2.38h-20.93zM332.82 436.29h20.93v2.38h-20.93zM332.82 442.7h20.93v2.38h-20.93zM332.82 449.1h20.93v2.38h-20.93zM332.82 468.31h20.93v8.79h-20.93zM332.82 487.52h20.93v2.38h-20.93zM332.82 502.46h20.93v2.38h-20.93zM332.82 506.73h20.93v2.38h-20.93z"/>
<path fill="#b6d4e9" d="M250.08 380.8h20.93v2.38h-20.93zM250.08 427.76h20.93v10.92h-20.93zM250.08 502.46h20.93v2.38h-20.93zM270.77 378.66h20.93v2.38h-20.93zM270.77 429.89h20.93v6.65h-20.93zM270.77 459.77h20.93v2.38h-20.93zM270.77 470.44h20.93v2.38h-20.93zM270.77 506.73h20.93v2.38h-20.93zM291.45 344.51h20.93v2.38h-20.93zM291.45 367.99h20.93v2.38h-20.93zM291.45 378.66h20.93v2.38h-20.93zM291.45 385.07h20.93v2.38h-20.93zM291.45 397.87h20.93v2.38h-20.93zM291.45 406.41h20.93v2.38h-20.93zM291.45 451.23h20.93v2.38h-20.93zM291.45 470.44h20.93v6.65h-20.93zM291.45 483.25h20.93v4.52h-20.93zM312.13 385.07h20.93v2.38h-20.93zM312.13 393.6h20.93v2.38h-20.93zM312.13 440.56h20.93v2.38h-20.93zM312.13 457.64h20.93v2.38h-20.93zM312.13 502.46h20.93v4.52h-20.93zM332.82 340.24h20.93v2.38h-20.93zM332.82 387.2h20.93v2.38h-20.93zM332.82 412.81h20.93v2.38h-20.93zM332.82 455.5h20.93v2.38h-20.93zM332.82 478.98h20.93v4.52h-20.93zM332.82 504.6h20.93v2.38h-20.93zM332.82 508.87h20.93v2.38h-20.93z"/>
<path fill="#1c2f78" d="M291.45 327.43h20.93v2.38h-20.93zM291.45 340.24h20.93v2.38h-20.93zM291.45 348.78h20.93v4.52h-20.93zM312.13 331.7h20.93v2.38h-20.93zM312.13 340.24h20.93v2.38h-20.93zM332.82 335.97h20.93v2.38h-20.93z"/>
</g></g>
<path d="M229.40 325.30 H353.50 V511.00 H229.40 Z" fill="none" stroke="#5a5a5a" stroke-width="1"/>
<line x1="229.40" y1="325.30" x2="229.40" y2="511.00" stroke="#5a5a5a" stroke-width="1.6"/>
<line x1="229.40" y1="511.00" x2="353.50" y2="511.00" stroke="#5a5a5a" stroke-width="1.2"/>
<line x1="229.40" y1="490.72" x2="231.00" y2="490.72" stroke="#5a5a5a" stroke-width="0.8"/>
<text x="225.20" y="495.02" font-size="11.6" text-anchor="end" font-weight="normal" fill="#262626">10</text>
<line x1="229.40" y1="469.38" x2="231.00" y2="469.38" stroke="#5a5a5a" stroke-width="0.8"/>
<text x="225.20" y="473.68" font-size="11.6" text-anchor="end" font-weight="normal" fill="#262626">20</text>
<line x1="229.40" y1="448.03" x2="231.00" y2="448.03" stroke="#5a5a5a" stroke-width="0.8"/>
<text x="225.20" y="452.33" font-size="11.6" text-anchor="end" font-weight="normal" fill="#262626">30</text>
<line x1="229.40" y1="426.69" x2="231.00" y2="426.69" stroke="#5a5a5a" stroke-width="0.8"/>
<text x="225.20" y="430.99" font-size="11.6" text-anchor="end" font-weight="normal" fill="#262626">40</text>
<line x1="229.40" y1="405.34" x2="231.00" y2="405.34" stroke="#5a5a5a" stroke-width="0.8"/>
<text x="225.20" y="409.64" font-size="11.6" text-anchor="end" font-weight="normal" fill="#262626">50</text>
<line x1="229.40" y1="384.00" x2="231.00" y2="384.00" stroke="#5a5a5a" stroke-width="0.8"/>
<text x="225.20" y="388.30" font-size="11.6" text-anchor="end" font-weight="normal" fill="#262626">60</text>
<line x1="229.40" y1="362.65" x2="231.00" y2="362.65" stroke="#5a5a5a" stroke-width="0.8"/>
<text x="225.20" y="366.95" font-size="11.6" text-anchor="end" font-weight="normal" fill="#262626">70</text>
<line x1="229.40" y1="341.31" x2="231.00" y2="341.31" stroke="#5a5a5a" stroke-width="0.8"/>
<text x="225.20" y="345.61" font-size="11.6" text-anchor="end" font-weight="normal" fill="#262626">80</text>
<line x1="239.74" y1="511.00" x2="239.74" y2="509.40" stroke="#5a5a5a" stroke-width="0.8"/>
<text x="247.74" y="522.00" font-size="10.3" text-anchor="end" font-weight="normal" fill="#262626" transform="rotate(-45 247.74 522.00)">0</text>
<line x1="260.43" y1="511.00" x2="260.43" y2="509.40" stroke="#5a5a5a" stroke-width="0.8"/>
<text x="268.43" y="522.00" font-size="10.3" text-anchor="end" font-weight="normal" fill="#262626" transform="rotate(-45 268.43 522.00)">5</text>
<line x1="281.11" y1="511.00" x2="281.11" y2="509.40" stroke="#5a5a5a" stroke-width="0.8"/>
<text x="289.11" y="522.00" font-size="10.3" text-anchor="end" font-weight="normal" fill="#262626" transform="rotate(-45 289.11 522.00)">7</text>
<line x1="301.79" y1="511.00" x2="301.79" y2="509.40" stroke="#5a5a5a" stroke-width="0.8"/>
<text x="309.79" y="522.00" font-size="10.3" text-anchor="end" font-weight="normal" fill="#262626" transform="rotate(-45 309.79 522.00)">12</text>
<line x1="322.48" y1="511.00" x2="322.48" y2="509.40" stroke="#5a5a5a" stroke-width="0.8"/>
<text x="330.48" y="522.00" font-size="10.3" text-anchor="end" font-weight="normal" fill="#262626" transform="rotate(-45 330.48 522.00)">14</text>
<line x1="343.16" y1="511.00" x2="343.16" y2="509.40" stroke="#5a5a5a" stroke-width="0.8"/>
<text x="351.16" y="522.00" font-size="10.3" text-anchor="end" font-weight="normal" fill="#262626" transform="rotate(-45 351.16 522.00)">28</text>
<defs><linearGradient id="g_blues2" x1="0" y1="1" x2="0" y2="0"><stop offset="0" stop-color="#f7fbff"/><stop offset="0.125" stop-color="#deebf7"/><stop offset="0.25" stop-color="#c6dbef"/><stop offset="0.375" stop-color="#9ecae1"/><stop offset="0.5" stop-color="#6baed6"/><stop offset="0.625" stop-color="#4292c6"/><stop offset="0.75" stop-color="#2171b5"/><stop offset="0.875" stop-color="#1a4f9a"/><stop offset="1.0" stop-color="#1c2f78"/></linearGradient></defs>
<rect x="358.80" y="323.80" width="9.20" height="187.30" fill="url(#g_blues2)"/>
<rect x="358.80" y="323.80" width="9.20" height="187.30" fill="none" stroke="#5a5a5a" stroke-width="0.8"/>
<text x="370.40" y="327.60" font-size="10.5" text-anchor="start" font-weight="normal" fill="#262626">180<tspan dx="1.3" dy="-0.6">°</tspan></text>
<text x="370.40" y="514.70" font-size="10.5" text-anchor="start" font-weight="normal" fill="#262626">0<tspan dx="1.3" dy="-0.6">°</tspan></text>
<text x="389.00" y="416.15" font-size="10.5" text-anchor="middle" font-weight="normal" fill="#262626" transform="rotate(-90 389.00 416.15)">|ΔPD| from day 0</text>
<text x="292.00" y="546.80" font-size="12.4" text-anchor="middle" font-weight="normal" fill="#262626">Days since first session</text>
<line x1="454.70" y1="37.90" x2="454.70" y2="105.60" stroke="#5a5a5a" stroke-width="1.2"/>
<line x1="454.70" y1="105.60" x2="523.00" y2="105.60" stroke="#5a5a5a" stroke-width="1.2"/>
<line x1="454.70" y1="45.40" x2="456.20" y2="45.40" stroke="#5a5a5a" stroke-width="0.8"/>
<text x="451.20" y="49.70" font-size="11.6" text-anchor="end" font-weight="normal" fill="#262626">1</text>
<line x1="454.70" y1="72.05" x2="456.20" y2="72.05" stroke="#5a5a5a" stroke-width="0.8"/>
<text x="451.20" y="76.35" font-size="11.6" text-anchor="end" font-weight="normal" fill="#262626">0</text>
<line x1="454.70" y1="98.70" x2="456.20" y2="98.70" stroke="#5a5a5a" stroke-width="0.8"/>
<text x="451.20" y="103.00" font-size="11.6" text-anchor="end" font-weight="normal" fill="#262626">-1</text>
<line x1="458.40" y1="105.60" x2="458.40" y2="104.10" stroke="#5a5a5a" stroke-width="0.8"/>
<line x1="488.95" y1="105.60" x2="488.95" y2="104.10" stroke="#5a5a5a" stroke-width="0.8"/>
<line x1="519.50" y1="105.60" x2="519.50" y2="104.10" stroke="#5a5a5a" stroke-width="0.8"/>
<text x="488.60" y="32.60" font-size="12.4" text-anchor="middle" font-weight="normal" fill="#262626">Feat 4</text>
<text x="489.20" y="135.80" font-size="12.4" text-anchor="middle" font-weight="normal" fill="#262626">Direction</text>
<text x="459.20" y="121.00" font-size="11.6" text-anchor="middle" fill="#262626">-180<tspan font-size="10.5" dx="1.4" dy="-0.8">°</tspan></text>
<text x="489.75" y="121.00" font-size="11.6" text-anchor="middle" fill="#262626">0<tspan font-size="10.5" dx="1.4" dy="-0.8">°</tspan></text>
<text x="520.30" y="121.00" font-size="11.6" text-anchor="middle" fill="#262626">180<tspan font-size="10.5" dx="1.4" dy="-0.8">°</tspan></text>
<path d="M458.40,80.58 L459.42,79.14 L460.44,77.63 L461.45,76.06 L462.47,74.47 L463.49,72.85 L464.51,71.23 L465.53,69.64 L466.55,68.07 L467.56,66.56 L468.58,65.12 L469.60,63.76 L470.62,62.51 L471.64,61.36 L472.66,60.34 L473.67,59.46 L474.69,58.73 L475.71,58.15 L476.73,57.73 L477.75,57.48 L478.77,57.39 L479.78,57.48 L480.80,57.73 L481.82,58.15 L482.84,58.73 L483.86,59.46 L484.88,60.34 L485.89,61.36 L486.91,62.51 L487.93,63.76 L488.95,65.12 L489.97,66.56 L490.99,68.07 L492.00,69.64 L493.02,71.23 L494.04,72.85 L495.06,74.47 L496.08,76.06 L497.10,77.63 L498.12,79.14 L499.13,80.58 L500.15,81.93 L501.17,83.19 L502.19,84.34 L503.21,85.35 L504.23,86.24 L505.24,86.97 L506.26,87.55 L507.28,87.97 L508.30,88.22 L509.32,88.31 L510.33,88.22 L511.35,87.97 L512.37,87.55 L513.39,86.97 L514.41,86.24 L515.43,85.35 L516.44,84.34 L517.46,83.19 L518.48,81.93 L519.50,80.58" fill="none" stroke="#2b3694" stroke-opacity="0.22" stroke-width="4" stroke-linecap="butt" stroke-linejoin="round"/>
<path d="M458.40,80.58 L459.42,79.14 L460.44,77.63 L461.45,76.06 L462.47,74.47 L463.49,72.85 L464.51,71.23 L465.53,69.64 L466.55,68.07 L467.56,66.56 L468.58,65.12 L469.60,63.76 L470.62,62.51 L471.64,61.36 L472.66,60.34 L473.67,59.46 L474.69,58.73 L475.71,58.15 L476.73,57.73 L477.75,57.48 L478.77,57.39 L479.78,57.48 L480.80,57.73 L481.82,58.15 L482.84,58.73 L483.86,59.46 L484.88,60.34 L485.89,61.36 L486.91,62.51 L487.93,63.76 L488.95,65.12 L489.97,66.56 L490.99,68.07 L492.00,69.64 L493.02,71.23 L494.04,72.85 L495.06,74.47 L496.08,76.06 L497.10,77.63 L498.12,79.14 L499.13,80.58 L500.15,81.93 L501.17,83.19 L502.19,84.34 L503.21,85.35 L504.23,86.24 L505.24,86.97 L506.26,87.55 L507.28,87.97 L508.30,88.22 L509.32,88.31 L510.33,88.22 L511.35,87.97 L512.37,87.55 L513.39,86.97 L514.41,86.24 L515.43,85.35 L516.44,84.34 L517.46,83.19 L518.48,81.93 L519.50,80.58" fill="none" stroke="#2b3694" stroke-width="2.8" stroke-linecap="butt" stroke-linejoin="round" opacity="1.0"/>
<path d="M458.40,78.81 L459.42,77.37 L460.44,75.86 L461.45,74.31 L462.47,72.72 L463.49,71.12 L464.51,69.52 L465.53,67.94 L466.55,66.39 L467.56,64.91 L468.58,63.49 L469.60,62.16 L470.62,60.93 L471.64,59.82 L472.66,58.83 L473.67,57.98 L474.69,57.28 L475.71,56.73 L476.73,56.34 L477.75,56.12 L478.77,56.06 L479.78,56.17 L480.80,56.45 L481.82,56.89 L482.84,57.50 L483.86,58.25 L484.88,59.15 L485.89,60.18 L486.91,61.33 L487.93,62.59 L488.95,63.95 L489.97,65.40 L490.99,66.90 L492.00,68.46 L493.02,70.05 L494.04,71.65 L495.06,73.25 L496.08,74.83 L497.10,76.37 L498.12,77.86 L499.13,79.28 L500.15,80.61 L501.17,81.83 L502.19,82.95 L503.21,83.94 L504.23,84.79 L505.24,85.49 L506.26,86.04 L507.28,86.43 L508.30,86.65 L509.32,86.71 L510.33,86.59 L511.35,86.31 L512.37,85.87 L513.39,85.27 L514.41,84.52 L515.43,83.62 L516.44,82.59 L517.46,81.44 L518.48,80.17 L519.50,78.81" fill="none" stroke="#4a74b4" stroke-opacity="0.22" stroke-width="4" stroke-linecap="butt" stroke-linejoin="round"/>
<path d="M458.40,78.81 L459.42,77.37 L460.44,75.86 L461.45,74.31 L462.47,72.72 L463.49,71.12 L464.51,69.52 L465.53,67.94 L466.55,66.39 L467.56,64.91 L468.58,63.49 L469.60,62.16 L470.62,60.93 L471.64,59.82 L472.66,58.83 L473.67,57.98 L474.69,57.28 L475.71,56.73 L476.73,56.34 L477.75,56.12 L478.77,56.06 L479.78,56.17 L480.80,56.45 L481.82,56.89 L482.84,57.50 L483.86,58.25 L484.88,59.15 L485.89,60.18 L486.91,61.33 L487.93,62.59 L488.95,63.95 L489.97,65.40 L490.99,66.90 L492.00,68.46 L493.02,70.05 L494.04,71.65 L495.06,73.25 L496.08,74.83 L497.10,76.37 L498.12,77.86 L499.13,79.28 L500.15,80.61 L501.17,81.83 L502.19,82.95 L503.21,83.94 L504.23,84.79 L505.24,85.49 L506.26,86.04 L507.28,86.43 L508.30,86.65 L509.32,86.71 L510.33,86.59 L511.35,86.31 L512.37,85.87 L513.39,85.27 L514.41,84.52 L515.43,83.62 L516.44,82.59 L517.46,81.44 L518.48,80.17 L519.50,78.81" fill="none" stroke="#4a74b4" stroke-width="2.0" stroke-linecap="butt" stroke-linejoin="round" opacity="1.0"/>
<path d="M458.40,77.03 L459.42,75.54 L460.44,73.99 L461.45,72.38 L462.47,70.75 L463.49,69.10 L464.51,67.46 L465.53,65.85 L466.55,64.27 L467.56,62.76 L468.58,61.32 L469.60,59.97 L470.62,58.73 L471.64,57.61 L472.66,56.62 L473.67,55.77 L474.69,55.07 L475.71,54.54 L476.73,54.17 L477.75,53.97 L478.77,53.94 L479.78,54.08 L480.80,54.40 L481.82,54.88 L482.84,55.52 L483.86,56.32 L484.88,57.26 L485.89,58.34 L486.91,59.54 L487.93,60.86 L488.95,62.27 L489.97,63.76 L490.99,65.32 L492.00,66.92 L493.02,68.55 L494.04,70.20 L495.06,71.84 L496.08,73.46 L497.10,75.03 L498.12,76.54 L499.13,77.98 L500.15,79.33 L501.17,80.57 L502.19,81.70 L503.21,82.69 L504.23,83.53 L505.24,84.23 L506.26,84.77 L507.28,85.14 L508.30,85.34 L509.32,85.37 L510.33,85.22 L511.35,84.91 L512.37,84.43 L513.39,83.78 L514.41,82.99 L515.43,82.04 L516.44,80.96 L517.46,79.76 L518.48,78.44 L519.50,77.03" fill="none" stroke="#7fb0d5" stroke-opacity="0.22" stroke-width="4" stroke-linecap="butt" stroke-linejoin="round"/>
<path d="M458.40,77.03 L459.42,75.54 L460.44,73.99 L461.45,72.38 L462.47,70.75 L463.49,69.10 L464.51,67.46 L465.53,65.85 L466.55,64.27 L467.56,62.76 L468.58,61.32 L469.60,59.97 L470.62,58.73 L471.64,57.61 L472.66,56.62 L473.67,55.77 L474.69,55.07 L475.71,54.54 L476.73,54.17 L477.75,53.97 L478.77,53.94 L479.78,54.08 L480.80,54.40 L481.82,54.88 L482.84,55.52 L483.86,56.32 L484.88,57.26 L485.89,58.34 L486.91,59.54 L487.93,60.86 L488.95,62.27 L489.97,63.76 L490.99,65.32 L492.00,66.92 L493.02,68.55 L494.04,70.20 L495.06,71.84 L496.08,73.46 L497.10,75.03 L498.12,76.54 L499.13,77.98 L500.15,79.33 L501.17,80.57 L502.19,81.70 L503.21,82.69 L504.23,83.53 L505.24,84.23 L506.26,84.77 L507.28,85.14 L508.30,85.34 L509.32,85.37 L510.33,85.22 L511.35,84.91 L512.37,84.43 L513.39,83.78 L514.41,82.99 L515.43,82.04 L516.44,80.96 L517.46,79.76 L518.48,78.44 L519.50,77.03" fill="none" stroke="#7fb0d5" stroke-width="2.0" stroke-linecap="butt" stroke-linejoin="round" opacity="1.0"/>
<path d="M458.40,75.31 L459.42,73.78 L460.44,72.19 L461.45,70.55 L462.47,68.89 L463.49,67.22 L464.51,65.55 L465.53,63.91 L466.55,62.32 L467.56,60.79 L468.58,59.34 L469.60,57.99 L470.62,56.75 L471.64,55.63 L472.66,54.64 L473.67,53.81 L474.69,53.12 L475.71,52.61 L476.73,52.26 L477.75,52.08 L478.77,52.08 L479.78,52.26 L480.80,52.61 L481.82,53.12 L482.84,53.81 L483.86,54.64 L484.88,55.63 L485.89,56.75 L486.91,57.99 L487.93,59.34 L488.95,60.79 L489.97,62.32 L490.99,63.91 L492.00,65.55 L493.02,67.22 L494.04,68.89 L495.06,70.55 L496.08,72.19 L497.10,73.78 L498.12,75.31 L499.13,76.76 L500.15,78.12 L501.17,79.36 L502.19,80.48 L503.21,81.46 L504.23,82.30 L505.24,82.98 L506.26,83.50 L507.28,83.85 L508.30,84.02 L509.32,84.02 L510.33,83.85 L511.35,83.50 L512.37,82.98 L513.39,82.30 L514.41,81.46 L515.43,80.48 L516.44,79.36 L517.46,78.12 L518.48,76.76 L519.50,75.31" fill="none" stroke="#b7dceb" stroke-opacity="0.22" stroke-width="4" stroke-linecap="butt" stroke-linejoin="round"/>
<path d="M458.40,75.31 L459.42,73.78 L460.44,72.19 L461.45,70.55 L462.47,68.89 L463.49,67.22 L464.51,65.55 L465.53,63.91 L466.55,62.32 L467.56,60.79 L468.58,59.34 L469.60,57.99 L470.62,56.75 L471.64,55.63 L472.66,54.64 L473.67,53.81 L474.69,53.12 L475.71,52.61 L476.73,52.26 L477.75,52.08 L478.77,52.08 L479.78,52.26 L480.80,52.61 L481.82,53.12 L482.84,53.81 L483.86,54.64 L484.88,55.63 L485.89,56.75 L486.91,57.99 L487.93,59.34 L488.95,60.79 L489.97,62.32 L490.99,63.91 L492.00,65.55 L493.02,67.22 L494.04,68.89 L495.06,70.55 L496.08,72.19 L497.10,73.78 L498.12,75.31 L499.13,76.76 L500.15,78.12 L501.17,79.36 L502.19,80.48 L503.21,81.46 L504.23,82.30 L505.24,82.98 L506.26,83.50 L507.28,83.85 L508.30,84.02 L509.32,84.02 L510.33,83.85 L511.35,83.50 L512.37,82.98 L513.39,82.30 L514.41,81.46 L515.43,80.48 L516.44,79.36 L517.46,78.12 L518.48,76.76 L519.50,75.31" fill="none" stroke="#b7dceb" stroke-width="2.0" stroke-linecap="butt" stroke-linejoin="round" opacity="1.0"/>
<path d="M458.40,75.99 L459.42,74.66 L460.44,73.27 L461.45,71.85 L462.47,70.40 L463.49,68.95 L464.51,67.51 L465.53,66.10 L466.55,64.73 L467.56,63.41 L468.58,62.17 L469.60,61.01 L470.62,59.95 L471.64,59.00 L472.66,58.17 L473.67,57.46 L474.69,56.90 L475.71,56.47 L476.73,56.19 L477.75,56.07 L478.77,56.09 L479.78,56.27 L480.80,56.60 L481.82,57.07 L482.84,57.68 L483.86,58.43 L484.88,59.30 L485.89,60.29 L486.91,61.39 L487.93,62.57 L488.95,63.84 L489.97,65.18 L490.99,66.57 L492.00,67.99 L493.02,69.43 L494.04,70.88 L495.06,72.32 L496.08,73.74 L497.10,75.11 L498.12,76.42 L499.13,77.67 L500.15,78.83 L501.17,79.89 L502.19,80.84 L503.21,81.67 L504.23,82.37 L505.24,82.94 L506.26,83.36 L507.28,83.64 L508.30,83.77 L509.32,83.74 L510.33,83.57 L511.35,83.24 L512.37,82.77 L513.39,82.15 L514.41,81.41 L515.43,80.53 L516.44,79.54 L517.46,78.45 L518.48,77.26 L519.50,75.99" fill="none" stroke="#fdd38a" stroke-opacity="0.22" stroke-width="4" stroke-linecap="butt" stroke-linejoin="round"/>
<path d="M458.40,75.99 L459.42,74.66 L460.44,73.27 L461.45,71.85 L462.47,70.40 L463.49,68.95 L464.51,67.51 L465.53,66.10 L466.55,64.73 L467.56,63.41 L468.58,62.17 L469.60,61.01 L470.62,59.95 L471.64,59.00 L472.66,58.17 L473.67,57.46 L474.69,56.90 L475.71,56.47 L476.73,56.19 L477.75,56.07 L478.77,56.09 L479.78,56.27 L480.80,56.60 L481.82,57.07 L482.84,57.68 L483.86,58.43 L484.88,59.30 L485.89,60.29 L486.91,61.39 L487.93,62.57 L488.95,63.84 L489.97,65.18 L490.99,66.57 L492.00,67.99 L493.02,69.43 L494.04,70.88 L495.06,72.32 L496.08,73.74 L497.10,75.11 L498.12,76.42 L499.13,77.67 L500.15,78.83 L501.17,79.89 L502.19,80.84 L503.21,81.67 L504.23,82.37 L505.24,82.94 L506.26,83.36 L507.28,83.64 L508.30,83.77 L509.32,83.74 L510.33,83.57 L511.35,83.24 L512.37,82.77 L513.39,82.15 L514.41,81.41 L515.43,80.53 L516.44,79.54 L517.46,78.45 L518.48,77.26 L519.50,75.99" fill="none" stroke="#fdd38a" stroke-width="2.0" stroke-linecap="butt" stroke-linejoin="round" opacity="1.0"/>
<path d="M458.40,79.11 L459.42,77.94 L460.44,76.72 L461.45,75.45 L462.47,74.16 L463.49,72.85 L464.51,71.54 L465.53,70.25 L466.55,68.98 L467.56,67.75 L468.58,66.59 L469.60,65.49 L470.62,64.47 L471.64,63.54 L472.66,62.72 L473.67,62.00 L474.69,61.41 L475.71,60.94 L476.73,60.60 L477.75,60.39 L478.77,60.32 L479.78,60.39 L480.80,60.60 L481.82,60.94 L482.84,61.41 L483.86,62.00 L484.88,62.72 L485.89,63.54 L486.91,64.47 L487.93,65.49 L488.95,66.59 L489.97,67.75 L490.99,68.98 L492.00,70.25 L493.02,71.54 L494.04,72.85 L495.06,74.16 L496.08,75.45 L497.10,76.72 L498.12,77.94 L499.13,79.11 L500.15,80.21 L501.17,81.23 L502.19,82.16 L503.21,82.98 L504.23,83.70 L505.24,84.29 L506.26,84.76 L507.28,85.10 L508.30,85.31 L509.32,85.38 L510.33,85.31 L511.35,85.10 L512.37,84.76 L513.39,84.29 L514.41,83.70 L515.43,82.98 L516.44,82.16 L517.46,81.23 L518.48,80.21 L519.50,79.11" fill="none" stroke="#f68d52" stroke-opacity="0.22" stroke-width="4" stroke-linecap="butt" stroke-linejoin="round"/>
<path d="M458.40,79.11 L459.42,77.94 L460.44,76.72 L461.45,75.45 L462.47,74.16 L463.49,72.85 L464.51,71.54 L465.53,70.25 L466.55,68.98 L467.56,67.75 L468.58,66.59 L469.60,65.49 L470.62,64.47 L471.64,63.54 L472.66,62.72 L473.67,62.00 L474.69,61.41 L475.71,60.94 L476.73,60.60 L477.75,60.39 L478.77,60.32 L479.78,60.39 L480.80,60.60 L481.82,60.94 L482.84,61.41 L483.86,62.00 L484.88,62.72 L485.89,63.54 L486.91,64.47 L487.93,65.49 L488.95,66.59 L489.97,67.75 L490.99,68.98 L492.00,70.25 L493.02,71.54 L494.04,72.85 L495.06,74.16 L496.08,75.45 L497.10,76.72 L498.12,77.94 L499.13,79.11 L500.15,80.21 L501.17,81.23 L502.19,82.16 L503.21,82.98 L504.23,83.70 L505.24,84.29 L506.26,84.76 L507.28,85.10 L508.30,85.31 L509.32,85.38 L510.33,85.31 L511.35,85.10 L512.37,84.76 L513.39,84.29 L514.41,83.70 L515.43,82.98 L516.44,82.16 L517.46,81.23 L518.48,80.21 L519.50,79.11" fill="none" stroke="#f68d52" stroke-width="2.0" stroke-linecap="butt" stroke-linejoin="round" opacity="1.0"/>
<path d="M458.40,74.32 L459.42,73.89 L460.44,73.45 L461.45,72.99 L462.47,72.52 L463.49,72.05 L464.51,71.58 L465.53,71.11 L466.55,70.65 L467.56,70.21 L468.58,69.78 L469.60,69.39 L470.62,69.02 L471.64,68.68 L472.66,68.38 L473.67,68.13 L474.69,67.91 L475.71,67.74 L476.73,67.62 L477.75,67.54 L478.77,67.52 L479.78,67.54 L480.80,67.62 L481.82,67.74 L482.84,67.91 L483.86,68.13 L484.88,68.38 L485.89,68.68 L486.91,69.02 L487.93,69.39 L488.95,69.78 L489.97,70.21 L490.99,70.65 L492.00,71.11 L493.02,71.58 L494.04,72.05 L495.06,72.52 L496.08,72.99 L497.10,73.45 L498.12,73.89 L499.13,74.32 L500.15,74.71 L501.17,75.08 L502.19,75.42 L503.21,75.72 L504.23,75.97 L505.24,76.19 L506.26,76.36 L507.28,76.48 L508.30,76.56 L509.32,76.58 L510.33,76.56 L511.35,76.48 L512.37,76.36 L513.39,76.19 L514.41,75.97 L515.43,75.72 L516.44,75.42 L517.46,75.08 L518.48,74.71 L519.50,74.32" fill="none" stroke="#dc3a2c" stroke-opacity="0.22" stroke-width="5" stroke-linecap="butt" stroke-linejoin="round"/>
<path d="M458.40,74.32 L459.42,73.89 L460.44,73.45 L461.45,72.99 L462.47,72.52 L463.49,72.05 L464.51,71.58 L465.53,71.11 L466.55,70.65 L467.56,70.21 L468.58,69.78 L469.60,69.39 L470.62,69.02 L471.64,68.68 L472.66,68.38 L473.67,68.13 L474.69,67.91 L475.71,67.74 L476.73,67.62 L477.75,67.54 L478.77,67.52 L479.78,67.54 L480.80,67.62 L481.82,67.74 L482.84,67.91 L483.86,68.13 L484.88,68.38 L485.89,68.68 L486.91,69.02 L487.93,69.39 L488.95,69.78 L489.97,70.21 L490.99,70.65 L492.00,71.11 L493.02,71.58 L494.04,72.05 L495.06,72.52 L496.08,72.99 L497.10,73.45 L498.12,73.89 L499.13,74.32 L500.15,74.71 L501.17,75.08 L502.19,75.42 L503.21,75.72 L504.23,75.97 L505.24,76.19 L506.26,76.36 L507.28,76.48 L508.30,76.56 L509.32,76.58 L510.33,76.56 L511.35,76.48 L512.37,76.36 L513.39,76.19 L514.41,75.97 L515.43,75.72 L516.44,75.42 L517.46,75.08 L518.48,74.71 L519.50,74.32" fill="none" stroke="#dc3a2c" stroke-width="3.4" stroke-linecap="butt" stroke-linejoin="round" opacity="1.0"/>
<path d="M458.40,75.91 L459.42,75.64 L460.44,75.35 L461.45,75.06 L462.47,74.75 L463.49,74.45 L464.51,74.14 L465.53,73.84 L466.55,73.54 L467.56,73.26 L468.58,72.98 L469.60,72.73 L470.62,72.49 L471.64,72.27 L472.66,72.08 L473.67,71.91 L474.69,71.77 L475.71,71.66 L476.73,71.58 L477.75,71.53 L478.77,71.52 L479.78,71.53 L480.80,71.58 L481.82,71.66 L482.84,71.77 L483.86,71.91 L484.88,72.08 L485.89,72.27 L486.91,72.49 L487.93,72.73 L488.95,72.98 L489.97,73.26 L490.99,73.54 L492.00,73.84 L493.02,74.14 L494.04,74.45 L495.06,74.75 L496.08,75.06 L497.10,75.35 L498.12,75.64 L499.13,75.91 L500.15,76.17 L501.17,76.41 L502.19,76.63 L503.21,76.82 L504.23,76.99 L505.24,77.13 L506.26,77.24 L507.28,77.32 L508.30,77.36 L509.32,77.38 L510.33,77.36 L511.35,77.32 L512.37,77.24 L513.39,77.13 L514.41,76.99 L515.43,76.82 L516.44,76.63 L517.46,76.41 L518.48,76.17 L519.50,75.91" fill="none" stroke="#a50d2a" stroke-width="1.6" stroke-linecap="butt" stroke-linejoin="round" opacity="1.0"/>
<path d="M478.43 49.13 V56.59 M476.83 49.13 H480.03 M476.83 56.59 H480.03" stroke="#222" stroke-width="0.7" fill="none"/>
<path d="M476.43 49.66 L480.43 49.66 L478.43 53.26 Z" fill="#b7dceb" stroke="#222" stroke-width="0.7"/>
<path d="M476.43 51.79 L480.43 51.79 L478.43 55.39 Z" fill="#7fb0d5" stroke="#222" stroke-width="0.7"/>
<path d="M476.43 53.39 L480.43 53.39 L478.43 56.99 Z" fill="#4a74b4" stroke="#222" stroke-width="0.7"/>
<path d="M476.43 54.46 L480.43 54.46 L478.43 58.06 Z" fill="#fdd38a" stroke="#222" stroke-width="0.7"/>
<path d="M476.43 58.72 L480.43 58.72 L478.43 62.32 Z" fill="#f68d52" stroke="#222" stroke-width="0.7"/>
<path d="M478.43 65.39 V70.72 M476.83 65.39 H480.03 M476.83 70.72 H480.03" stroke="#222" stroke-width="0.7" fill="none"/>
<path d="M476.43 65.12 L480.43 65.12 L478.43 68.72 Z" fill="#dc3a2c" stroke="#222" stroke-width="0.7"/>
<path d="M476.43 66.72 L480.43 66.72 L478.43 70.32 Z" fill="#dc3a2c" stroke="#222" stroke-width="0.7"/>
<path d="M476.43 69.92 L480.43 69.92 L478.43 73.52 Z" fill="#a50d2a" stroke="#222" stroke-width="0.7"/>
<line x1="558.40" y1="37.90" x2="558.40" y2="105.60" stroke="#5a5a5a" stroke-width="1.2"/>
<line x1="558.40" y1="105.60" x2="626.90" y2="105.60" stroke="#5a5a5a" stroke-width="1.2"/>
<line x1="558.40" y1="45.15" x2="559.90" y2="45.15" stroke="#5a5a5a" stroke-width="0.8"/>
<text x="554.60" y="49.45" font-size="11.6" text-anchor="end" font-weight="normal" fill="#262626">1</text>
<line x1="558.40" y1="71.90" x2="559.90" y2="71.90" stroke="#5a5a5a" stroke-width="0.8"/>
<text x="554.60" y="76.20" font-size="11.6" text-anchor="end" font-weight="normal" fill="#262626">0</text>
<line x1="558.40" y1="98.65" x2="559.90" y2="98.65" stroke="#5a5a5a" stroke-width="0.8"/>
<text x="554.60" y="102.95" font-size="11.6" text-anchor="end" font-weight="normal" fill="#262626">-1</text>
<line x1="562.30" y1="105.60" x2="562.30" y2="104.10" stroke="#5a5a5a" stroke-width="0.8"/>
<line x1="592.95" y1="105.60" x2="592.95" y2="104.10" stroke="#5a5a5a" stroke-width="0.8"/>
<line x1="623.60" y1="105.60" x2="623.60" y2="104.10" stroke="#5a5a5a" stroke-width="0.8"/>
<text x="593.00" y="32.60" font-size="12.4" text-anchor="middle" font-weight="normal" fill="#262626">Feat 27</text>
<text x="593.00" y="135.80" font-size="12.4" text-anchor="middle" font-weight="normal" fill="#262626">Direction</text>
<text x="563.10" y="121.00" font-size="11.6" text-anchor="middle" fill="#262626">-180<tspan font-size="10.5" dx="1.4" dy="-0.8">°</tspan></text>
<text x="593.75" y="121.00" font-size="11.6" text-anchor="middle" fill="#262626">0<tspan font-size="10.5" dx="1.4" dy="-0.8">°</tspan></text>
<text x="624.40" y="121.00" font-size="11.6" text-anchor="middle" fill="#262626">180<tspan font-size="10.5" dx="1.4" dy="-0.8">°</tspan></text>
<path d="M562.30,76.61 L563.32,75.40 L564.34,74.14 L565.37,72.85 L566.39,71.54 L567.41,70.22 L568.43,68.91 L569.45,67.63 L570.47,66.39 L571.50,65.20 L572.52,64.07 L573.54,63.02 L574.56,62.05 L575.58,61.19 L576.60,60.44 L577.62,59.80 L578.65,59.28 L579.67,58.90 L580.69,58.65 L581.71,58.53 L582.73,58.56 L583.75,58.72 L584.78,59.01 L585.80,59.44 L586.82,60.00 L587.84,60.67 L588.86,61.47 L589.88,62.36 L590.91,63.36 L591.93,64.44 L592.95,65.59 L593.97,66.80 L594.99,68.06 L596.01,69.35 L597.04,70.66 L598.06,71.97 L599.08,73.28 L600.10,74.56 L601.12,75.81 L602.14,77.00 L603.17,78.13 L604.19,79.18 L605.21,80.14 L606.23,81.00 L607.25,81.76 L608.27,82.40 L609.30,82.91 L610.32,83.30 L611.34,83.55 L612.36,83.66 L613.38,83.64 L614.40,83.48 L615.43,83.18 L616.45,82.75 L617.47,82.20 L618.49,81.52 L619.51,80.73 L620.53,79.83 L621.56,78.84 L622.58,77.76 L623.60,76.61" fill="none" stroke="#2b3694" stroke-opacity="0.22" stroke-width="4" stroke-linecap="butt" stroke-linejoin="round"/>
<path d="M562.30,76.61 L563.32,75.40 L564.34,74.14 L565.37,72.85 L566.39,71.54 L567.41,70.22 L568.43,68.91 L569.45,67.63 L570.47,66.39 L571.50,65.20 L572.52,64.07 L573.54,63.02 L574.56,62.05 L575.58,61.19 L576.60,60.44 L577.62,59.80 L578.65,59.28 L579.67,58.90 L580.69,58.65 L581.71,58.53 L582.73,58.56 L583.75,58.72 L584.78,59.01 L585.80,59.44 L586.82,60.00 L587.84,60.67 L588.86,61.47 L589.88,62.36 L590.91,63.36 L591.93,64.44 L592.95,65.59 L593.97,66.80 L594.99,68.06 L596.01,69.35 L597.04,70.66 L598.06,71.97 L599.08,73.28 L600.10,74.56 L601.12,75.81 L602.14,77.00 L603.17,78.13 L604.19,79.18 L605.21,80.14 L606.23,81.00 L607.25,81.76 L608.27,82.40 L609.30,82.91 L610.32,83.30 L611.34,83.55 L612.36,83.66 L613.38,83.64 L614.40,83.48 L615.43,83.18 L616.45,82.75 L617.47,82.20 L618.49,81.52 L619.51,80.73 L620.53,79.83 L621.56,78.84 L622.58,77.76 L623.60,76.61" fill="none" stroke="#2b3694" stroke-width="2.6" stroke-linecap="butt" stroke-linejoin="round" opacity="1.0"/>
<path d="M562.30,76.58 L563.32,75.45 L564.34,74.29 L565.37,73.10 L566.39,71.90 L567.41,70.70 L568.43,69.51 L569.45,68.35 L570.47,67.22 L571.50,66.15 L572.52,65.14 L573.54,64.20 L574.56,63.35 L575.58,62.59 L576.60,61.94 L577.62,61.39 L578.65,60.96 L579.67,60.65 L580.69,60.46 L581.71,60.40 L582.73,60.46 L583.75,60.65 L584.78,60.96 L585.80,61.39 L586.82,61.94 L587.84,62.59 L588.86,63.35 L589.88,64.20 L590.91,65.14 L591.93,66.15 L592.95,67.22 L593.97,68.35 L594.99,69.51 L596.01,70.70 L597.04,71.90 L598.06,73.10 L599.08,74.29 L600.10,75.45 L601.12,76.58 L602.14,77.65 L603.17,78.66 L604.19,79.60 L605.21,80.45 L606.23,81.21 L607.25,81.86 L608.27,82.41 L609.30,82.84 L610.32,83.15 L611.34,83.34 L612.36,83.40 L613.38,83.34 L614.40,83.15 L615.43,82.84 L616.45,82.41 L617.47,81.86 L618.49,81.21 L619.51,80.45 L620.53,79.60 L621.56,78.66 L622.58,77.65 L623.60,76.58" fill="none" stroke="#4a74b4" stroke-opacity="0.22" stroke-width="4" stroke-linecap="butt" stroke-linejoin="round"/>
<path d="M562.30,76.58 L563.32,75.45 L564.34,74.29 L565.37,73.10 L566.39,71.90 L567.41,70.70 L568.43,69.51 L569.45,68.35 L570.47,67.22 L571.50,66.15 L572.52,65.14 L573.54,64.20 L574.56,63.35 L575.58,62.59 L576.60,61.94 L577.62,61.39 L578.65,60.96 L579.67,60.65 L580.69,60.46 L581.71,60.40 L582.73,60.46 L583.75,60.65 L584.78,60.96 L585.80,61.39 L586.82,61.94 L587.84,62.59 L588.86,63.35 L589.88,64.20 L590.91,65.14 L591.93,66.15 L592.95,67.22 L593.97,68.35 L594.99,69.51 L596.01,70.70 L597.04,71.90 L598.06,73.10 L599.08,74.29 L600.10,75.45 L601.12,76.58 L602.14,77.65 L603.17,78.66 L604.19,79.60 L605.21,80.45 L606.23,81.21 L607.25,81.86 L608.27,82.41 L609.30,82.84 L610.32,83.15 L611.34,83.34 L612.36,83.40 L613.38,83.34 L614.40,83.15 L615.43,82.84 L616.45,82.41 L617.47,81.86 L618.49,81.21 L619.51,80.45 L620.53,79.60 L621.56,78.66 L622.58,77.65 L623.60,76.58" fill="none" stroke="#4a74b4" stroke-width="2.0" stroke-linecap="butt" stroke-linejoin="round" opacity="1.0"/>
<path d="M562.30,75.46 L563.32,74.50 L564.34,73.51 L565.37,72.50 L566.39,71.50 L567.41,70.50 L568.43,69.51 L569.45,68.56 L570.47,67.65 L571.50,66.78 L572.52,65.98 L573.54,65.24 L574.56,64.58 L575.58,64.00 L576.60,63.51 L577.62,63.12 L578.65,62.82 L579.67,62.63 L580.69,62.54 L581.71,62.56 L582.73,62.68 L583.75,62.91 L584.78,63.24 L585.80,63.66 L586.82,64.18 L587.84,64.79 L588.86,65.48 L589.88,66.24 L590.91,67.06 L591.93,67.95 L592.95,68.87 L593.97,69.84 L594.99,70.83 L596.01,71.83 L597.04,72.84 L598.06,73.84 L599.08,74.82 L600.10,75.77 L601.12,76.69 L602.14,77.55 L603.17,78.36 L604.19,79.09 L605.21,79.76 L606.23,80.33 L607.25,80.82 L608.27,81.22 L609.30,81.51 L610.32,81.70 L611.34,81.79 L612.36,81.77 L613.38,81.65 L614.40,81.42 L615.43,81.10 L616.45,80.67 L617.47,80.15 L618.49,79.54 L619.51,78.86 L620.53,78.10 L621.56,77.27 L622.58,76.39 L623.60,75.46" fill="none" stroke="#7fb0d5" stroke-opacity="0.22" stroke-width="4" stroke-linecap="butt" stroke-linejoin="round"/>
<path d="M562.30,75.46 L563.32,74.50 L564.34,73.51 L565.37,72.50 L566.39,71.50 L567.41,70.50 L568.43,69.51 L569.45,68.56 L570.47,67.65 L571.50,66.78 L572.52,65.98 L573.54,65.24 L574.56,64.58 L575.58,64.00 L576.60,63.51 L577.62,63.12 L578.65,62.82 L579.67,62.63 L580.69,62.54 L581.71,62.56 L582.73,62.68 L583.75,62.91 L584.78,63.24 L585.80,63.66 L586.82,64.18 L587.84,64.79 L588.86,65.48 L589.88,66.24 L590.91,67.06 L591.93,67.95 L592.95,68.87 L593.97,69.84 L594.99,70.83 L596.01,71.83 L597.04,72.84 L598.06,73.84 L599.08,74.82 L600.10,75.77 L601.12,76.69 L602.14,77.55 L603.17,78.36 L604.19,79.09 L605.21,79.76 L606.23,80.33 L607.25,80.82 L608.27,81.22 L609.30,81.51 L610.32,81.70 L611.34,81.79 L612.36,81.77 L613.38,81.65 L614.40,81.42 L615.43,81.10 L616.45,80.67 L617.47,80.15 L618.49,79.54 L619.51,78.86 L620.53,78.10 L621.56,77.27 L622.58,76.39 L623.60,75.46" fill="none" stroke="#7fb0d5" stroke-width="2.0" stroke-linecap="butt" stroke-linejoin="round" opacity="1.0"/>
<path d="M562.30,74.34 L563.32,73.37 L564.34,72.37 L565.37,71.37 L566.39,70.36 L567.41,69.36 L568.43,68.39 L569.45,67.45 L570.47,66.55 L571.50,65.70 L572.52,64.92 L573.54,64.21 L574.56,63.57 L575.58,63.03 L576.60,62.57 L577.62,62.21 L578.65,61.95 L579.67,61.79 L580.69,61.74 L581.71,61.79 L582.73,61.95 L583.75,62.21 L584.78,62.57 L585.80,63.03 L586.82,63.57 L587.84,64.21 L588.86,64.92 L589.88,65.70 L590.91,66.55 L591.93,67.45 L592.95,68.39 L593.97,69.36 L594.99,70.36 L596.01,71.37 L597.04,72.37 L598.06,73.37 L599.08,74.34 L600.10,75.28 L601.12,76.18 L602.14,77.03 L603.17,77.81 L604.19,78.52 L605.21,79.16 L606.23,79.70 L607.25,80.16 L608.27,80.52 L609.30,80.78 L610.32,80.94 L611.34,81.00 L612.36,80.94 L613.38,80.78 L614.40,80.52 L615.43,80.16 L616.45,79.70 L617.47,79.16 L618.49,78.52 L619.51,77.81 L620.53,77.03 L621.56,76.18 L622.58,75.28 L623.60,74.34" fill="none" stroke="#b7dceb" stroke-opacity="0.22" stroke-width="4" stroke-linecap="butt" stroke-linejoin="round"/>
<path d="M562.30,74.34 L563.32,73.37 L564.34,72.37 L565.37,71.37 L566.39,70.36 L567.41,69.36 L568.43,68.39 L569.45,67.45 L570.47,66.55 L571.50,65.70 L572.52,64.92 L573.54,64.21 L574.56,63.57 L575.58,63.03 L576.60,62.57 L577.62,62.21 L578.65,61.95 L579.67,61.79 L580.69,61.74 L581.71,61.79 L582.73,61.95 L583.75,62.21 L584.78,62.57 L585.80,63.03 L586.82,63.57 L587.84,64.21 L588.86,64.92 L589.88,65.70 L590.91,66.55 L591.93,67.45 L592.95,68.39 L593.97,69.36 L594.99,70.36 L596.01,71.37 L597.04,72.37 L598.06,73.37 L599.08,74.34 L600.10,75.28 L601.12,76.18 L602.14,77.03 L603.17,77.81 L604.19,78.52 L605.21,79.16 L606.23,79.70 L607.25,80.16 L608.27,80.52 L609.30,80.78 L610.32,80.94 L611.34,81.00 L612.36,80.94 L613.38,80.78 L614.40,80.52 L615.43,80.16 L616.45,79.70 L617.47,79.16 L618.49,78.52 L619.51,77.81 L620.53,77.03 L621.56,76.18 L622.58,75.28 L623.60,74.34" fill="none" stroke="#b7dceb" stroke-width="2.0" stroke-linecap="butt" stroke-linejoin="round" opacity="1.0"/>
<path d="M562.30,71.48 L563.32,70.39 L564.34,69.30 L565.37,68.22 L566.39,67.15 L567.41,66.12 L568.43,65.13 L569.45,64.19 L570.47,63.32 L571.50,62.52 L572.52,61.81 L573.54,61.18 L574.56,60.65 L575.58,60.22 L576.60,59.90 L577.62,59.70 L578.65,59.60 L579.67,59.62 L580.69,59.75 L581.71,60.00 L582.73,60.35 L583.75,60.82 L584.78,61.38 L585.80,62.04 L586.82,62.78 L587.84,63.60 L588.86,64.50 L589.88,65.45 L590.91,66.46 L591.93,67.50 L592.95,68.58 L593.97,69.66 L594.99,70.76 L596.01,71.84 L597.04,72.90 L598.06,73.94 L599.08,74.93 L600.10,75.86 L601.12,76.73 L602.14,77.53 L603.17,78.25 L604.19,78.87 L605.21,79.40 L606.23,79.83 L607.25,80.15 L608.27,80.36 L609.30,80.45 L610.32,80.43 L611.34,80.30 L612.36,80.06 L613.38,79.70 L614.40,79.24 L615.43,78.68 L616.45,78.02 L617.47,77.27 L618.49,76.45 L619.51,75.56 L620.53,74.60 L621.56,73.60 L622.58,72.55 L623.60,71.48" fill="none" stroke="#fdd38a" stroke-opacity="0.22" stroke-width="4" stroke-linecap="butt" stroke-linejoin="round"/>
<path d="M562.30,71.48 L563.32,70.39 L564.34,69.30 L565.37,68.22 L566.39,67.15 L567.41,66.12 L568.43,65.13 L569.45,64.19 L570.47,63.32 L571.50,62.52 L572.52,61.81 L573.54,61.18 L574.56,60.65 L575.58,60.22 L576.60,59.90 L577.62,59.70 L578.65,59.60 L579.67,59.62 L580.69,59.75 L581.71,60.00 L582.73,60.35 L583.75,60.82 L584.78,61.38 L585.80,62.04 L586.82,62.78 L587.84,63.60 L588.86,64.50 L589.88,65.45 L590.91,66.46 L591.93,67.50 L592.95,68.58 L593.97,69.66 L594.99,70.76 L596.01,71.84 L597.04,72.90 L598.06,73.94 L599.08,74.93 L600.10,75.86 L601.12,76.73 L602.14,77.53 L603.17,78.25 L604.19,78.87 L605.21,79.40 L606.23,79.83 L607.25,80.15 L608.27,80.36 L609.30,80.45 L610.32,80.43 L611.34,80.30 L612.36,80.06 L613.38,79.70 L614.40,79.24 L615.43,78.68 L616.45,78.02 L617.47,77.27 L618.49,76.45 L619.51,75.56 L620.53,74.60 L621.56,73.60 L622.58,72.55 L623.60,71.48" fill="none" stroke="#fdd38a" stroke-width="2.0" stroke-linecap="butt" stroke-linejoin="round" opacity="1.0"/>
<path d="M562.30,69.49 L563.32,68.43 L564.34,67.38 L565.37,66.35 L566.39,65.36 L567.41,64.41 L568.43,63.52 L569.45,62.69 L570.47,61.94 L571.50,61.27 L572.52,60.69 L573.54,60.21 L574.56,59.83 L575.58,59.55 L576.60,59.38 L577.62,59.33 L578.65,59.38 L579.67,59.55 L580.69,59.83 L581.71,60.21 L582.73,60.69 L583.75,61.27 L584.78,61.94 L585.80,62.69 L586.82,63.52 L587.84,64.41 L588.86,65.36 L589.88,66.35 L590.91,67.38 L591.93,68.43 L592.95,69.49 L593.97,70.56 L594.99,71.61 L596.01,72.63 L597.04,73.63 L598.06,74.58 L599.08,75.47 L600.10,76.29 L601.12,77.05 L602.14,77.72 L603.17,78.30 L604.19,78.78 L605.21,79.16 L606.23,79.44 L607.25,79.60 L608.27,79.66 L609.30,79.60 L610.32,79.44 L611.34,79.16 L612.36,78.78 L613.38,78.30 L614.40,77.72 L615.43,77.05 L616.45,76.29 L617.47,75.47 L618.49,74.58 L619.51,73.63 L620.53,72.63 L621.56,71.61 L622.58,70.56 L623.60,69.49" fill="none" stroke="#f68d52" stroke-opacity="0.22" stroke-width="4" stroke-linecap="butt" stroke-linejoin="round"/>
<path d="M562.30,69.49 L563.32,68.43 L564.34,67.38 L565.37,66.35 L566.39,65.36 L567.41,64.41 L568.43,63.52 L569.45,62.69 L570.47,61.94 L571.50,61.27 L572.52,60.69 L573.54,60.21 L574.56,59.83 L575.58,59.55 L576.60,59.38 L577.62,59.33 L578.65,59.38 L579.67,59.55 L580.69,59.83 L581.71,60.21 L582.73,60.69 L583.75,61.27 L584.78,61.94 L585.80,62.69 L586.82,63.52 L587.84,64.41 L588.86,65.36 L589.88,66.35 L590.91,67.38 L591.93,68.43 L592.95,69.49 L593.97,70.56 L594.99,71.61 L596.01,72.63 L597.04,73.63 L598.06,74.58 L599.08,75.47 L600.10,76.29 L601.12,77.05 L602.14,77.72 L603.17,78.30 L604.19,78.78 L605.21,79.16 L606.23,79.44 L607.25,79.60 L608.27,79.66 L609.30,79.60 L610.32,79.44 L611.34,79.16 L612.36,78.78 L613.38,78.30 L614.40,77.72 L615.43,77.05 L616.45,76.29 L617.47,75.47 L618.49,74.58 L619.51,73.63 L620.53,72.63 L621.56,71.61 L622.58,70.56 L623.60,69.49" fill="none" stroke="#f68d52" stroke-width="2.0" stroke-linecap="butt" stroke-linejoin="round" opacity="1.0"/>
<path d="M562.30,72.44 L563.32,72.43 L564.34,72.42 L565.37,72.41 L566.39,72.39 L567.41,72.36 L568.43,72.33 L569.45,72.30 L570.47,72.26 L571.50,72.21 L572.52,72.17 L573.54,72.12 L574.56,72.07 L575.58,72.01 L576.60,71.96 L577.62,71.90 L578.65,71.84 L579.67,71.79 L580.69,71.73 L581.71,71.68 L582.73,71.63 L583.75,71.59 L584.78,71.54 L585.80,71.50 L586.82,71.47 L587.84,71.44 L588.86,71.41 L589.88,71.39 L590.91,71.38 L591.93,71.37 L592.95,71.37 L593.97,71.37 L594.99,71.38 L596.01,71.39 L597.04,71.41 L598.06,71.44 L599.08,71.47 L600.10,71.50 L601.12,71.54 L602.14,71.59 L603.17,71.63 L604.19,71.68 L605.21,71.73 L606.23,71.79 L607.25,71.84 L608.27,71.90 L609.30,71.96 L610.32,72.01 L611.34,72.07 L612.36,72.12 L613.38,72.17 L614.40,72.21 L615.43,72.26 L616.45,72.30 L617.47,72.33 L618.49,72.36 L619.51,72.39 L620.53,72.41 L621.56,72.42 L622.58,72.43 L623.60,72.44" fill="none" stroke="#a50d2a" stroke-width="3.4" stroke-linecap="butt" stroke-linejoin="round" opacity="1.0"/>
<path d="M581.37 55.32 V63.34 M579.77 55.32 H582.97 M579.77 63.34 H582.97" stroke="#222" stroke-width="0.7" fill="none"/>
<path d="M579.37 55.32 L583.37 55.32 L581.37 58.92 Z" fill="#f68d52" stroke="#222" stroke-width="0.7"/>
<path d="M579.37 56.93 L583.37 56.93 L581.37 60.53 Z" fill="#fdd38a" stroke="#222" stroke-width="0.7"/>
<path d="M579.37 58.00 L583.37 58.00 L581.37 61.60 Z" fill="#4a74b4" stroke="#222" stroke-width="0.7"/>
<path d="M579.37 60.14 L583.37 60.14 L581.37 63.74 Z" fill="#7fb0d5" stroke="#222" stroke-width="0.7"/>
<rect x="637.30" y="101.54" width="6.80" height="4.46" fill="#232a6b"/>
<rect x="637.30" y="97.29" width="6.80" height="4.46" fill="#2d3f8c"/>
<rect x="637.30" y="93.03" width="6.80" height="4.46" fill="#3b5fa8"/>
<rect x="637.30" y="88.78" width="6.80" height="4.46" fill="#4f81bd"/>
<rect x="637.30" y="84.52" width="6.80" height="4.46" fill="#6a9fcc"/>
<rect x="637.30" y="80.26" width="6.80" height="4.46" fill="#86b9d9"/>
<rect x="637.30" y="76.01" width="6.80" height="4.46" fill="#a5cfe3"/>
<rect x="637.30" y="71.75" width="6.80" height="4.46" fill="#c6e2ee"/>
<rect x="637.30" y="67.49" width="6.80" height="4.46" fill="#fcd38a"/>
<rect x="637.30" y="63.24" width="6.80" height="4.46" fill="#fbb86b"/>
<rect x="637.30" y="58.98" width="6.80" height="4.46" fill="#f99c5b"/>
<rect x="637.30" y="54.73" width="6.80" height="4.46" fill="#f57d4a"/>
<rect x="637.30" y="50.47" width="6.80" height="4.46" fill="#eb5a3a"/>
<rect x="637.30" y="46.21" width="6.80" height="4.46" fill="#dc3b2c"/>
<rect x="637.30" y="41.96" width="6.80" height="4.46" fill="#c72a2a"/>
<rect x="637.30" y="37.70" width="6.80" height="4.46" fill="#a01c2c"/>
<rect x="637.30" y="37.70" width="6.80" height="68.10" fill="none" stroke="#5a5a5a" stroke-width="0.8"/>
<text x="646.60" y="105.24" font-size="10.5" text-anchor="start" font-weight="normal" fill="#262626">0</text>
<text x="646.60" y="96.73" font-size="10.5" text-anchor="start" font-weight="normal" fill="#262626">14</text>
<text x="646.60" y="88.22" font-size="10.5" text-anchor="start" font-weight="normal" fill="#262626">31</text>
<text x="646.60" y="79.71" font-size="10.5" text-anchor="start" font-weight="normal" fill="#262626">44</text>
<text x="646.60" y="71.19" font-size="10.5" text-anchor="start" font-weight="normal" fill="#262626">57</text>
<text x="646.60" y="62.68" font-size="10.5" text-anchor="start" font-weight="normal" fill="#262626">93</text>
<text x="646.60" y="54.17" font-size="10.5" text-anchor="start" font-weight="normal" fill="#262626">112</text>
<text x="646.60" y="45.66" font-size="10.5" text-anchor="start" font-weight="normal" fill="#262626">142</text>
<text x="675.60" y="72.00" font-size="10.5" text-anchor="middle" font-weight="normal" fill="#262626" transform="rotate(-90 675.60 72.00)">Days</text>
<text x="439.20" y="70.40" font-size="12.6" text-anchor="middle" font-weight="normal" fill="#262626" transform="rotate(-90 439.20 70.40)">z-scored FR (Hz)</text>
<line x1="457.20" y1="329.00" x2="457.20" y2="396.80" stroke="#5a5a5a" stroke-width="1.2"/>
<line x1="457.20" y1="396.80" x2="525.70" y2="396.80" stroke="#5a5a5a" stroke-width="1.2"/>
<line x1="457.20" y1="336.80" x2="458.70" y2="336.80" stroke="#5a5a5a" stroke-width="0.8"/>
<text x="453.60" y="341.10" font-size="11.6" text-anchor="end" font-weight="normal" fill="#262626">1</text>
<line x1="457.20" y1="363.40" x2="458.70" y2="363.40" stroke="#5a5a5a" stroke-width="0.8"/>
<text x="453.60" y="367.70" font-size="11.6" text-anchor="end" font-weight="normal" fill="#262626">0</text>
<line x1="457.20" y1="390.00" x2="458.70" y2="390.00" stroke="#5a5a5a" stroke-width="0.8"/>
<text x="453.60" y="394.30" font-size="11.6" text-anchor="end" font-weight="normal" fill="#262626">-1</text>
<line x1="460.50" y1="396.80" x2="460.50" y2="395.30" stroke="#5a5a5a" stroke-width="0.8"/>
<line x1="491.15" y1="396.80" x2="491.15" y2="395.30" stroke="#5a5a5a" stroke-width="0.8"/>
<line x1="521.80" y1="396.80" x2="521.80" y2="395.30" stroke="#5a5a5a" stroke-width="0.8"/>
<text x="491.20" y="323.80" font-size="12.4" text-anchor="middle" font-weight="normal" fill="#262626">Feat 8</text>
<text x="491.60" y="426.80" font-size="12.4" text-anchor="middle" font-weight="normal" fill="#262626">Direction</text>
<text x="461.30" y="412.30" font-size="11.6" text-anchor="middle" fill="#262626">-180<tspan font-size="10.5" dx="1.4" dy="-0.8">°</tspan></text>
<text x="491.95" y="412.30" font-size="11.6" text-anchor="middle" fill="#262626">0<tspan font-size="10.5" dx="1.4" dy="-0.8">°</tspan></text>
<text x="522.60" y="412.30" font-size="11.6" text-anchor="middle" fill="#262626">180<tspan font-size="10.5" dx="1.4" dy="-0.8">°</tspan></text>
<path d="M460.50,347.55 L461.52,348.11 L462.54,348.84 L463.56,349.73 L464.59,350.77 L465.61,351.94 L466.63,353.25 L467.65,354.66 L468.67,356.17 L469.69,357.76 L470.72,359.41 L471.74,361.10 L472.76,362.82 L473.78,364.55 L474.80,366.26 L475.82,367.95 L476.85,369.58 L477.87,371.14 L478.89,372.62 L479.91,374.00 L480.93,375.26 L481.95,376.40 L482.98,377.39 L484.00,378.22 L485.02,378.90 L486.04,379.40 L487.06,379.73 L488.08,379.88 L489.11,379.85 L490.13,379.64 L491.15,379.25 L492.17,378.69 L493.19,377.96 L494.21,377.07 L495.24,376.03 L496.26,374.86 L497.28,373.55 L498.30,372.14 L499.32,370.63 L500.34,369.04 L501.37,367.39 L502.39,365.70 L503.41,363.98 L504.43,362.25 L505.45,360.54 L506.47,358.85 L507.50,357.22 L508.52,355.66 L509.54,354.18 L510.56,352.80 L511.58,351.54 L512.61,350.40 L513.63,349.41 L514.65,348.58 L515.67,347.90 L516.69,347.40 L517.71,347.07 L518.73,346.92 L519.76,346.95 L520.78,347.16 L521.80,347.55" fill="none" stroke="#1d3a6c" stroke-width="1.8" stroke-linecap="butt" stroke-linejoin="round" opacity="1.0"/>
<path d="M460.50,336.27 L461.52,336.38 L462.54,336.73 L463.56,337.31 L464.59,338.11 L465.61,339.12 L466.63,340.33 L467.65,341.73 L468.67,343.31 L469.69,345.04 L470.72,346.91 L471.74,348.89 L472.76,350.97 L473.78,353.12 L474.80,355.32 L475.82,357.55 L476.85,359.77 L477.87,361.97 L478.89,364.12 L479.91,366.20 L480.93,368.19 L481.95,370.06 L482.98,371.79 L484.00,373.36 L485.02,374.76 L486.04,375.98 L487.06,376.99 L488.08,377.79 L489.11,378.36 L490.13,378.71 L491.15,378.83 L492.17,378.71 L493.19,378.36 L494.21,377.79 L495.24,376.99 L496.26,375.98 L497.28,374.76 L498.30,373.36 L499.32,371.79 L500.34,370.06 L501.37,368.19 L502.39,366.20 L503.41,364.12 L504.43,361.97 L505.45,359.77 L506.47,357.55 L507.50,355.32 L508.52,353.12 L509.54,350.97 L510.56,348.89 L511.58,346.91 L512.61,345.04 L513.63,343.31 L514.65,341.73 L515.67,340.33 L516.69,339.12 L517.71,338.11 L518.73,337.31 L519.76,336.73 L520.78,336.38 L521.80,336.27" fill="none" stroke="#3b70bf" stroke-width="1.8" stroke-linecap="butt" stroke-linejoin="round" opacity="1.0"/>
<path d="M460.50,345.11 L461.52,345.05 L462.54,345.17 L463.56,345.48 L464.59,345.97 L465.61,346.64 L466.63,347.48 L467.65,348.47 L468.67,349.62 L469.69,350.90 L470.72,352.31 L471.74,353.82 L472.76,355.42 L473.78,357.09 L474.80,358.82 L475.82,360.59 L476.85,362.37 L477.87,364.14 L478.89,365.90 L479.91,367.61 L480.93,369.26 L481.95,370.84 L482.98,372.32 L484.00,373.68 L485.02,374.92 L486.04,376.02 L487.06,376.96 L488.08,377.74 L489.11,378.35 L490.13,378.78 L491.15,379.03 L492.17,379.09 L493.19,378.97 L494.21,378.66 L495.24,378.17 L496.26,377.50 L497.28,376.66 L498.30,375.67 L499.32,374.52 L500.34,373.24 L501.37,371.83 L502.39,370.32 L503.41,368.72 L504.43,367.05 L505.45,365.32 L506.47,363.55 L507.50,361.77 L508.52,360.00 L509.54,358.24 L510.56,356.53 L511.58,354.88 L512.61,353.30 L513.63,351.82 L514.65,350.46 L515.67,349.22 L516.69,348.12 L517.71,347.18 L518.73,346.40 L519.76,345.79 L520.78,345.36 L521.80,345.11" fill="none" stroke="#6aaed6" stroke-width="1.8" stroke-linecap="butt" stroke-linejoin="round" opacity="1.0"/>
<path d="M460.50,359.94 L461.52,359.39 L462.54,358.84 L463.56,358.30 L464.59,357.78 L465.61,357.28 L466.63,356.81 L467.65,356.38 L468.67,355.99 L469.69,355.64 L470.72,355.33 L471.74,355.08 L472.76,354.88 L473.78,354.74 L474.80,354.65 L475.82,354.62 L476.85,354.65 L477.87,354.74 L478.89,354.88 L479.91,355.08 L480.93,355.33 L481.95,355.64 L482.98,355.99 L484.00,356.38 L485.02,356.81 L486.04,357.28 L487.06,357.78 L488.08,358.30 L489.11,358.84 L490.13,359.39 L491.15,359.94 L492.17,360.50 L493.19,361.05 L494.21,361.59 L495.24,362.11 L496.26,362.60 L497.28,363.07 L498.30,363.50 L499.32,363.90 L500.34,364.25 L501.37,364.55 L502.39,364.80 L503.41,365.00 L504.43,365.15 L505.45,365.23 L506.47,365.26 L507.50,365.23 L508.52,365.15 L509.54,365.00 L510.56,364.80 L511.58,364.55 L512.61,364.25 L513.63,363.90 L514.65,363.50 L515.67,363.07 L516.69,362.60 L517.71,362.11 L518.73,361.59 L519.76,361.05 L520.78,360.50 L521.80,359.94" fill="none" stroke="#a9d7e8" stroke-width="1.8" stroke-linecap="butt" stroke-linejoin="round" opacity="1.0"/>
<path d="M460.50,360.47 L461.52,359.74 L462.54,358.99 L463.56,358.24 L464.59,357.49 L465.61,356.75 L466.63,356.04 L467.65,355.35 L468.67,354.70 L469.69,354.09 L470.72,353.53 L471.74,353.03 L472.76,352.59 L473.78,352.21 L474.80,351.91 L475.82,351.67 L476.85,351.52 L477.87,351.44 L478.89,351.44 L479.91,351.52 L480.93,351.67 L481.95,351.91 L482.98,352.21 L484.00,352.59 L485.02,353.03 L486.04,353.53 L487.06,354.09 L488.08,354.70 L489.11,355.35 L490.13,356.04 L491.15,356.75 L492.17,357.49 L493.19,358.24 L494.21,358.99 L495.24,359.74 L496.26,360.47 L497.28,361.19 L498.30,361.87 L499.32,362.52 L500.34,363.13 L501.37,363.69 L502.39,364.19 L503.41,364.64 L504.43,365.01 L505.45,365.32 L506.47,365.55 L507.50,365.71 L508.52,365.78 L509.54,365.78 L510.56,365.71 L511.58,365.55 L512.61,365.32 L513.63,365.01 L514.65,364.64 L515.67,364.19 L516.69,363.69 L517.71,363.13 L518.73,362.52 L519.76,361.87 L520.78,361.19 L521.80,360.47" fill="none" stroke="#f26d4a" stroke-width="1.8" stroke-linecap="butt" stroke-linejoin="round" opacity="1.0"/>
<path d="M460.50,356.75 L461.52,356.80 L462.54,356.93 L463.56,357.15 L464.59,357.46 L465.61,357.85 L466.63,358.32 L467.65,358.87 L468.67,359.48 L469.69,360.15 L470.72,360.87 L471.74,361.64 L472.76,362.45 L473.78,363.28 L474.80,364.13 L475.82,365.00 L476.85,365.86 L477.87,366.71 L478.89,367.54 L479.91,368.35 L480.93,369.12 L481.95,369.84 L482.98,370.51 L484.00,371.12 L485.02,371.67 L486.04,372.14 L487.06,372.53 L488.08,372.84 L489.11,373.06 L490.13,373.20 L491.15,373.24 L492.17,373.20 L493.19,373.06 L494.21,372.84 L495.24,372.53 L496.26,372.14 L497.28,371.67 L498.30,371.12 L499.32,370.51 L500.34,369.84 L501.37,369.12 L502.39,368.35 L503.41,367.54 L504.43,366.71 L505.45,365.86 L506.47,365.00 L507.50,364.13 L508.52,363.28 L509.54,362.45 L510.56,361.64 L511.58,360.87 L512.61,360.15 L513.63,359.48 L514.65,358.87 L515.67,358.32 L516.69,357.85 L517.71,357.46 L518.73,357.15 L519.76,356.93 L520.78,356.80 L521.80,356.75" fill="none" stroke="#d7302a" stroke-width="1.8" stroke-linecap="butt" stroke-linejoin="round" opacity="1.0"/>
<path d="M517.69 343.86 L521.49 343.86 L519.59 347.28 Z" fill="#1d3a6c" stroke="#222" stroke-width="0.7"/>
<path d="M458.60 333.75 L462.40 333.75 L460.50 337.17 Z" fill="#3b70bf" stroke="#222" stroke-width="0.7"/>
<path d="M459.79 342.26 L463.59 342.26 L461.69 345.68 Z" fill="#6aaed6" stroke="#222" stroke-width="0.7"/>
<path d="M475.29 352.37 L479.09 352.37 L477.19 355.79 Z" fill="#a9d7e8" stroke="#222" stroke-width="0.7"/>
<path d="M476.99 348.91 L480.79 348.91 L478.89 352.33 Z" fill="#f26d4a" stroke="#222" stroke-width="0.7"/>
<path d="M519.90 353.96 L523.70 353.96 L521.80 357.38 Z" fill="#d7302a" stroke="#222" stroke-width="0.7"/>
<line x1="557.60" y1="328.60" x2="557.60" y2="396.80" stroke="#5a5a5a" stroke-width="1.2"/>
<line x1="557.60" y1="396.80" x2="625.90" y2="396.80" stroke="#5a5a5a" stroke-width="1.2"/>
<line x1="557.60" y1="336.70" x2="559.10" y2="336.70" stroke="#5a5a5a" stroke-width="0.8"/>
<text x="553.80" y="341.00" font-size="11.6" text-anchor="end" font-weight="normal" fill="#262626">1</text>
<line x1="557.60" y1="363.50" x2="559.10" y2="363.50" stroke="#5a5a5a" stroke-width="0.8"/>
<text x="553.80" y="367.80" font-size="11.6" text-anchor="end" font-weight="normal" fill="#262626">0</text>
<line x1="557.60" y1="390.30" x2="559.10" y2="390.30" stroke="#5a5a5a" stroke-width="0.8"/>
<text x="553.80" y="394.60" font-size="11.6" text-anchor="end" font-weight="normal" fill="#262626">-1</text>
<line x1="561.10" y1="396.80" x2="561.10" y2="395.30" stroke="#5a5a5a" stroke-width="0.8"/>
<line x1="591.75" y1="396.80" x2="591.75" y2="395.30" stroke="#5a5a5a" stroke-width="0.8"/>
<line x1="622.40" y1="396.80" x2="622.40" y2="395.30" stroke="#5a5a5a" stroke-width="0.8"/>
<text x="591.50" y="323.80" font-size="12.4" text-anchor="middle" font-weight="normal" fill="#262626">Feat 62</text>
<text x="591.80" y="426.80" font-size="12.4" text-anchor="middle" font-weight="normal" fill="#262626">Direction</text>
<text x="561.90" y="412.30" font-size="11.6" text-anchor="middle" fill="#262626">-180<tspan font-size="10.5" dx="1.4" dy="-0.8">°</tspan></text>
<text x="592.55" y="412.30" font-size="11.6" text-anchor="middle" fill="#262626">0<tspan font-size="10.5" dx="1.4" dy="-0.8">°</tspan></text>
<text x="623.20" y="412.30" font-size="11.6" text-anchor="middle" fill="#262626">180<tspan font-size="10.5" dx="1.4" dy="-0.8">°</tspan></text>
<path d="M561.10,368.11 L562.12,368.77 L563.14,369.38 L564.16,369.92 L565.19,370.39 L566.21,370.79 L567.23,371.10 L568.25,371.33 L569.27,371.48 L570.30,371.54 L571.32,371.51 L572.34,371.39 L573.36,371.19 L574.38,370.90 L575.40,370.53 L576.42,370.09 L577.45,369.57 L578.47,368.98 L579.49,368.34 L580.51,367.64 L581.53,366.90 L582.56,366.12 L583.58,365.31 L584.60,364.48 L585.62,363.64 L586.64,362.80 L587.66,361.97 L588.68,361.15 L589.71,360.36 L590.73,359.60 L591.75,358.89 L592.77,358.23 L593.79,357.62 L594.82,357.08 L595.84,356.61 L596.86,356.21 L597.88,355.90 L598.90,355.67 L599.92,355.52 L600.94,355.46 L601.97,355.49 L602.99,355.61 L604.01,355.81 L605.03,356.10 L606.05,356.47 L607.08,356.91 L608.10,357.43 L609.12,358.02 L610.14,358.66 L611.16,359.36 L612.18,360.10 L613.20,360.88 L614.23,361.69 L615.25,362.52 L616.27,363.36 L617.29,364.20 L618.31,365.03 L619.34,365.85 L620.36,366.64 L621.38,367.40 L622.40,368.11" fill="none" stroke="#1d3a6c" stroke-width="1.8" stroke-linecap="butt" stroke-linejoin="round" opacity="1.0"/>
<path d="M561.10,366.68 L562.12,367.84 L563.14,368.94 L564.16,369.95 L565.19,370.86 L566.21,371.67 L567.23,372.37 L568.25,372.95 L569.27,373.40 L570.30,373.72 L571.32,373.90 L572.34,373.95 L573.36,373.86 L574.38,373.63 L575.40,373.27 L576.42,372.77 L577.45,372.15 L578.47,371.42 L579.49,370.57 L580.51,369.62 L581.53,368.58 L582.56,367.46 L583.58,366.28 L584.60,365.04 L585.62,363.76 L586.64,362.45 L587.66,361.14 L588.68,359.82 L589.71,358.52 L590.73,357.26 L591.75,356.03 L592.77,354.87 L593.79,353.78 L594.82,352.77 L595.84,351.85 L596.86,351.04 L597.88,350.34 L598.90,349.76 L599.92,349.31 L600.94,348.99 L601.97,348.81 L602.99,348.76 L604.01,348.85 L605.03,349.08 L606.05,349.45 L607.08,349.94 L608.10,350.56 L609.12,351.30 L610.14,352.14 L611.16,353.09 L612.18,354.13 L613.20,355.25 L614.23,356.43 L615.25,357.67 L616.27,358.95 L617.29,360.26 L618.31,361.58 L619.34,362.89 L620.36,364.19 L621.38,365.46 L622.40,366.68" fill="none" stroke="#3b70bf" stroke-width="1.8" stroke-linecap="butt" stroke-linejoin="round" opacity="1.0"/>
<path d="M561.10,367.71 L562.12,368.72 L563.14,369.66 L564.16,370.52 L565.19,371.30 L566.21,371.97 L567.23,372.54 L568.25,373.01 L569.27,373.35 L570.30,373.57 L571.32,373.68 L572.34,373.66 L573.36,373.51 L574.38,373.25 L575.40,372.86 L576.42,372.37 L577.45,371.76 L578.47,371.05 L579.49,370.25 L580.51,369.36 L581.53,368.39 L582.56,367.36 L583.58,366.28 L584.60,365.15 L585.62,363.99 L586.64,362.82 L587.66,361.64 L588.68,360.47 L589.71,359.33 L590.73,358.21 L591.75,357.14 L592.77,356.13 L593.79,355.19 L594.82,354.33 L595.84,353.56 L596.86,352.88 L597.88,352.31 L598.90,351.85 L599.92,351.51 L600.94,351.28 L601.97,351.18 L602.99,351.20 L604.01,351.34 L605.03,351.61 L606.05,351.99 L607.08,352.49 L608.10,353.10 L609.12,353.81 L610.14,354.61 L611.16,355.50 L612.18,356.46 L613.20,357.49 L614.23,358.58 L615.25,359.70 L616.27,360.86 L617.29,362.04 L618.31,363.21 L619.34,364.38 L620.36,365.53 L621.38,366.64 L622.40,367.71" fill="none" stroke="#6aaed6" stroke-width="1.8" stroke-linecap="butt" stroke-linejoin="round" opacity="1.0"/>
<path d="M561.10,366.88 L562.12,367.37 L563.14,367.81 L564.16,368.21 L565.19,368.55 L566.21,368.84 L567.23,369.07 L568.25,369.24 L569.27,369.35 L570.30,369.40 L571.32,369.37 L572.34,369.29 L573.36,369.14 L574.38,368.93 L575.40,368.66 L576.42,368.33 L577.45,367.95 L578.47,367.52 L579.49,367.05 L580.51,366.54 L581.53,365.99 L582.56,365.42 L583.58,364.83 L584.60,364.22 L585.62,363.60 L586.64,362.99 L587.66,362.37 L588.68,361.78 L589.71,361.20 L590.73,360.64 L591.75,360.12 L592.77,359.63 L593.79,359.19 L594.82,358.79 L595.84,358.45 L596.86,358.16 L597.88,357.93 L598.90,357.76 L599.92,357.65 L600.94,357.60 L601.97,357.63 L602.99,357.71 L604.01,357.86 L605.03,358.07 L606.05,358.34 L607.08,358.67 L608.10,359.05 L609.12,359.48 L610.14,359.95 L611.16,360.46 L612.18,361.01 L613.20,361.58 L614.23,362.17 L615.25,362.78 L616.27,363.40 L617.29,364.01 L618.31,364.63 L619.34,365.22 L620.36,365.80 L621.38,366.36 L622.40,366.88" fill="none" stroke="#a9d7e8" stroke-width="1.8" stroke-linecap="butt" stroke-linejoin="round" opacity="1.0"/>
<path d="M561.10,367.03 L562.12,367.14 L563.14,367.22 L564.16,367.25 L565.19,367.24 L566.21,367.19 L567.23,367.11 L568.25,366.98 L569.27,366.81 L570.30,366.61 L571.32,366.37 L572.34,366.11 L573.36,365.81 L574.38,365.49 L575.40,365.14 L576.42,364.78 L577.45,364.41 L578.47,364.02 L579.49,363.63 L580.51,363.24 L581.53,362.85 L582.56,362.47 L583.58,362.09 L584.60,361.74 L585.62,361.40 L586.64,361.09 L587.66,360.80 L588.68,360.54 L589.71,360.32 L590.73,360.13 L591.75,359.97 L592.77,359.86 L593.79,359.78 L594.82,359.75 L595.84,359.76 L596.86,359.81 L597.88,359.89 L598.90,360.02 L599.92,360.19 L600.94,360.39 L601.97,360.63 L602.99,360.89 L604.01,361.19 L605.03,361.51 L606.05,361.86 L607.08,362.22 L608.10,362.59 L609.12,362.98 L610.14,363.37 L611.16,363.76 L612.18,364.15 L613.20,364.53 L614.23,364.91 L615.25,365.26 L616.27,365.60 L617.29,365.91 L618.31,366.20 L619.34,366.46 L620.36,366.68 L621.38,366.87 L622.40,367.03" fill="none" stroke="#f26d4a" stroke-width="1.8" stroke-linecap="butt" stroke-linejoin="round" opacity="1.0"/>
<path d="M561.10,372.70 L562.12,373.41 L563.14,374.00 L564.16,374.46 L565.19,374.79 L566.21,374.98 L567.23,375.02 L568.25,374.93 L569.27,374.69 L570.30,374.32 L571.32,373.82 L572.34,373.19 L573.36,372.43 L574.38,371.57 L575.40,370.60 L576.42,369.54 L577.45,368.40 L578.47,367.19 L579.49,365.92 L580.51,364.61 L581.53,363.28 L582.56,361.94 L583.58,360.59 L584.60,359.27 L585.62,357.97 L586.64,356.72 L587.66,355.53 L588.68,354.42 L589.71,353.39 L590.73,352.45 L591.75,351.62 L592.77,350.91 L593.79,350.32 L594.82,349.86 L595.84,349.53 L596.86,349.34 L597.88,349.30 L598.90,349.39 L599.92,349.63 L600.94,350.00 L601.97,350.50 L602.99,351.13 L604.01,351.89 L605.03,352.75 L606.05,353.72 L607.08,354.78 L608.10,355.92 L609.12,357.13 L610.14,358.40 L611.16,359.71 L612.18,361.04 L613.20,362.38 L614.23,363.73 L615.25,365.05 L616.27,366.35 L617.29,367.60 L618.31,368.79 L619.34,369.90 L620.36,370.93 L621.38,371.87 L622.40,372.70" fill="none" stroke="#d7302a" stroke-width="1.8" stroke-linecap="butt" stroke-linejoin="round" opacity="1.0"/>
<path d="M599.22 352.94 L603.02 352.94 L601.12 356.36 Z" fill="#1d3a6c" stroke="#222" stroke-width="0.7"/>
<path d="M601.77 346.24 L605.57 346.24 L603.67 349.66 Z" fill="#3b70bf" stroke="#222" stroke-width="0.7"/>
<path d="M595.30 346.78 L599.10 346.78 L597.20 350.20 Z" fill="#d7302a" stroke="#222" stroke-width="0.7"/>
<path d="M593.26 357.23 L597.06 357.23 L595.16 360.65 Z" fill="#f26d4a" stroke="#222" stroke-width="0.7"/>
<rect x="642.50" y="384.90" width="7.10" height="11.50" fill="#1d3a6c"/>
<rect x="642.50" y="373.60" width="7.10" height="11.50" fill="#3b70bf"/>
<rect x="642.50" y="362.30" width="7.10" height="11.50" fill="#6aaed6"/>
<rect x="642.50" y="351.00" width="7.10" height="11.50" fill="#a9d7e8"/>
<rect x="642.50" y="339.70" width="7.10" height="11.50" fill="#f26d4a"/>
<rect x="642.50" y="328.40" width="7.10" height="11.50" fill="#d7302a"/>
<rect x="642.50" y="328.40" width="7.10" height="67.80" fill="none" stroke="#5a5a5a" stroke-width="0.8"/>
<text x="652.00" y="394.25" font-size="10.5" text-anchor="start" font-weight="normal" fill="#262626">0</text>
<text x="652.00" y="382.95" font-size="10.5" text-anchor="start" font-weight="normal" fill="#262626">5</text>
<text x="652.00" y="371.65" font-size="10.5" text-anchor="start" font-weight="normal" fill="#262626">7</text>
<text x="652.00" y="360.35" font-size="10.5" text-anchor="start" font-weight="normal" fill="#262626">12</text>
<text x="652.00" y="349.05" font-size="10.5" text-anchor="start" font-weight="normal" fill="#262626">14</text>
<text x="652.00" y="337.75" font-size="10.5" text-anchor="start" font-weight="normal" fill="#262626">28</text>
<text x="676.00" y="362.30" font-size="10.5" text-anchor="middle" font-weight="normal" fill="#262626" transform="rotate(-90 676.00 362.30)">Days</text>
<text x="439.20" y="361.40" font-size="12.6" text-anchor="middle" font-weight="normal" fill="#262626" transform="rotate(-90 439.20 361.40)">z-scored FR (Hz)</text>
<defs><clipPath id="gmc"><rect x="448.50" y="173.40" width="68.10" height="67.60"/></clipPath><filter id="gmf" x="-10%" y="-10%" width="120%" height="120%"><feGaussianBlur stdDeviation="0.9"/></filter></defs>
<g clip-path="url(#gmc)"><g filter="url(#gmf)">
<path fill="#f5ea18" d="M446.5 171.41h4.41v2.39h-4.41zM446.5 173.4h4.41v2.39h-4.41zM450.5 175.39h2.4v2.39h-2.4zM452.51 177.38h2.4v2.39h-2.4zM454.51 179.36h2.4v2.39h-2.4zM456.51 181.35h2.4v2.39h-2.4zM458.51 183.34h2.4v2.39h-2.4zM460.52 185.33h2.4v2.39h-2.4zM462.52 187.32h2.4v2.39h-2.4zM464.52 189.31h2.4v2.39h-2.4zM466.53 191.29h2.4v2.39h-2.4zM468.53 193.28h2.4v2.39h-2.4zM470.53 195.27h2.4v2.39h-2.4zM472.54 197.26h2.4v2.39h-2.4zM474.54 199.25h2.4v2.39h-2.4zM476.54 201.24h2.4v2.39h-2.4zM478.54 203.22h2.4v2.39h-2.4zM480.55 205.21h2.4v2.39h-2.4zM482.55 207.2h2.4v2.39h-2.4zM484.55 209.19h2.4v2.39h-2.4zM486.56 211.18h2.4v2.39h-2.4zM488.56 213.16h2.4v2.39h-2.4zM490.56 215.15h2.4v2.39h-2.4zM492.56 217.14h2.4v2.39h-2.4zM494.57 219.13h2.4v2.39h-2.4zM496.57 221.12h2.4v2.39h-2.4zM498.57 223.11h2.4v2.39h-2.4zM500.58 225.09h2.4v2.39h-2.4zM502.58 227.08h2.4v2.39h-2.4zM504.58 229.07h2.4v2.39h-2.4zM506.59 231.06h2.4v2.39h-2.4zM508.59 233.05h2.4v2.39h-2.4zM510.59 235.04h2.4v2.39h-2.4zM512.59 237.02h2.4v2.39h-2.4zM514.6 239.01h4.41v2.39h-4.41zM514.6 241h4.41v2.39h-4.41z"/>
<path fill="#f8d727" d="M450.5 171.41h2.4v2.39h-2.4zM450.5 173.4h2.4v2.39h-2.4zM446.5 175.39h4.41v2.39h-4.41zM452.51 175.39h2.4v2.39h-2.4zM450.5 177.38h2.4v2.39h-2.4zM454.51 177.38h2.4v2.39h-2.4zM452.51 179.36h2.4v2.39h-2.4zM456.51 179.36h2.4v2.39h-2.4zM454.51 181.35h2.4v2.39h-2.4zM458.51 181.35h2.4v2.39h-2.4zM456.51 183.34h2.4v2.39h-2.4zM460.52 183.34h2.4v2.39h-2.4zM458.51 185.33h2.4v2.39h-2.4zM462.52 185.33h2.4v2.39h-2.4zM460.52 187.32h2.4v2.39h-2.4zM464.52 187.32h2.4v2.39h-2.4zM462.52 189.31h2.4v2.39h-2.4zM466.53 189.31h2.4v2.39h-2.4zM464.52 191.29h2.4v2.39h-2.4zM468.53 191.29h2.4v2.39h-2.4zM466.53 193.28h2.4v2.39h-2.4zM470.53 193.28h2.4v2.39h-2.4zM468.53 195.27h2.4v2.39h-2.4zM472.54 195.27h2.4v2.39h-2.4zM470.53 197.26h2.4v2.39h-2.4zM474.54 197.26h2.4v2.39h-2.4zM472.54 199.25h2.4v2.39h-2.4zM476.54 199.25h2.4v2.39h-2.4zM474.54 201.24h2.4v2.39h-2.4zM478.54 201.24h2.4v2.39h-2.4zM476.54 203.22h2.4v2.39h-2.4zM480.55 203.22h2.4v2.39h-2.4zM478.54 205.21h2.4v2.39h-2.4zM482.55 205.21h2.4v2.39h-2.4zM480.55 207.2h2.4v2.39h-2.4zM484.55 207.2h2.4v2.39h-2.4zM482.55 209.19h2.4v2.39h-2.4zM486.56 209.19h2.4v2.39h-2.4zM484.55 211.18h2.4v2.39h-2.4zM488.56 211.18h2.4v2.39h-2.4zM486.56 213.16h2.4v2.39h-2.4zM490.56 213.16h2.4v2.39h-2.4zM488.56 215.15h2.4v2.39h-2.4zM492.56 215.15h2.4v2.39h-2.4zM490.56 217.14h2.4v2.39h-2.4zM494.57 217.14h2.4v2.39h-2.4zM492.56 219.13h2.4v2.39h-2.4zM496.57 219.13h2.4v2.39h-2.4zM494.57 221.12h2.4v2.39h-2.4zM498.57 221.12h2.4v2.39h-2.4zM496.57 223.11h2.4v2.39h-2.4zM500.58 223.11h2.4v2.39h-2.4zM498.57 225.09h2.4v2.39h-2.4zM502.58 225.09h2.4v2.39h-2.4zM500.58 227.08h2.4v2.39h-2.4zM504.58 227.08h2.4v2.39h-2.4zM502.58 229.07h2.4v2.39h-2.4zM506.59 229.07h2.4v2.39h-2.4zM504.58 231.06h2.4v2.39h-2.4zM508.59 231.06h2.4v2.39h-2.4zM506.59 233.05h2.4v2.39h-2.4zM510.59 233.05h2.4v2.39h-2.4zM508.59 235.04h2.4v2.39h-2.4zM512.59 235.04h2.4v2.39h-2.4zM510.59 237.02h2.4v2.39h-2.4zM514.6 237.02h4.41v2.39h-4.41zM512.59 239.01h2.4v2.39h-2.4zM512.59 241h2.4v2.39h-2.4z"/>
<path fill="#fdcc2f" d="M452.51 171.41h2.4v2.39h-2.4zM452.51 173.4h2.4v2.39h-2.4zM454.51 175.39h2.4v2.39h-2.4zM446.5 177.38h4.41v2.39h-4.41zM456.51 177.38h2.4v2.39h-2.4zM450.5 179.36h2.4v2.39h-2.4zM458.51 179.36h2.4v2.39h-2.4zM452.51 181.35h2.4v2.39h-2.4zM460.52 181.35h2.4v2.39h-2.4zM454.51 183.34h2.4v2.39h-2.4zM462.52 183.34h2.4v2.39h-2.4zM456.51 185.33h2.4v2.39h-2.4zM464.52 185.33h2.4v2.39h-2.4zM458.51 187.32h2.4v2.39h-2.4zM466.53 187.32h2.4v2.39h-2.4zM460.52 189.31h2.4v2.39h-2.4zM468.53 189.31h2.4v2.39h-2.4zM462.52 191.29h2.4v2.39h-2.4zM470.53 191.29h2.4v2.39h-2.4zM464.52 193.28h2.4v2.39h-2.4zM472.54 193.28h2.4v2.39h-2.4zM466.53 195.27h2.4v2.39h-2.4zM474.54 195.27h2.4v2.39h-2.4zM468.53 197.26h2.4v2.39h-2.4zM476.54 197.26h2.4v2.39h-2.4zM470.53 199.25h2.4v2.39h-2.4zM478.54 199.25h2.4v2.39h-2.4zM472.54 201.24h2.4v2.39h-2.4zM480.55 201.24h2.4v2.39h-2.4zM474.54 203.22h2.4v2.39h-2.4zM482.55 203.22h2.4v2.39h-2.4zM476.54 205.21h2.4v2.39h-2.4zM484.55 205.21h2.4v2.39h-2.4zM478.54 207.2h2.4v2.39h-2.4zM486.56 207.2h2.4v2.39h-2.4zM480.55 209.19h2.4v2.39h-2.4zM488.56 209.19h2.4v2.39h-2.4zM482.55 211.18h2.4v2.39h-2.4zM490.56 211.18h2.4v2.39h-2.4zM484.55 213.16h2.4v2.39h-2.4zM492.56 213.16h2.4v2.39h-2.4zM486.56 215.15h2.4v2.39h-2.4zM494.57 215.15h2.4v2.39h-2.4zM488.56 217.14h2.4v2.39h-2.4zM496.57 217.14h2.4v2.39h-2.4zM490.56 219.13h2.4v2.39h-2.4zM498.57 219.13h2.4v2.39h-2.4zM492.56 221.12h2.4v2.39h-2.4zM500.58 221.12h2.4v2.39h-2.4zM494.57 223.11h2.4v2.39h-2.4zM502.58 223.11h2.4v2.39h-2.4zM496.57 225.09h2.4v2.39h-2.4zM504.58 225.09h2.4v2.39h-2.4zM498.57 227.08h2.4v2.39h-2.4zM506.59 227.08h2.4v2.39h-2.4zM500.58 229.07h2.4v2.39h-2.4zM508.59 229.07h2.4v2.39h-2.4zM502.58 231.06h2.4v2.39h-2.4zM510.59 231.06h2.4v2.39h-2.4zM504.58 233.05h2.4v2.39h-2.4zM512.59 233.05h2.4v2.39h-2.4zM506.59 235.04h2.4v2.39h-2.4zM514.6 235.04h4.41v2.39h-4.41zM508.59 237.02h2.4v2.39h-2.4zM510.59 239.01h2.4v2.39h-2.4zM510.59 241h2.4v2.39h-2.4z"/>
<path fill="#fbbc40" d="M454.51 171.41h2.4v2.39h-2.4zM462.52 171.41h2.4v2.39h-2.4zM468.53 171.41h2.4v2.39h-2.4zM454.51 173.4h2.4v2.39h-2.4zM462.52 173.4h2.4v2.39h-2.4zM468.53 173.4h2.4v2.39h-2.4zM456.51 175.39h2.4v2.39h-2.4zM462.52 175.39h2.4v2.39h-2.4zM468.53 175.39h2.4v2.39h-2.4zM458.51 177.38h2.4v2.39h-2.4zM462.52 177.38h2.4v2.39h-2.4zM468.53 177.38h2.4v2.39h-2.4zM446.5 179.36h4.41v2.39h-4.41zM460.52 179.36h2.4v2.39h-2.4zM464.52 179.36h4.41v2.39h-4.41zM450.5 181.35h2.4v2.39h-2.4zM462.52 181.35h2.4v2.39h-2.4zM468.53 181.35h2.4v2.39h-2.4zM452.51 183.34h2.4v2.39h-2.4zM464.52 183.34h2.4v2.39h-2.4zM468.53 183.34h2.4v2.39h-2.4zM454.51 185.33h2.4v2.39h-2.4zM466.53 185.33h4.41v2.39h-4.41zM446.5 187.32h8.41v2.39h-8.41zM456.51 187.32h2.4v2.39h-2.4zM454.51 189.31h2.4v2.39h-2.4zM458.51 189.31h2.4v2.39h-2.4zM470.53 189.31h2.4v2.39h-2.4zM454.51 191.29h2.4v2.39h-2.4zM460.52 191.29h2.4v2.39h-2.4zM472.54 191.29h2.4v2.39h-2.4zM446.5 193.28h8.41v2.39h-8.41zM456.51 193.28h6.41v2.39h-6.41zM474.54 193.28h2.4v2.39h-2.4zM454.51 195.27h2.4v2.39h-2.4zM462.52 195.27h4.41v2.39h-4.41zM476.54 195.27h2.4v2.39h-2.4zM454.51 197.26h2.4v2.39h-2.4zM466.53 197.26h2.4v2.39h-2.4zM478.54 197.26h2.4v2.39h-2.4zM452.51 199.25h2.4v2.39h-2.4zM456.51 199.25h6.41v2.39h-6.41zM480.55 199.25h12.42v2.39h-12.42zM454.51 201.24h2.4v2.39h-2.4zM468.53 201.24h4.41v2.39h-4.41zM482.55 201.24h2.4v2.39h-2.4zM454.51 203.22h2.4v2.39h-2.4zM468.53 203.22h2.4v2.39h-2.4zM472.54 203.22h2.4v2.39h-2.4zM484.55 203.22h2.4v2.39h-2.4zM454.51 205.21h2.4v2.39h-2.4zM468.53 205.21h2.4v2.39h-2.4zM474.54 205.21h2.4v2.39h-2.4zM486.56 205.21h2.4v2.39h-2.4zM454.51 207.2h2.4v2.39h-2.4zM468.53 207.2h2.4v2.39h-2.4zM474.54 207.2h4.41v2.39h-4.41zM488.56 207.2h2.4v2.39h-2.4zM454.51 209.19h2.4v2.39h-2.4zM468.53 209.19h2.4v2.39h-2.4zM474.54 209.19h2.4v2.39h-2.4zM478.54 209.19h2.4v2.39h-2.4zM490.56 209.19h2.4v2.39h-2.4zM454.51 211.18h2.4v2.39h-2.4zM468.53 211.18h2.4v2.39h-2.4zM474.54 211.18h2.4v2.39h-2.4zM480.55 211.18h2.4v2.39h-2.4zM492.56 211.18h2.4v2.39h-2.4zM454.51 213.16h2.4v2.39h-2.4zM468.53 213.16h2.4v2.39h-2.4zM474.54 213.16h2.4v2.39h-2.4zM482.55 213.16h2.4v2.39h-2.4zM494.57 213.16h2.4v2.39h-2.4zM454.51 215.15h2.4v2.39h-2.4zM468.53 215.15h2.4v2.39h-2.4zM474.54 215.15h2.4v2.39h-2.4zM484.55 215.15h2.4v2.39h-2.4zM496.57 215.15h2.4v2.39h-2.4zM486.56 217.14h2.4v2.39h-2.4zM498.57 217.14h4.41v2.39h-4.41zM488.56 219.13h2.4v2.39h-2.4zM500.58 219.13h4.41v2.39h-4.41zM490.56 221.12h2.4v2.39h-2.4zM502.58 221.12h4.41v2.39h-4.41zM492.56 223.11h2.4v2.39h-2.4zM504.58 223.11h4.41v2.39h-4.41zM492.56 225.09h4.41v2.39h-4.41zM506.59 225.09h4.41v2.39h-4.41zM494.57 227.08h4.41v2.39h-4.41zM508.59 227.08h4.41v2.39h-4.41zM496.57 229.07h4.41v2.39h-4.41zM510.59 229.07h4.41v2.39h-4.41zM498.57 231.06h4.41v2.39h-4.41zM512.59 231.06h6.41v2.39h-6.41zM500.58 233.05h4.41v2.39h-4.41zM514.6 233.05h4.41v2.39h-4.41zM502.58 235.04h4.41v2.39h-4.41zM504.58 237.02h4.41v2.39h-4.41zM506.59 239.01h4.41v2.39h-4.41zM506.59 241h4.41v2.39h-4.41z"/>
<path fill="#f4ba47" d="M456.51 171.41h6.41v2.39h-6.41zM464.52 171.41h4.41v2.39h-4.41zM456.51 173.4h6.41v2.39h-6.41zM464.52 173.4h4.41v2.39h-4.41zM458.51 175.39h4.41v2.39h-4.41zM464.52 175.39h4.41v2.39h-4.41zM460.52 177.38h2.4v2.39h-2.4zM464.52 177.38h4.41v2.39h-4.41zM446.5 181.35h4.41v2.39h-4.41zM464.52 181.35h4.41v2.39h-4.41zM446.5 183.34h6.41v2.39h-6.41zM466.53 183.34h2.4v2.39h-2.4zM446.5 185.33h8.41v2.39h-8.41zM446.5 189.31h8.41v2.39h-8.41zM456.51 189.31h2.4v2.39h-2.4zM446.5 191.29h8.41v2.39h-8.41zM456.51 191.29h4.41v2.39h-4.41zM446.5 195.27h8.41v2.39h-8.41zM456.51 195.27h6.41v2.39h-6.41zM480.55 197.26h12.42v2.39h-12.42zM484.55 201.24h8.41v2.39h-8.41zM470.53 203.22h2.4v2.39h-2.4zM486.56 203.22h6.41v2.39h-6.41zM470.53 205.21h4.41v2.39h-4.41zM488.56 205.21h4.41v2.39h-4.41zM470.53 207.2h4.41v2.39h-4.41zM490.56 207.2h2.4v2.39h-2.4zM470.53 209.19h4.41v2.39h-4.41zM476.54 209.19h2.4v2.39h-2.4zM470.53 211.18h4.41v2.39h-4.41zM476.54 211.18h4.41v2.39h-4.41zM470.53 213.16h4.41v2.39h-4.41zM476.54 213.16h6.41v2.39h-6.41zM470.53 215.15h4.41v2.39h-4.41zM476.54 215.15h8.41v2.39h-8.41z"/>
<path fill="#dbba55" d="M470.53 171.41h2.4v2.39h-2.4zM486.56 171.41h6.41v2.39h-6.41zM470.53 173.4h2.4v2.39h-2.4zM486.56 173.4h6.41v2.39h-6.41zM470.53 175.39h2.4v2.39h-2.4zM486.56 175.39h6.41v2.39h-6.41zM470.53 177.38h2.4v2.39h-2.4zM486.56 177.38h6.41v2.39h-6.41zM470.53 181.35h2.4v2.39h-2.4zM486.56 181.35h6.41v2.39h-6.41zM470.53 183.34h2.4v2.39h-2.4zM486.56 183.34h6.41v2.39h-6.41zM470.53 185.33h2.4v2.39h-2.4zM486.56 185.33h6.41v2.39h-6.41zM472.54 189.31h2.4v2.39h-2.4zM476.54 189.31h16.42v2.39h-16.42zM476.54 191.29h16.42v2.39h-16.42zM478.54 195.27h14.42v2.39h-14.42zM462.52 197.26h2.4v2.39h-2.4zM446.5 199.25h6.41v2.39h-6.41zM464.52 199.25h4.41v2.39h-4.41zM462.52 201.24h2.4v2.39h-2.4zM462.52 203.22h2.4v2.39h-2.4zM462.52 205.21h2.4v2.39h-2.4zM462.52 207.2h2.4v2.39h-2.4zM462.52 209.19h2.4v2.39h-2.4zM462.52 211.18h2.4v2.39h-2.4zM462.52 213.16h2.4v2.39h-2.4zM462.52 215.15h2.4v2.39h-2.4zM474.54 217.14h12.42v2.39h-12.42zM474.54 219.13h14.42v2.39h-14.42zM474.54 221.12h16.42v2.39h-16.42zM474.54 223.11h18.43v2.39h-18.43zM474.54 225.09h18.43v2.39h-18.43zM474.54 227.08h18.43v2.39h-18.43zM474.54 229.07h18.43v2.39h-18.43zM474.54 231.06h18.43v2.39h-18.43zM474.54 233.05h18.43v2.39h-18.43zM474.54 235.04h18.43v2.39h-18.43zM474.54 237.02h18.43v2.39h-18.43zM474.54 239.01h18.43v2.39h-18.43zM474.54 241h18.43v2.39h-18.43z"/>
<path fill="#aebe67" d="M472.54 171.41h2.4v2.39h-2.4zM476.54 171.41h10.41v2.39h-10.41zM472.54 173.4h2.4v2.39h-2.4zM476.54 173.4h10.41v2.39h-10.41zM472.54 175.39h2.4v2.39h-2.4zM476.54 175.39h10.41v2.39h-10.41zM472.54 177.38h2.4v2.39h-2.4zM476.54 177.38h10.41v2.39h-10.41zM472.54 181.35h2.4v2.39h-2.4zM476.54 181.35h10.41v2.39h-10.41zM472.54 183.34h2.4v2.39h-2.4zM476.54 183.34h10.41v2.39h-10.41zM472.54 185.33h2.4v2.39h-2.4zM476.54 185.33h10.41v2.39h-10.41z"/>
<path fill="#c1bc60" d="M474.54 171.41h2.4v2.39h-2.4zM474.54 173.4h2.4v2.39h-2.4zM474.54 175.39h2.4v2.39h-2.4zM474.54 177.38h2.4v2.39h-2.4zM472.54 179.36h2.4v2.39h-2.4zM476.54 179.36h10.41v2.39h-10.41zM474.54 181.35h2.4v2.39h-2.4zM474.54 183.34h2.4v2.39h-2.4zM474.54 185.33h2.4v2.39h-2.4zM472.54 187.32h2.4v2.39h-2.4zM476.54 187.32h10.41v2.39h-10.41z"/>
<path fill="#49bc94" d="M492.56 171.41h26.44v2.39h-26.44zM492.56 173.4h26.44v2.39h-26.44zM492.56 175.39h26.44v2.39h-26.44zM492.56 177.38h26.44v2.39h-26.44zM492.56 179.36h26.44v2.39h-26.44zM492.56 181.35h26.44v2.39h-26.44zM492.56 183.34h26.44v2.39h-26.44zM492.56 185.33h26.44v2.39h-26.44zM492.56 187.32h26.44v2.39h-26.44zM492.56 189.31h26.44v2.39h-26.44zM492.56 191.29h26.44v2.39h-26.44zM492.56 193.28h26.44v2.39h-26.44z"/>
<path fill="#fec634" d="M462.52 179.36h2.4v2.39h-2.4zM468.53 179.36h2.4v2.39h-2.4zM454.51 187.32h2.4v2.39h-2.4zM468.53 187.32h2.4v2.39h-2.4zM454.51 193.28h2.4v2.39h-2.4zM462.52 193.28h2.4v2.39h-2.4z"/>
<path fill="#e4b951" d="M470.53 179.36h2.4v2.39h-2.4zM486.56 179.36h6.41v2.39h-6.41zM470.53 187.32h2.4v2.39h-2.4zM486.56 187.32h6.41v2.39h-6.41zM474.54 189.31h2.4v2.39h-2.4zM474.54 191.29h2.4v2.39h-2.4zM476.54 193.28h16.42v2.39h-16.42zM462.52 199.25h2.4v2.39h-2.4z"/>
<path fill="#cabc5c" d="M474.54 179.36h2.4v2.39h-2.4zM474.54 187.32h2.4v2.39h-2.4zM446.5 197.26h6.41v2.39h-6.41zM464.52 197.26h2.4v2.39h-2.4zM446.5 201.24h6.41v2.39h-6.41zM464.52 201.24h4.41v2.39h-4.41zM492.56 201.24h16.42v2.39h-16.42zM446.5 203.22h6.41v2.39h-6.41zM464.52 203.22h4.41v2.39h-4.41zM492.56 203.22h16.42v2.39h-16.42zM446.5 205.21h6.41v2.39h-6.41zM464.52 205.21h4.41v2.39h-4.41zM492.56 205.21h16.42v2.39h-16.42zM446.5 207.2h6.41v2.39h-6.41zM464.52 207.2h4.41v2.39h-4.41zM492.56 207.2h16.42v2.39h-16.42zM446.5 209.19h6.41v2.39h-6.41zM464.52 209.19h4.41v2.39h-4.41zM492.56 209.19h16.42v2.39h-16.42zM446.5 211.18h6.41v2.39h-6.41zM464.52 211.18h4.41v2.39h-4.41zM494.57 211.18h14.42v2.39h-14.42zM446.5 213.16h6.41v2.39h-6.41zM464.52 213.16h4.41v2.39h-4.41zM496.57 213.16h12.42v2.39h-12.42zM446.5 215.15h6.41v2.39h-6.41zM464.52 215.15h4.41v2.39h-4.41zM498.57 215.15h10.41v2.39h-10.41z"/>
<path fill="#6ebf82" d="M492.56 195.27h26.44v2.39h-26.44zM492.56 197.26h26.44v2.39h-26.44zM492.56 199.25h26.44v2.39h-26.44z"/>
<path fill="#ecb94c" d="M452.51 197.26h2.4v2.39h-2.4zM456.51 197.26h6.41v2.39h-6.41zM452.51 201.24h2.4v2.39h-2.4zM456.51 201.24h6.41v2.39h-6.41zM452.51 203.22h2.4v2.39h-2.4zM456.51 203.22h6.41v2.39h-6.41zM452.51 205.21h2.4v2.39h-2.4zM456.51 205.21h6.41v2.39h-6.41zM452.51 207.2h2.4v2.39h-2.4zM456.51 207.2h6.41v2.39h-6.41zM452.51 209.19h2.4v2.39h-2.4zM456.51 209.19h6.41v2.39h-6.41zM452.51 211.18h2.4v2.39h-2.4zM456.51 211.18h6.41v2.39h-6.41zM452.51 213.16h2.4v2.39h-2.4zM456.51 213.16h6.41v2.39h-6.41zM452.51 215.15h2.4v2.39h-2.4zM456.51 215.15h6.41v2.39h-6.41z"/>
<path fill="#fec13a" d="M454.51 199.25h2.4v2.39h-2.4zM468.53 199.25h2.4v2.39h-2.4zM502.58 217.14h16.42v2.39h-16.42zM504.58 219.13h14.42v2.39h-14.42zM506.59 221.12h12.42v2.39h-12.42zM508.59 223.11h10.41v2.39h-10.41zM510.59 225.09h8.41v2.39h-8.41zM492.56 227.08h2.4v2.39h-2.4zM512.59 227.08h6.41v2.39h-6.41zM492.56 229.07h4.41v2.39h-4.41zM514.6 229.07h4.41v2.39h-4.41zM492.56 231.06h6.41v2.39h-6.41zM492.56 233.05h8.41v2.39h-8.41zM492.56 235.04h10.41v2.39h-10.41zM492.56 237.02h12.42v2.39h-12.42zM492.56 239.01h14.42v2.39h-14.42zM492.56 241h14.42v2.39h-14.42z"/>
<path fill="#a5be6b" d="M508.59 201.24h10.41v2.39h-10.41zM508.59 203.22h10.41v2.39h-10.41zM508.59 205.21h10.41v2.39h-10.41zM508.59 207.2h10.41v2.39h-10.41zM508.59 209.19h10.41v2.39h-10.41zM508.59 211.18h10.41v2.39h-10.41zM508.59 213.16h10.41v2.39h-10.41zM508.59 215.15h10.41v2.39h-10.41z"/>
<path fill="#61be88" d="M446.5 217.14h6.41v2.39h-6.41zM446.5 219.13h6.41v2.39h-6.41zM446.5 221.12h6.41v2.39h-6.41zM446.5 223.11h6.41v2.39h-6.41zM446.5 225.09h6.41v2.39h-6.41zM446.5 227.08h6.41v2.39h-6.41zM446.5 229.07h6.41v2.39h-6.41zM446.5 231.06h6.41v2.39h-6.41zM446.5 233.05h6.41v2.39h-6.41zM446.5 235.04h6.41v2.39h-6.41zM446.5 237.02h6.41v2.39h-6.41zM446.5 239.01h6.41v2.39h-6.41zM446.5 241h6.41v2.39h-6.41z"/>
<path fill="#3eba9b" d="M452.51 217.14h16.42v2.39h-16.42zM452.51 219.13h16.42v2.39h-16.42zM452.51 221.12h16.42v2.39h-16.42zM452.51 223.11h16.42v2.39h-16.42zM452.51 225.09h16.42v2.39h-16.42zM452.51 227.08h16.42v2.39h-16.42zM452.51 229.07h16.42v2.39h-16.42zM452.51 231.06h16.42v2.39h-16.42zM452.51 233.05h16.42v2.39h-16.42zM452.51 235.04h16.42v2.39h-16.42zM452.51 237.02h16.42v2.39h-16.42zM452.51 239.01h16.42v2.39h-16.42zM452.51 241h16.42v2.39h-16.42z"/>
<path fill="#7abf7c" d="M468.53 217.14h6.41v2.39h-6.41zM468.53 219.13h6.41v2.39h-6.41zM468.53 221.12h6.41v2.39h-6.41zM468.53 223.11h6.41v2.39h-6.41zM468.53 225.09h6.41v2.39h-6.41zM468.53 227.08h6.41v2.39h-6.41zM468.53 229.07h6.41v2.39h-6.41zM468.53 231.06h6.41v2.39h-6.41zM468.53 233.05h6.41v2.39h-6.41zM468.53 235.04h6.41v2.39h-6.41zM468.53 237.02h6.41v2.39h-6.41zM468.53 239.01h6.41v2.39h-6.41zM468.53 241h6.41v2.39h-6.41z"/>
</g></g>
<rect x="448.50" y="173.40" width="68.10" height="67.60" fill="none" stroke="#5a5a5a" stroke-width="1"/>
<line x1="448.50" y1="173.40" x2="450.00" y2="173.40" stroke="#5a5a5a" stroke-width="0.8"/>
<line x1="448.50" y1="241.00" x2="448.50" y2="239.50" stroke="#5a5a5a" stroke-width="0.8"/>
<text x="444.60" y="177.30" font-size="10.3" text-anchor="end" font-weight="normal" fill="#262626">0</text>
<line x1="448.50" y1="180.06" x2="450.00" y2="180.06" stroke="#5a5a5a" stroke-width="0.8"/>
<line x1="455.21" y1="241.00" x2="455.21" y2="239.50" stroke="#5a5a5a" stroke-width="0.8"/>
<text x="444.60" y="185.70" font-size="10.3" text-anchor="end" font-weight="normal" fill="#262626">14</text>
<line x1="448.50" y1="188.16" x2="450.00" y2="188.16" stroke="#5a5a5a" stroke-width="0.8"/>
<line x1="463.37" y1="241.00" x2="463.37" y2="239.50" stroke="#5a5a5a" stroke-width="0.8"/>
<text x="444.60" y="193.50" font-size="10.3" text-anchor="end" font-weight="normal" fill="#262626">31</text>
<line x1="448.50" y1="194.35" x2="450.00" y2="194.35" stroke="#5a5a5a" stroke-width="0.8"/>
<line x1="469.60" y1="241.00" x2="469.60" y2="239.50" stroke="#5a5a5a" stroke-width="0.8"/>
<text x="444.60" y="201.90" font-size="10.3" text-anchor="end" font-weight="normal" fill="#262626">44</text>
<line x1="448.50" y1="200.54" x2="450.00" y2="200.54" stroke="#5a5a5a" stroke-width="0.8"/>
<line x1="475.84" y1="241.00" x2="475.84" y2="239.50" stroke="#5a5a5a" stroke-width="0.8"/>
<text x="444.60" y="211.10" font-size="10.3" text-anchor="end" font-weight="normal" fill="#262626">57</text>
<line x1="448.50" y1="217.67" x2="450.00" y2="217.67" stroke="#5a5a5a" stroke-width="0.8"/>
<line x1="493.10" y1="241.00" x2="493.10" y2="239.50" stroke="#5a5a5a" stroke-width="0.8"/>
<text x="444.60" y="222.30" font-size="10.3" text-anchor="end" font-weight="normal" fill="#262626">93</text>
<line x1="448.50" y1="226.72" x2="450.00" y2="226.72" stroke="#5a5a5a" stroke-width="0.8"/>
<line x1="502.21" y1="241.00" x2="502.21" y2="239.50" stroke="#5a5a5a" stroke-width="0.8"/>
<text x="444.60" y="232.10" font-size="10.3" text-anchor="end" font-weight="normal" fill="#262626">112</text>
<line x1="448.50" y1="241.00" x2="450.00" y2="241.00" stroke="#5a5a5a" stroke-width="0.8"/>
<line x1="516.60" y1="241.00" x2="516.60" y2="239.50" stroke="#5a5a5a" stroke-width="0.8"/>
<text x="444.60" y="244.80" font-size="10.3" text-anchor="end" font-weight="normal" fill="#262626">142</text>
<text x="451.20" y="251.50" font-size="9.3" text-anchor="end" font-weight="normal" fill="#262626" transform="rotate(-45 451.20 251.50)">0</text>
<text x="462.30" y="251.20" font-size="9.3" text-anchor="end" font-weight="normal" fill="#262626" transform="rotate(-45 462.30 251.20)">14</text>
<text x="479.30" y="250.60" font-size="9.3" text-anchor="end" font-weight="normal" fill="#262626" transform="rotate(-45 479.30 250.60)">44</text>
<text x="499.60" y="250.60" font-size="9.3" text-anchor="end" font-weight="normal" fill="#262626" transform="rotate(-45 499.60 250.60)">93</text>
<text x="520.70" y="249.00" font-size="9.3" text-anchor="end" font-weight="normal" fill="#262626" transform="rotate(-45 520.70 249.00)">142</text>
<defs><linearGradient id="g_par1" x1="0" y1="1" x2="0" y2="0"><stop offset="0.0" stop-color="#352a87"/><stop offset="0.047619047619047616" stop-color="#353dad"/><stop offset="0.09523809523809523" stop-color="#2053d4"/><stop offset="0.14285714285714285" stop-color="#0268e1"/><stop offset="0.19047619047619047" stop-color="#0d75dc"/><stop offset="0.23809523809523808" stop-color="#1481d6"/><stop offset="0.2857142857142857" stop-color="#108ed2"/><stop offset="0.3333333333333333" stop-color="#079ccf"/><stop offset="0.38095238095238093" stop-color="#06a7c6"/><stop offset="0.42857142857142855" stop-color="#0faeb9"/><stop offset="0.47619047619047616" stop-color="#25b5a9"/><stop offset="0.5238095238095238" stop-color="#42bb98"/><stop offset="0.5714285714285714" stop-color="#65be86"/><stop offset="0.6190476190476191" stop-color="#87bf77"/><stop offset="0.6666666666666666" stop-color="#a5be6b"/><stop offset="0.7142857142857143" stop-color="#c0bc60"/><stop offset="0.7619047619047619" stop-color="#d9ba56"/><stop offset="0.8095238095238095" stop-color="#f1b94a"/><stop offset="0.8571428571428571" stop-color="#ffc337"/><stop offset="0.9047619047619048" stop-color="#fad32a"/><stop offset="0.9523809523809523" stop-color="#f5e41d"/><stop offset="1.0" stop-color="#f9fb0e"/><stop offset="1.0" stop-color="#f9fb0e"/></linearGradient></defs>
<rect x="521.20" y="173.40" width="7.40" height="67.60" fill="url(#g_par1)"/>
<rect x="521.20" y="173.40" width="7.40" height="67.60" fill="none" stroke="#5a5a5a" stroke-width="0.8"/>
<text x="531.20" y="177.00" font-size="10.5" text-anchor="start" font-weight="normal" fill="#262626">1</text>
<text x="531.20" y="244.60" font-size="10.5" text-anchor="start" font-weight="normal" fill="#262626">0</text>
<text x="525.00" y="210.20" font-size="11" text-anchor="middle" font-weight="normal" fill="#1d5a62">R</text>
<text x="422.60" y="207.00" font-size="12.2" text-anchor="middle" font-weight="normal" fill="#262626" transform="rotate(-90 422.60 207.00)">Days</text>
<text x="483.30" y="271.00" font-size="12.2" text-anchor="middle" font-weight="normal" fill="#262626">Days</text>
<defs><clipPath id="hmc"><rect x="449.00" y="452.10" width="68.30" height="67.60"/></clipPath><filter id="hmf" x="-10%" y="-10%" width="120%" height="120%"><feGaussianBlur stdDeviation="0.9"/></filter></defs>
<g clip-path="url(#hmc)"><g filter="url(#hmf)">
<path fill="#f5dd22" d="M446.99 450.11h10.44v2.39h-10.44zM446.99 452.1h10.44v2.39h-10.44zM446.99 454.09h12.45v2.39h-12.45zM446.99 456.08h14.46v2.39h-14.46zM446.99 458.06h16.47v2.39h-16.47zM451.01 460.05h14.46v2.39h-14.46zM453.02 462.04h12.45v2.39h-12.45zM455.03 464.03h10.44v2.39h-10.44zM457.04 466.02h6.43v2.39h-6.43zM483.15 483.91h14.46v2.39h-14.46zM481.14 485.9h16.47v2.39h-16.47zM481.14 487.89h16.47v2.39h-16.47zM481.14 489.88h16.47v2.39h-16.47zM481.14 491.86h16.47v2.39h-16.47zM481.14 493.85h16.47v2.39h-16.47zM481.14 495.84h12.45v2.39h-12.45zM481.14 497.83h12.45v2.39h-12.45z"/>
<path fill="#fec634" d="M457.04 450.11h8.44v2.39h-8.44zM457.04 452.1h8.44v2.39h-8.44zM459.04 454.09h6.43v2.39h-6.43zM461.05 456.08h4.42v2.39h-4.42zM463.06 458.06h2.41v2.39h-2.41zM446.99 460.05h4.42v2.39h-4.42zM446.99 462.04h6.43v2.39h-6.43zM446.99 464.03h8.44v2.39h-8.44zM446.99 466.02h10.44v2.39h-10.44zM463.06 466.02h8.44v2.39h-8.44zM463.06 468.01h8.44v2.39h-8.44zM463.06 469.99h8.44v2.39h-8.44zM463.06 471.98h8.44v2.39h-8.44zM475.11 477.95h8.44v2.39h-8.44zM475.11 479.94h8.44v2.39h-8.44zM475.11 481.92h8.44v2.39h-8.44zM475.11 483.91h8.44v2.39h-8.44zM497.21 483.91h6.43v2.39h-6.43zM497.21 485.9h6.43v2.39h-6.43zM497.21 487.89h6.43v2.39h-6.43zM497.21 489.88h6.43v2.39h-6.43zM497.21 491.86h6.43v2.39h-6.43zM499.22 493.85h4.42v2.39h-4.42zM501.23 495.84h2.41v2.39h-2.41zM511.27 505.78h8.44v2.39h-8.44zM497.21 507.77h2.41v2.39h-2.41zM513.28 507.77h6.43v2.39h-6.43zM497.21 509.76h4.42v2.39h-4.42zM515.29 509.76h4.42v2.39h-4.42zM497.21 511.75h6.43v2.39h-6.43zM497.21 513.74h8.44v2.39h-8.44zM497.21 515.72h10.44v2.39h-10.44zM497.21 517.71h12.45v2.39h-12.45zM497.21 519.7h12.45v2.39h-12.45z"/>
<path fill="#3eba9b" d="M465.07 450.11h6.43v2.39h-6.43zM465.07 452.1h6.43v2.39h-6.43zM465.07 454.09h6.43v2.39h-6.43zM465.07 456.08h6.43v2.39h-6.43zM465.07 458.06h6.43v2.39h-6.43zM465.07 460.05h6.43v2.39h-6.43zM465.07 462.04h6.43v2.39h-6.43zM465.07 464.03h6.43v2.39h-6.43zM446.99 468.01h16.47v2.39h-16.47zM446.99 469.99h16.47v2.39h-16.47zM446.99 471.98h16.47v2.39h-16.47z"/>
<path fill="#08aac1" d="M471.1 450.11h10.44v2.39h-10.44zM471.1 452.1h10.44v2.39h-10.44zM471.1 454.09h10.44v2.39h-10.44zM471.1 456.08h10.44v2.39h-10.44zM471.1 458.06h10.44v2.39h-10.44zM471.1 460.05h10.44v2.39h-10.44zM471.1 462.04h10.44v2.39h-10.44zM471.1 464.03h10.44v2.39h-10.44zM471.1 466.02h10.44v2.39h-10.44zM446.99 473.97h18.48v2.39h-18.48zM446.99 475.96h18.48v2.39h-18.48zM446.99 477.95h18.48v2.39h-18.48zM446.99 479.94h18.48v2.39h-18.48zM446.99 481.92h18.48v2.39h-18.48z"/>
<path fill="#0b5ede" d="M481.14 450.11h16.47v2.39h-16.47zM481.14 452.1h16.47v2.39h-16.47zM481.14 454.09h16.47v2.39h-16.47zM481.14 456.08h16.47v2.39h-16.47zM481.14 458.06h16.47v2.39h-16.47zM481.14 460.05h16.47v2.39h-16.47zM481.14 462.04h16.47v2.39h-16.47zM481.14 464.03h16.47v2.39h-16.47zM481.14 466.02h16.47v2.39h-16.47zM446.99 483.91h18.48v2.39h-18.48zM446.99 485.9h18.48v2.39h-18.48zM446.99 487.89h18.48v2.39h-18.48zM446.99 489.88h18.48v2.39h-18.48zM446.99 491.86h18.48v2.39h-18.48zM446.99 493.85h18.48v2.39h-18.48zM446.99 495.84h18.48v2.39h-18.48zM446.99 497.83h18.48v2.39h-18.48z"/>
<path fill="#0b73dd" d="M497.21 450.11h22.5v2.39h-22.5zM497.21 452.1h22.5v2.39h-22.5zM497.21 454.09h22.5v2.39h-22.5zM497.21 456.08h22.5v2.39h-22.5zM497.21 458.06h22.5v2.39h-22.5zM497.21 460.05h22.5v2.39h-22.5zM497.21 462.04h22.5v2.39h-22.5zM497.21 464.03h22.5v2.39h-22.5zM497.21 466.02h22.5v2.39h-22.5z"/>
<path fill="#29b6a7" d="M471.1 468.01h10.44v2.39h-10.44zM471.1 469.99h10.44v2.39h-10.44zM471.1 471.98h10.44v2.39h-10.44zM465.07 473.97h16.47v2.39h-16.47zM465.07 475.96h16.47v2.39h-16.47zM465.07 477.95h10.44v2.39h-10.44zM465.07 479.94h10.44v2.39h-10.44zM465.07 481.92h10.44v2.39h-10.44z"/>
<path fill="#18b2b2" d="M481.14 468.01h6.43v2.39h-6.43zM481.14 469.99h6.43v2.39h-6.43zM481.14 471.98h6.43v2.39h-6.43zM481.14 473.97h6.43v2.39h-6.43zM481.14 475.96h6.43v2.39h-6.43zM483.15 477.95h4.42v2.39h-4.42zM483.15 479.94h4.42v2.39h-4.42zM483.15 481.92h4.42v2.39h-4.42z"/>
<path fill="#079ccf" d="M487.17 468.01h32.54v2.39h-32.54zM487.17 469.99h32.54v2.39h-32.54zM487.17 471.98h32.54v2.39h-32.54zM487.17 473.97h32.54v2.39h-32.54zM487.17 475.96h32.54v2.39h-32.54zM487.17 477.95h32.54v2.39h-32.54zM487.17 479.94h32.54v2.39h-32.54zM487.17 481.92h32.54v2.39h-32.54z"/>
<path fill="#06a4ca" d="M465.07 483.91h10.44v2.39h-10.44zM465.07 485.9h10.44v2.39h-10.44zM465.07 487.89h10.44v2.39h-10.44zM465.07 489.88h10.44v2.39h-10.44zM465.07 491.86h10.44v2.39h-10.44zM465.07 493.85h10.44v2.39h-10.44zM465.07 495.84h10.44v2.39h-10.44zM465.07 497.83h10.44v2.39h-10.44zM465.07 499.82h10.44v2.39h-10.44zM465.07 501.81h10.44v2.39h-10.44zM465.07 503.79h10.44v2.39h-10.44zM465.07 505.78h10.44v2.39h-10.44zM465.07 507.77h10.44v2.39h-10.44zM465.07 509.76h10.44v2.39h-10.44zM465.07 511.75h10.44v2.39h-10.44zM465.07 513.74h10.44v2.39h-10.44zM465.07 515.72h10.44v2.39h-10.44zM465.07 517.71h10.44v2.39h-10.44zM465.07 519.7h10.44v2.39h-10.44z"/>
<path fill="#fbbc40" d="M503.24 483.91h16.47v2.39h-16.47zM503.24 485.9h16.47v2.39h-16.47zM503.24 487.89h16.47v2.39h-16.47zM503.24 489.88h16.47v2.39h-16.47zM503.24 491.86h16.47v2.39h-16.47zM503.24 493.85h16.47v2.39h-16.47zM503.24 495.84h16.47v2.39h-16.47zM503.24 497.83h16.47v2.39h-16.47zM505.25 499.82h14.46v2.39h-14.46zM507.26 501.81h12.45v2.39h-12.45zM509.26 503.79h10.44v2.39h-10.44z"/>
<path fill="#49bc94" d="M475.11 485.9h6.43v2.39h-6.43zM475.11 487.89h6.43v2.39h-6.43zM475.11 489.88h6.43v2.39h-6.43zM475.11 491.86h6.43v2.39h-6.43zM475.11 493.85h6.43v2.39h-6.43zM475.11 495.84h6.43v2.39h-6.43zM475.11 497.83h6.43v2.39h-6.43zM475.11 499.82h6.43v2.39h-6.43zM475.11 501.81h6.43v2.39h-6.43zM475.11 503.79h6.43v2.39h-6.43zM475.11 505.78h6.43v2.39h-6.43zM475.11 507.77h6.43v2.39h-6.43zM475.11 509.76h6.43v2.39h-6.43zM475.11 511.75h6.43v2.39h-6.43zM475.11 513.74h6.43v2.39h-6.43zM475.11 515.72h6.43v2.39h-6.43zM475.11 517.71h6.43v2.39h-6.43zM475.11 519.7h6.43v2.39h-6.43z"/>
<path fill="#f8d727" d="M497.21 493.85h2.41v2.39h-2.41zM493.19 495.84h8.44v2.39h-8.44zM493.19 497.83h10.44v2.39h-10.44zM491.19 499.82h14.46v2.39h-14.46zM493.19 501.81h14.46v2.39h-14.46zM495.2 503.79h14.46v2.39h-14.46zM497.21 505.78h14.46v2.39h-14.46zM499.22 507.77h14.46v2.39h-14.46zM501.23 509.76h14.46v2.39h-14.46zM503.24 511.75h16.47v2.39h-16.47zM505.25 513.74h14.46v2.39h-14.46zM507.26 515.72h12.45v2.39h-12.45zM509.26 517.71h10.44v2.39h-10.44zM509.26 519.7h10.44v2.39h-10.44z"/>
<path fill="#117cd9" d="M446.99 499.82h18.48v2.39h-18.48zM446.99 501.81h18.48v2.39h-18.48zM446.99 503.79h18.48v2.39h-18.48zM446.99 505.78h18.48v2.39h-18.48zM446.99 507.77h18.48v2.39h-18.48zM446.99 509.76h18.48v2.39h-18.48zM446.99 511.75h18.48v2.39h-18.48zM446.99 513.74h18.48v2.39h-18.48zM446.99 515.72h18.48v2.39h-18.48zM446.99 517.71h18.48v2.39h-18.48zM446.99 519.7h18.48v2.39h-18.48z"/>
<path fill="#f4ba47" d="M481.14 499.82h10.44v2.39h-10.44zM481.14 501.81h12.45v2.39h-12.45zM481.14 503.79h14.46v2.39h-14.46zM481.14 505.78h16.47v2.39h-16.47zM481.14 507.77h16.47v2.39h-16.47zM481.14 509.76h16.47v2.39h-16.47zM481.14 511.75h16.47v2.39h-16.47zM481.14 513.74h16.47v2.39h-16.47zM481.14 515.72h16.47v2.39h-16.47zM481.14 517.71h16.47v2.39h-16.47zM481.14 519.7h16.47v2.39h-16.47z"/>
</g></g>
<rect x="449.00" y="452.10" width="68.30" height="67.60" fill="none" stroke="#5a5a5a" stroke-width="1"/>
<line x1="449.00" y1="452.10" x2="450.50" y2="452.10" stroke="#5a5a5a" stroke-width="0.8"/>
<text x="443.90" y="456.00" font-size="10.3" text-anchor="end" font-weight="normal" fill="#262626">0</text>
<line x1="449.00" y1="519.70" x2="449.00" y2="518.20" stroke="#5a5a5a" stroke-width="0.8"/>
<text x="454.40" y="530.50" font-size="9.8" text-anchor="end" font-weight="normal" fill="#262626" transform="rotate(-45 454.40 530.50)">0</text>
<line x1="449.00" y1="464.17" x2="450.50" y2="464.17" stroke="#5a5a5a" stroke-width="0.8"/>
<text x="443.90" y="465.90" font-size="10.3" text-anchor="end" font-weight="normal" fill="#262626">5</text>
<line x1="461.20" y1="519.70" x2="461.20" y2="518.20" stroke="#5a5a5a" stroke-width="0.8"/>
<text x="461.90" y="530.50" font-size="9.8" text-anchor="end" font-weight="normal" fill="#262626" transform="rotate(-45 461.90 530.50)">5</text>
<line x1="449.00" y1="469.00" x2="450.50" y2="469.00" stroke="#5a5a5a" stroke-width="0.8"/>
<text x="443.90" y="473.60" font-size="10.3" text-anchor="end" font-weight="normal" fill="#262626">7</text>
<line x1="466.07" y1="519.70" x2="466.07" y2="518.20" stroke="#5a5a5a" stroke-width="0.8"/>
<text x="468.70" y="530.50" font-size="9.8" text-anchor="end" font-weight="normal" fill="#262626" transform="rotate(-45 468.70 530.50)">7</text>
<line x1="449.00" y1="481.07" x2="450.50" y2="481.07" stroke="#5a5a5a" stroke-width="0.8"/>
<text x="443.90" y="483.50" font-size="10.3" text-anchor="end" font-weight="normal" fill="#262626">12</text>
<line x1="478.27" y1="519.70" x2="478.27" y2="518.20" stroke="#5a5a5a" stroke-width="0.8"/>
<text x="478.60" y="531.10" font-size="9.8" text-anchor="end" font-weight="normal" fill="#262626" transform="rotate(-45 478.60 531.10)">12</text>
<line x1="449.00" y1="485.90" x2="450.50" y2="485.90" stroke="#5a5a5a" stroke-width="0.8"/>
<text x="443.90" y="491.20" font-size="10.3" text-anchor="end" font-weight="normal" fill="#262626">14</text>
<line x1="483.15" y1="519.70" x2="483.15" y2="518.20" stroke="#5a5a5a" stroke-width="0.8"/>
<text x="491.00" y="531.10" font-size="9.8" text-anchor="end" font-weight="normal" fill="#262626" transform="rotate(-45 491.00 531.10)">14</text>
<line x1="449.00" y1="519.70" x2="450.50" y2="519.70" stroke="#5a5a5a" stroke-width="0.8"/>
<text x="443.90" y="523.50" font-size="10.3" text-anchor="end" font-weight="normal" fill="#262626">28</text>
<line x1="517.30" y1="519.70" x2="517.30" y2="518.20" stroke="#5a5a5a" stroke-width="0.8"/>
<text x="521.40" y="529.80" font-size="9.8" text-anchor="end" font-weight="normal" fill="#262626" transform="rotate(-45 521.40 529.80)">28</text>
<defs><linearGradient id="g_par2" x1="0" y1="1" x2="0" y2="0"><stop offset="0.0" stop-color="#352a87"/><stop offset="0.047619047619047616" stop-color="#353dad"/><stop offset="0.09523809523809523" stop-color="#2053d4"/><stop offset="0.14285714285714285" stop-color="#0268e1"/><stop offset="0.19047619047619047" stop-color="#0d75dc"/><stop offset="0.23809523809523808" stop-color="#1481d6"/><stop offset="0.2857142857142857" stop-color="#108ed2"/><stop offset="0.3333333333333333" stop-color="#079ccf"/><stop offset="0.38095238095238093" stop-color="#06a7c6"/><stop offset="0.42857142857142855" stop-color="#0faeb9"/><stop offset="0.47619047619047616" stop-color="#25b5a9"/><stop offset="0.5238095238095238" stop-color="#42bb98"/><stop offset="0.5714285714285714" stop-color="#65be86"/><stop offset="0.6190476190476191" stop-color="#87bf77"/><stop offset="0.6666666666666666" stop-color="#a5be6b"/><stop offset="0.7142857142857143" stop-color="#c0bc60"/><stop offset="0.7619047619047619" stop-color="#d9ba56"/><stop offset="0.8095238095238095" stop-color="#f1b94a"/><stop offset="0.8571428571428571" stop-color="#ffc337"/><stop offset="0.9047619047619048" stop-color="#fad32a"/><stop offset="0.9523809523809523" stop-color="#f5e41d"/><stop offset="1.0" stop-color="#f9fb0e"/><stop offset="1.0" stop-color="#f9fb0e"/></linearGradient></defs>
<rect x="521.90" y="452.10" width="7.60" height="67.60" fill="url(#g_par2)"/>
<rect x="521.90" y="452.10" width="7.60" height="67.60" fill="none" stroke="#5a5a5a" stroke-width="0.8"/>
<text x="532.00" y="455.70" font-size="10.5" text-anchor="start" font-weight="normal" fill="#262626">1</text>
<text x="532.00" y="523.30" font-size="10.5" text-anchor="start" font-weight="normal" fill="#262626">0</text>
<text x="525.70" y="490.00" font-size="11" text-anchor="middle" font-weight="normal" fill="#1d5a62">R</text>
<text x="424.00" y="486.00" font-size="12.2" text-anchor="middle" font-weight="normal" fill="#262626" transform="rotate(-90 424.00 486.00)">Days</text>
<text x="483.10" y="551.20" font-size="12.2" text-anchor="middle" font-weight="normal" fill="#262626">Days</text>
<line x1="572.70" y1="173.00" x2="572.70" y2="240.50" stroke="#5a5a5a" stroke-width="1.2"/>
<line x1="572.70" y1="240.50" x2="639.70" y2="240.50" stroke="#5a5a5a" stroke-width="1.2"/>
<line x1="572.70" y1="175.80" x2="574.20" y2="175.80" stroke="#5a5a5a" stroke-width="0.8"/>
<text x="568.40" y="180.10" font-size="11.6" text-anchor="end" font-weight="normal" fill="#262626">1</text>
<line x1="572.70" y1="208.00" x2="574.20" y2="208.00" stroke="#5a5a5a" stroke-width="0.8"/>
<text x="568.40" y="212.30" font-size="11.6" text-anchor="end" font-weight="normal" fill="#262626">0.5</text>
<line x1="572.70" y1="240.20" x2="574.20" y2="240.20" stroke="#5a5a5a" stroke-width="0.8"/>
<text x="568.40" y="244.50" font-size="11.6" text-anchor="end" font-weight="normal" fill="#262626">0</text>
<line x1="572.50" y1="240.50" x2="572.50" y2="239.00" stroke="#5a5a5a" stroke-width="0.8"/>
<text x="572.50" y="255.20" font-size="11.6" text-anchor="middle" font-weight="normal" fill="#262626">0</text>
<line x1="593.70" y1="240.50" x2="593.70" y2="239.00" stroke="#5a5a5a" stroke-width="0.8"/>
<text x="593.70" y="255.20" font-size="11.6" text-anchor="middle" font-weight="normal" fill="#262626">1</text>
<line x1="614.90" y1="240.50" x2="614.90" y2="239.00" stroke="#5a5a5a" stroke-width="0.8"/>
<text x="614.90" y="255.20" font-size="11.6" text-anchor="middle" font-weight="normal" fill="#262626">2</text>
<line x1="636.10" y1="240.50" x2="636.10" y2="239.00" stroke="#5a5a5a" stroke-width="0.8"/>
<text x="636.10" y="255.20" font-size="11.6" text-anchor="middle" font-weight="normal" fill="#262626">3</text>
<text x="607.40" y="270.50" font-size="12.2" text-anchor="middle" font-weight="normal" fill="#262626">KL divergence</text>
<text x="548.80" y="207.40" font-size="12.2" text-anchor="middle" font-weight="normal" fill="#262626" transform="rotate(-90 548.80 207.40)">R</text>
<circle cx="584.6" cy="186.2" r="1.75" fill="#abd9e9"/>
<circle cx="586.4" cy="187.7" r="1.75" fill="#abd9e9"/>
<circle cx="581.0" cy="190.5" r="1.75" fill="#c8e6f2"/>
<circle cx="601.5" cy="195.9" r="1.75" fill="#abd9e9"/>
<circle cx="594.3" cy="198.8" r="1.75" fill="#c0e0f0"/>
<circle cx="602.3" cy="199.9" r="1.75" fill="#abd9e9"/>
<circle cx="593.3" cy="203.2" r="1.75" fill="#abd9e9"/>
<circle cx="607.3" cy="202.4" r="1.75" fill="#abd9e9"/>
<circle cx="606.6" cy="204.2" r="1.75" fill="#abd9e9"/>
<circle cx="619.1" cy="201.0" r="1.75" fill="#abd9e9"/>
<circle cx="627.9" cy="199.0" r="1.75" fill="#c0e4f0"/>
<circle cx="631.9" cy="195.7" r="1.75" fill="#abd9e9"/>
<circle cx="635.5" cy="200.0" r="1.75" fill="#a0d0e8"/>
<circle cx="584.8" cy="186.1" r="1.75" fill="#abd9e9"/>
<circle cx="580.4" cy="190.5" r="1.75" fill="#abd9e9"/>
<circle cx="593.0" cy="203.0" r="1.75" fill="#abd9e9"/>
<circle cx="596.3" cy="198.4" r="1.75" fill="#abd9e9"/>
<circle cx="601.8" cy="196.3" r="1.75" fill="#abd9e9"/>
<circle cx="606.7" cy="202.5" r="1.75" fill="#abd9e9"/>
<circle cx="607.2" cy="204.1" r="1.75" fill="#abd9e9"/>
<circle cx="613.8" cy="204.7" r="1.75" fill="#abd9e9"/>
<circle cx="628.0" cy="199.2" r="1.75" fill="#abd9e9"/>
<circle cx="631.9" cy="195.9" r="1.75" fill="#abd9e9"/>
<circle cx="635.7" cy="200.0" r="1.75" fill="#abd9e9"/>
<circle cx="639.6" cy="199.2" r="1.75" fill="#abd9e9"/>
<circle cx="620.4" cy="198.1" r="1.75" fill="#abd9e9"/>
<circle cx="596.9" cy="198.1" r="1.75" fill="#74add1"/>
<circle cx="621.0" cy="198.4" r="1.75" fill="#74add1"/>
<circle cx="639.4" cy="199.4" r="1.75" fill="#88bce0"/>
<circle cx="613.8" cy="204.6" r="1.75" fill="#88bce0"/>
<circle cx="616.0" cy="200.3" r="1.75" fill="#74add1"/>
<circle cx="620.4" cy="203.6" r="1.75" fill="#74add1"/>
<circle cx="623.7" cy="202.0" r="1.75" fill="#74add1"/>
<circle cx="607.8" cy="207.4" r="1.75" fill="#74add1"/>
<circle cx="621.5" cy="205.2" r="1.75" fill="#74add1"/>
<circle cx="608.0" cy="207.1" r="1.75" fill="#4575b4"/>
<circle cx="616.1" cy="200.3" r="1.75" fill="#5a98cc"/>
<circle cx="624.6" cy="202.0" r="1.75" fill="#5a98d0"/>
<circle cx="620.4" cy="204.0" r="1.75" fill="#5090c8"/>
<circle cx="619.1" cy="206.6" r="1.75" fill="#3a70b8"/>
<circle cx="623.0" cy="204.9" r="1.75" fill="#4070b8"/>
<circle cx="619.3" cy="206.3" r="1.75" fill="#4575b4"/>
<circle cx="623.7" cy="204.1" r="1.75" fill="#4575b4"/>
<circle cx="625.0" cy="207.2" r="1.75" fill="#2a3c98"/>
<circle cx="627.9" cy="206.9" r="1.75" fill="#2a3090"/>
<circle cx="624.8" cy="206.9" r="1.75" fill="#313695"/>
<circle cx="628.0" cy="206.9" r="1.75" fill="#313695"/>
<circle cx="583.9" cy="188.4" r="1.75" fill="#fdae61"/>
<circle cx="583.9" cy="191.6" r="1.75" fill="#fdae61"/>
<circle cx="600.8" cy="185.1" r="1.75" fill="#fdae61"/>
<circle cx="603.7" cy="189.5" r="1.75" fill="#fdae61"/>
<circle cx="609.5" cy="193.8" r="1.75" fill="#fdae61"/>
<circle cx="599.0" cy="196.3" r="1.75" fill="#fdae61"/>
<circle cx="603.0" cy="197.7" r="1.75" fill="#fdae61"/>
<circle cx="615.8" cy="197.4" r="1.75" fill="#fdae61"/>
<circle cx="624.6" cy="198.4" r="1.75" fill="#fdae61"/>
<circle cx="601.2" cy="185.5" r="1.75" fill="#fdae61"/>
<circle cx="603.4" cy="189.4" r="1.75" fill="#fdae61"/>
<circle cx="608.9" cy="194.3" r="1.75" fill="#fdae61"/>
<circle cx="599.0" cy="196.5" r="1.75" fill="#fdae61"/>
<circle cx="615.5" cy="197.6" r="1.75" fill="#fdae61"/>
<circle cx="624.8" cy="198.1" r="1.75" fill="#fdae61"/>
<circle cx="584.2" cy="191.5" r="1.75" fill="#fdae61"/>
<circle cx="580.4" cy="191.5" r="1.75" fill="#fdae61"/>
<circle cx="582.5" cy="183.7" r="1.75" fill="#f46d43"/>
<circle cx="589.7" cy="184.4" r="1.75" fill="#f46d43"/>
<circle cx="588.6" cy="188.4" r="1.75" fill="#f46d43"/>
<circle cx="599.7" cy="188.7" r="1.75" fill="#f46d43"/>
<circle cx="592.9" cy="190.9" r="1.75" fill="#f46d43"/>
<circle cx="592.9" cy="193.1" r="1.75" fill="#f46d43"/>
<circle cx="602.3" cy="193.1" r="1.75" fill="#f46d43"/>
<circle cx="588.9" cy="196.7" r="1.75" fill="#f46d43"/>
<circle cx="595.1" cy="196.3" r="1.75" fill="#f46d43"/>
<circle cx="605.2" cy="199.2" r="1.75" fill="#f46d43"/>
<circle cx="622.3" cy="187.2" r="1.75" fill="#f46d43"/>
<circle cx="608.5" cy="193.8" r="1.75" fill="#f46d43"/>
<circle cx="582.6" cy="183.3" r="1.75" fill="#f46d43"/>
<circle cx="589.7" cy="187.7" r="1.75" fill="#f46d43"/>
<circle cx="591.9" cy="189.9" r="1.75" fill="#f46d43"/>
<circle cx="588.6" cy="196.5" r="1.75" fill="#f46d43"/>
<circle cx="595.2" cy="196.3" r="1.75" fill="#f46d43"/>
<circle cx="605.0" cy="199.2" r="1.75" fill="#f46d43"/>
<circle cx="584.3" cy="181.5" r="1.75" fill="#d73027"/>
<circle cx="588.2" cy="181.9" r="1.75" fill="#d73027"/>
<circle cx="586.8" cy="184.1" r="1.75" fill="#d73027"/>
<circle cx="577.0" cy="190.5" r="1.75" fill="#d73027"/>
<circle cx="591.5" cy="186.9" r="1.75" fill="#d73027"/>
<circle cx="593.6" cy="186.2" r="1.75" fill="#d73027"/>
<circle cx="596.9" cy="188.4" r="1.75" fill="#d73027"/>
<circle cx="597.9" cy="190.9" r="1.75" fill="#d73027"/>
<circle cx="606.6" cy="188.0" r="1.75" fill="#d73027"/>
<circle cx="605.2" cy="194.5" r="1.75" fill="#d73027"/>
<circle cx="614.1" cy="193.1" r="1.75" fill="#d73027"/>
<circle cx="585.3" cy="184.4" r="1.75" fill="#d73027"/>
<circle cx="593.5" cy="186.6" r="1.75" fill="#d73027"/>
<circle cx="597.9" cy="186.6" r="1.75" fill="#d73027"/>
<circle cx="602.9" cy="193.2" r="1.75" fill="#d73027"/>
<circle cx="605.0" cy="194.3" r="1.75" fill="#d73027"/>
<circle cx="622.6" cy="187.2" r="1.75" fill="#d73027"/>
<circle cx="581.0" cy="179.4" r="1.75" fill="#a50026"/>
<circle cx="578.5" cy="181.5" r="1.75" fill="#a50026"/>
<circle cx="578.1" cy="183.3" r="1.75" fill="#a50026"/>
<circle cx="581.4" cy="187.3" r="1.75" fill="#a50026"/>
<circle cx="596.5" cy="185.9" r="1.75" fill="#a50026"/>
<circle cx="606.6" cy="191.3" r="1.75" fill="#a50026"/>
<circle cx="622.0" cy="190.5" r="1.75" fill="#c01828"/>
<circle cx="578.2" cy="182.2" r="1.75" fill="#a50026"/>
<circle cx="581.0" cy="179.5" r="1.75" fill="#a50026"/>
<circle cx="578.8" cy="183.9" r="1.75" fill="#a50026"/>
<circle cx="584.2" cy="181.7" r="1.75" fill="#a50026"/>
<circle cx="588.1" cy="181.7" r="1.75" fill="#a50026"/>
<circle cx="588.6" cy="183.9" r="1.75" fill="#a50026"/>
<circle cx="581.5" cy="187.2" r="1.75" fill="#a50026"/>
<circle cx="577.1" cy="190.5" r="1.75" fill="#a50026"/>
<circle cx="596.3" cy="185.5" r="1.75" fill="#a50026"/>
<circle cx="596.8" cy="188.3" r="1.75" fill="#a50026"/>
<circle cx="606.1" cy="188.3" r="1.75" fill="#a50026"/>
<circle cx="606.7" cy="191.5" r="1.75" fill="#a50026"/>
<circle cx="613.8" cy="193.2" r="1.75" fill="#a50026"/>
<circle cx="622.0" cy="190.5" r="1.75" fill="#a50026"/>
<circle cx="597.9" cy="191.0" r="1.75" fill="#a50026"/>
<line x1="574.4" y1="175.4" x2="581.2" y2="175.4" stroke="#5c0a1c" stroke-width="3.4" stroke-linecap="round"/>
<defs><linearGradient id="g_ci" x1="0" y1="1" x2="0" y2="0"><stop offset="0" stop-color="#9a0a28"/><stop offset="0.06" stop-color="#b81a2a"/><stop offset="0.15" stop-color="#d83a2c"/><stop offset="0.26" stop-color="#f06a40"/><stop offset="0.38" stop-color="#f89d55"/><stop offset="0.499" stop-color="#fbc87a"/><stop offset="0.501" stop-color="#d4ecf2"/><stop offset="0.6" stop-color="#a8d4e8"/><stop offset="0.72" stop-color="#75a8d4"/><stop offset="0.86" stop-color="#3f6fb8"/><stop offset="1.0" stop-color="#2c3e98"/></linearGradient></defs>
<rect x="644.40" y="173.40" width="6.70" height="67.10" fill="url(#g_ci)"/>
<rect x="644.40" y="173.40" width="6.70" height="67.10" fill="none" stroke="#5a5a5a" stroke-width="0.8"/>
<text x="653.80" y="244.00" font-size="10" text-anchor="start" font-weight="normal" fill="#262626">0</text>
<text x="653.80" y="234.41" font-size="10" text-anchor="start" font-weight="normal" fill="#262626">20</text>
<text x="653.80" y="224.83" font-size="10" text-anchor="start" font-weight="normal" fill="#262626">40</text>
<text x="653.80" y="215.24" font-size="10" text-anchor="start" font-weight="normal" fill="#262626">60</text>
<text x="653.80" y="205.66" font-size="10" text-anchor="start" font-weight="normal" fill="#262626">80</text>
<text x="653.80" y="196.07" font-size="10" text-anchor="start" font-weight="normal" fill="#262626">100</text>
<text x="653.80" y="186.49" font-size="10" text-anchor="start" font-weight="normal" fill="#262626">120</text>
<text x="653.80" y="176.90" font-size="10" text-anchor="start" font-weight="normal" fill="#262626">140</text>
<text x="682.40" y="207.00" font-size="10" text-anchor="middle" font-weight="normal" fill="#262626" transform="rotate(-90 682.40 207.00)">Days apart</text>
<line x1="573.30" y1="452.10" x2="573.30" y2="521.40" stroke="#5a5a5a" stroke-width="1.2"/>
<line x1="573.30" y1="521.40" x2="642.80" y2="521.40" stroke="#5a5a5a" stroke-width="1.2"/>
<line x1="573.30" y1="454.50" x2="574.80" y2="454.50" stroke="#5a5a5a" stroke-width="0.8"/>
<text x="569.00" y="458.80" font-size="11.6" text-anchor="end" font-weight="normal" fill="#262626">1</text>
<line x1="573.30" y1="488.60" x2="574.80" y2="488.60" stroke="#5a5a5a" stroke-width="0.8"/>
<text x="569.00" y="492.90" font-size="11.6" text-anchor="end" font-weight="normal" fill="#262626">0.5</text>
<line x1="573.30" y1="521.40" x2="573.30" y2="519.90" stroke="#5a5a5a" stroke-width="0.8"/>
<text x="573.30" y="535.80" font-size="11.6" text-anchor="middle" font-weight="normal" fill="#262626">0</text>
<line x1="600.20" y1="521.40" x2="600.20" y2="519.90" stroke="#5a5a5a" stroke-width="0.8"/>
<text x="600.20" y="535.80" font-size="11.6" text-anchor="middle" font-weight="normal" fill="#262626">1</text>
<line x1="627.10" y1="521.40" x2="627.10" y2="519.90" stroke="#5a5a5a" stroke-width="0.8"/>
<text x="627.10" y="535.80" font-size="11.6" text-anchor="middle" font-weight="normal" fill="#262626">2</text>
<text x="610.40" y="550.80" font-size="12.2" text-anchor="middle" font-weight="normal" fill="#262626">KL divergence</text>
<text x="549.60" y="486.00" font-size="12.2" text-anchor="middle" font-weight="normal" fill="#262626" transform="rotate(-90 549.60 486.00)">R</text>
<line x1="576.8" y1="454.3" x2="580.0" y2="454.3" stroke="#5c0a1c" stroke-width="3.3" stroke-linecap="round"/>
<circle cx="582.4" cy="473.0" r="1.75" fill="#c0202a"/>
<circle cx="588.5" cy="479.6" r="1.75" fill="#c0202a"/>
<circle cx="606.2" cy="473.0" r="1.75" fill="#c8282a"/>
<circle cx="602.6" cy="484.4" r="1.75" fill="#d0302a"/>
<circle cx="599.4" cy="497.3" r="1.75" fill="#d0302a"/>
<circle cx="610.4" cy="499.0" r="1.75" fill="#e05040"/>
<circle cx="615.2" cy="496.6" r="1.75" fill="#e05a40"/>
<circle cx="584.8" cy="482.0" r="1.75" fill="#fdb863"/>
<circle cx="626.9" cy="498.3" r="1.75" fill="#f8a058"/>
<circle cx="642.0" cy="504.4" r="1.75" fill="#fdb863"/>
<circle cx="631.0" cy="502.2" r="1.75" fill="#f47a48"/>
<circle cx="586.8" cy="484.4" r="1.75" fill="#b8dcec"/>
<circle cx="604.3" cy="487.6" r="1.75" fill="#3a5aa8"/>
<circle cx="604.3" cy="491.2" r="1.75" fill="#5a90cc"/>
<circle cx="597.0" cy="497.3" r="1.75" fill="#5a90cc"/>
<defs><linearGradient id="g_cj" x1="0" y1="1" x2="0" y2="0"><stop offset="0" stop-color="#8a0a28"/><stop offset="0.1" stop-color="#c8202a"/><stop offset="0.22" stop-color="#e85a38"/><stop offset="0.36" stop-color="#f89050"/><stop offset="0.499" stop-color="#fbc070"/><stop offset="0.511" stop-color="#b8dcec"/><stop offset="0.64" stop-color="#70a8d4"/><stop offset="0.8" stop-color="#3a68b0"/><stop offset="1.0" stop-color="#2a3a90"/></linearGradient></defs>
<rect x="646.40" y="452.90" width="7.20" height="68.70" fill="url(#g_cj)"/>
<rect x="646.40" y="452.90" width="7.20" height="68.70" fill="none" stroke="#5a5a5a" stroke-width="0.8"/>
<text x="656.20" y="525.10" font-size="10" text-anchor="start" font-weight="normal" fill="#262626">0</text>
<text x="656.20" y="512.83" font-size="10" text-anchor="start" font-weight="normal" fill="#262626">5</text>
<text x="656.20" y="500.56" font-size="10" text-anchor="start" font-weight="normal" fill="#262626">10</text>
<text x="656.20" y="488.30" font-size="10" text-anchor="start" font-weight="normal" fill="#262626">15</text>
<text x="656.20" y="476.03" font-size="10" text-anchor="start" font-weight="normal" fill="#262626">20</text>
<text x="656.20" y="463.76" font-size="10" text-anchor="start" font-weight="normal" fill="#262626">25</text>
<text x="679.40" y="487.00" font-size="10" text-anchor="middle" font-weight="normal" fill="#262626" transform="rotate(-90 679.40 487.00)">Days apart</text>
</svg></body></html>
